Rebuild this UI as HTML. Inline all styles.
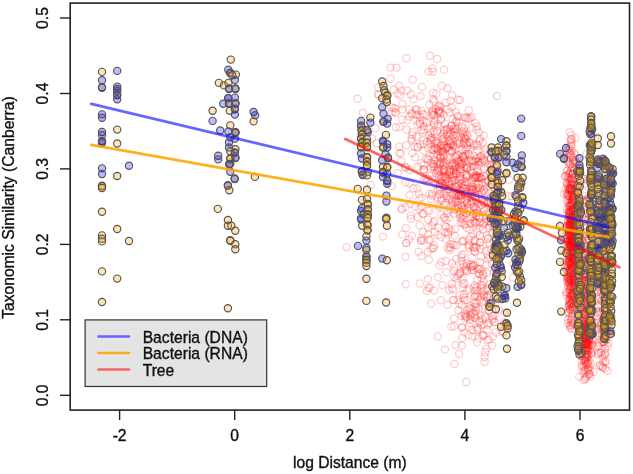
<!DOCTYPE html><html><head><meta charset="utf-8"><style>html,body{margin:0;padding:0;background:#fff;}svg{display:block;will-change:transform}</style></head><body><svg width="633" height="474" viewBox="0 0 633 474"><rect x="70.2" y="3.1" width="559.3" height="407" fill="none" stroke="#222" stroke-width="1.6"/><line x1="119.6" y1="410" x2="119.6" y2="420" stroke="#222" stroke-width="1.4"/><text x="119.6" y="441.4" text-anchor="middle" font-size="15.65" font-family="Liberation Sans, sans-serif" stroke="#111" stroke-width="0.35" fill="#111">-2</text><line x1="234.7" y1="410" x2="234.7" y2="420" stroke="#222" stroke-width="1.4"/><text x="234.7" y="441.4" text-anchor="middle" font-size="15.65" font-family="Liberation Sans, sans-serif" stroke="#111" stroke-width="0.35" fill="#111">0</text><line x1="349.8" y1="410" x2="349.8" y2="420" stroke="#222" stroke-width="1.4"/><text x="349.8" y="441.4" text-anchor="middle" font-size="15.65" font-family="Liberation Sans, sans-serif" stroke="#111" stroke-width="0.35" fill="#111">2</text><line x1="464.9" y1="410" x2="464.9" y2="420" stroke="#222" stroke-width="1.4"/><text x="464.9" y="441.4" text-anchor="middle" font-size="15.65" font-family="Liberation Sans, sans-serif" stroke="#111" stroke-width="0.35" fill="#111">4</text><line x1="580.0" y1="410" x2="580.0" y2="420" stroke="#222" stroke-width="1.4"/><text x="580.0" y="441.4" text-anchor="middle" font-size="15.65" font-family="Liberation Sans, sans-serif" stroke="#111" stroke-width="0.35" fill="#111">6</text><line x1="60" y1="395.3" x2="70.2" y2="395.3" stroke="#222" stroke-width="1.4"/><text transform="translate(48.3,395.3) rotate(-90)" text-anchor="middle" font-size="15.65" font-family="Liberation Sans, sans-serif" stroke="#111" stroke-width="0.35" fill="#111">0.0</text><line x1="60" y1="319.8" x2="70.2" y2="319.8" stroke="#222" stroke-width="1.4"/><text transform="translate(48.3,319.8) rotate(-90)" text-anchor="middle" font-size="15.65" font-family="Liberation Sans, sans-serif" stroke="#111" stroke-width="0.35" fill="#111">0.1</text><line x1="60" y1="244.4" x2="70.2" y2="244.4" stroke="#222" stroke-width="1.4"/><text transform="translate(48.3,244.4) rotate(-90)" text-anchor="middle" font-size="15.65" font-family="Liberation Sans, sans-serif" stroke="#111" stroke-width="0.35" fill="#111">0.2</text><line x1="60" y1="168.9" x2="70.2" y2="168.9" stroke="#222" stroke-width="1.4"/><text transform="translate(48.3,168.9) rotate(-90)" text-anchor="middle" font-size="15.65" font-family="Liberation Sans, sans-serif" stroke="#111" stroke-width="0.35" fill="#111">0.3</text><line x1="60" y1="93.5" x2="70.2" y2="93.5" stroke="#222" stroke-width="1.4"/><text transform="translate(48.3,93.5) rotate(-90)" text-anchor="middle" font-size="15.65" font-family="Liberation Sans, sans-serif" stroke="#111" stroke-width="0.35" fill="#111">0.4</text><line x1="60" y1="18.0" x2="70.2" y2="18.0" stroke="#222" stroke-width="1.4"/><text transform="translate(48.3,18.0) rotate(-90)" text-anchor="middle" font-size="15.65" font-family="Liberation Sans, sans-serif" stroke="#111" stroke-width="0.35" fill="#111">0.5</text><text x="349.9" y="467.8" text-anchor="middle" font-size="15.65" font-family="Liberation Sans, sans-serif" stroke="#111" stroke-width="0.35" fill="#111">log Distance (m)</text><text transform="translate(13.8,207.6) rotate(-90)" text-anchor="middle" font-size="15.65" font-family="Liberation Sans, sans-serif" stroke="#111" stroke-width="0.35" fill="#111">Taxonomic Similarity (Canberra)</text><g fill="none" stroke="rgba(255,0,0,0.2)" stroke-width="1.25"><circle cx="446.4" cy="163.8" r="3.6"/><circle cx="463.7" cy="158.2" r="3.6"/><circle cx="450.0" cy="130.3" r="3.6"/><circle cx="470.7" cy="218.9" r="3.6"/><circle cx="473.0" cy="214.4" r="3.6"/><circle cx="463.7" cy="187.6" r="3.6"/><circle cx="416.1" cy="109.1" r="3.6"/><circle cx="459.2" cy="194.8" r="3.6"/><circle cx="455.9" cy="129.8" r="3.6"/><circle cx="467.0" cy="182.1" r="3.6"/><circle cx="482.7" cy="186.0" r="3.6"/><circle cx="458.0" cy="185.8" r="3.6"/><circle cx="415.1" cy="157.2" r="3.6"/><circle cx="445.8" cy="202.6" r="3.6"/><circle cx="465.9" cy="138.6" r="3.6"/><circle cx="457.5" cy="155.1" r="3.6"/><circle cx="466.4" cy="197.8" r="3.6"/><circle cx="473.1" cy="143.9" r="3.6"/><circle cx="427.5" cy="158.8" r="3.6"/><circle cx="442.7" cy="139.1" r="3.6"/><circle cx="498.4" cy="175.1" r="3.6"/><circle cx="435.2" cy="182.7" r="3.6"/><circle cx="475.9" cy="158.9" r="3.6"/><circle cx="470.5" cy="189.8" r="3.6"/><circle cx="420.0" cy="117.1" r="3.6"/><circle cx="452.7" cy="205.1" r="3.6"/><circle cx="477.4" cy="231.8" r="3.6"/><circle cx="489.5" cy="164.2" r="3.6"/><circle cx="483.6" cy="190.1" r="3.6"/><circle cx="479.3" cy="141.1" r="3.6"/><circle cx="455.9" cy="126.1" r="3.6"/><circle cx="432.1" cy="112.5" r="3.6"/><circle cx="473.0" cy="233.7" r="3.6"/><circle cx="481.9" cy="178.5" r="3.6"/><circle cx="422.6" cy="132.4" r="3.6"/><circle cx="476.0" cy="216.2" r="3.6"/><circle cx="456.2" cy="183.6" r="3.6"/><circle cx="474.6" cy="240.1" r="3.6"/><circle cx="458.4" cy="195.7" r="3.6"/><circle cx="409.0" cy="116.6" r="3.6"/><circle cx="465.9" cy="213.3" r="3.6"/><circle cx="437.2" cy="170.9" r="3.6"/><circle cx="406.5" cy="129.8" r="3.6"/><circle cx="473.2" cy="191.3" r="3.6"/><circle cx="453.1" cy="188.6" r="3.6"/><circle cx="439.6" cy="184.4" r="3.6"/><circle cx="458.6" cy="139.6" r="3.6"/><circle cx="477.6" cy="212.7" r="3.6"/><circle cx="427.2" cy="141.9" r="3.6"/><circle cx="494.2" cy="226.1" r="3.6"/><circle cx="441.0" cy="112.6" r="3.6"/><circle cx="464.6" cy="161.5" r="3.6"/><circle cx="435.1" cy="143.1" r="3.6"/><circle cx="462.1" cy="223.1" r="3.6"/><circle cx="463.8" cy="185.3" r="3.6"/><circle cx="451.8" cy="181.0" r="3.6"/><circle cx="452.4" cy="165.1" r="3.6"/><circle cx="470.4" cy="193.4" r="3.6"/><circle cx="462.0" cy="205.8" r="3.6"/><circle cx="487.5" cy="254.7" r="3.6"/><circle cx="461.6" cy="149.5" r="3.6"/><circle cx="441.9" cy="177.1" r="3.6"/><circle cx="447.6" cy="159.4" r="3.6"/><circle cx="437.5" cy="126.2" r="3.6"/><circle cx="462.7" cy="188.2" r="3.6"/><circle cx="440.5" cy="157.8" r="3.6"/><circle cx="476.3" cy="177.2" r="3.6"/><circle cx="493.8" cy="272.1" r="3.6"/><circle cx="453.9" cy="146.6" r="3.6"/><circle cx="458.6" cy="160.3" r="3.6"/><circle cx="440.5" cy="175.1" r="3.6"/><circle cx="444.7" cy="217.2" r="3.6"/><circle cx="442.7" cy="161.2" r="3.6"/><circle cx="439.5" cy="187.0" r="3.6"/><circle cx="454.6" cy="165.5" r="3.6"/><circle cx="471.3" cy="203.7" r="3.6"/><circle cx="428.3" cy="179.0" r="3.6"/><circle cx="484.3" cy="210.4" r="3.6"/><circle cx="481.5" cy="205.1" r="3.6"/><circle cx="448.8" cy="181.2" r="3.6"/><circle cx="451.6" cy="184.3" r="3.6"/><circle cx="490.8" cy="187.1" r="3.6"/><circle cx="466.6" cy="227.8" r="3.6"/><circle cx="484.3" cy="160.6" r="3.6"/><circle cx="441.2" cy="214.4" r="3.6"/><circle cx="414.5" cy="146.5" r="3.6"/><circle cx="480.9" cy="208.8" r="3.6"/><circle cx="471.7" cy="161.1" r="3.6"/><circle cx="459.2" cy="189.7" r="3.6"/><circle cx="449.4" cy="228.6" r="3.6"/><circle cx="488.6" cy="227.8" r="3.6"/><circle cx="428.0" cy="148.0" r="3.6"/><circle cx="460.4" cy="175.7" r="3.6"/><circle cx="489.8" cy="225.9" r="3.6"/><circle cx="478.7" cy="177.9" r="3.6"/><circle cx="443.9" cy="176.5" r="3.6"/><circle cx="435.2" cy="184.2" r="3.6"/><circle cx="438.8" cy="176.1" r="3.6"/><circle cx="452.7" cy="244.1" r="3.6"/><circle cx="432.0" cy="149.8" r="3.6"/><circle cx="441.0" cy="119.6" r="3.6"/><circle cx="458.4" cy="161.9" r="3.6"/><circle cx="446.5" cy="147.8" r="3.6"/><circle cx="489.6" cy="243.4" r="3.6"/><circle cx="449.3" cy="199.9" r="3.6"/><circle cx="483.4" cy="151.5" r="3.6"/><circle cx="429.9" cy="156.2" r="3.6"/><circle cx="461.4" cy="217.6" r="3.6"/><circle cx="444.7" cy="176.9" r="3.6"/><circle cx="487.8" cy="167.1" r="3.6"/><circle cx="487.7" cy="203.0" r="3.6"/><circle cx="461.9" cy="126.8" r="3.6"/><circle cx="438.1" cy="106.5" r="3.6"/><circle cx="434.1" cy="124.9" r="3.6"/><circle cx="478.6" cy="197.3" r="3.6"/><circle cx="475.2" cy="178.1" r="3.6"/><circle cx="458.6" cy="208.0" r="3.6"/><circle cx="465.3" cy="199.9" r="3.6"/><circle cx="469.5" cy="229.8" r="3.6"/><circle cx="449.1" cy="217.4" r="3.6"/><circle cx="465.7" cy="154.0" r="3.6"/><circle cx="419.3" cy="209.1" r="3.6"/><circle cx="431.6" cy="137.8" r="3.6"/><circle cx="494.5" cy="246.0" r="3.6"/><circle cx="451.8" cy="200.3" r="3.6"/><circle cx="447.9" cy="132.3" r="3.6"/><circle cx="449.0" cy="188.7" r="3.6"/><circle cx="464.4" cy="167.0" r="3.6"/><circle cx="451.6" cy="125.6" r="3.6"/><circle cx="473.6" cy="207.2" r="3.6"/><circle cx="464.1" cy="128.3" r="3.6"/><circle cx="481.7" cy="288.2" r="3.6"/><circle cx="461.4" cy="199.3" r="3.6"/><circle cx="480.0" cy="242.2" r="3.6"/><circle cx="449.2" cy="171.6" r="3.6"/><circle cx="480.7" cy="177.5" r="3.6"/><circle cx="445.9" cy="239.0" r="3.6"/><circle cx="451.5" cy="107.3" r="3.6"/><circle cx="462.1" cy="183.4" r="3.6"/><circle cx="474.3" cy="145.7" r="3.6"/><circle cx="474.8" cy="265.1" r="3.6"/><circle cx="468.8" cy="110.2" r="3.6"/><circle cx="468.9" cy="247.6" r="3.6"/><circle cx="474.5" cy="251.0" r="3.6"/><circle cx="441.3" cy="136.6" r="3.6"/><circle cx="449.4" cy="171.9" r="3.6"/><circle cx="451.5" cy="139.3" r="3.6"/><circle cx="460.9" cy="191.8" r="3.6"/><circle cx="467.3" cy="197.8" r="3.6"/><circle cx="439.6" cy="163.3" r="3.6"/><circle cx="478.7" cy="165.2" r="3.6"/><circle cx="450.7" cy="144.5" r="3.6"/><circle cx="456.0" cy="166.8" r="3.6"/><circle cx="457.4" cy="171.4" r="3.6"/><circle cx="484.5" cy="154.2" r="3.6"/><circle cx="446.5" cy="195.9" r="3.6"/><circle cx="472.0" cy="186.2" r="3.6"/><circle cx="488.1" cy="180.3" r="3.6"/><circle cx="430.6" cy="138.1" r="3.6"/><circle cx="411.7" cy="140.6" r="3.6"/><circle cx="482.6" cy="143.1" r="3.6"/><circle cx="437.8" cy="143.2" r="3.6"/><circle cx="465.6" cy="191.7" r="3.6"/><circle cx="471.0" cy="236.4" r="3.6"/><circle cx="448.5" cy="174.1" r="3.6"/><circle cx="468.5" cy="245.5" r="3.6"/><circle cx="500.0" cy="202.8" r="3.6"/><circle cx="443.7" cy="170.0" r="3.6"/><circle cx="434.3" cy="166.7" r="3.6"/><circle cx="452.3" cy="201.8" r="3.6"/><circle cx="405.6" cy="182.3" r="3.6"/><circle cx="485.8" cy="218.8" r="3.6"/><circle cx="409.6" cy="195.1" r="3.6"/><circle cx="437.5" cy="163.2" r="3.6"/><circle cx="477.0" cy="210.1" r="3.6"/><circle cx="437.9" cy="123.9" r="3.6"/><circle cx="443.9" cy="194.0" r="3.6"/><circle cx="473.4" cy="202.1" r="3.6"/><circle cx="464.1" cy="209.3" r="3.6"/><circle cx="463.3" cy="178.9" r="3.6"/><circle cx="443.0" cy="165.7" r="3.6"/><circle cx="456.4" cy="121.8" r="3.6"/><circle cx="490.9" cy="158.1" r="3.6"/><circle cx="438.1" cy="146.8" r="3.6"/><circle cx="471.4" cy="192.7" r="3.6"/><circle cx="486.1" cy="148.9" r="3.6"/><circle cx="480.6" cy="248.8" r="3.6"/><circle cx="497.0" cy="207.3" r="3.6"/><circle cx="454.8" cy="209.5" r="3.6"/><circle cx="479.2" cy="132.8" r="3.6"/><circle cx="456.4" cy="173.3" r="3.6"/><circle cx="457.1" cy="201.7" r="3.6"/><circle cx="462.0" cy="240.9" r="3.6"/><circle cx="449.7" cy="112.3" r="3.6"/><circle cx="465.5" cy="117.9" r="3.6"/><circle cx="459.5" cy="166.7" r="3.6"/><circle cx="441.1" cy="119.3" r="3.6"/><circle cx="464.1" cy="159.3" r="3.6"/><circle cx="475.5" cy="161.2" r="3.6"/><circle cx="465.3" cy="201.5" r="3.6"/><circle cx="473.3" cy="160.9" r="3.6"/><circle cx="444.1" cy="130.3" r="3.6"/><circle cx="432.1" cy="110.3" r="3.6"/><circle cx="491.5" cy="164.7" r="3.6"/><circle cx="463.3" cy="157.2" r="3.6"/><circle cx="456.1" cy="193.8" r="3.6"/><circle cx="477.8" cy="161.5" r="3.6"/><circle cx="460.0" cy="163.6" r="3.6"/><circle cx="467.1" cy="202.4" r="3.6"/><circle cx="476.7" cy="129.4" r="3.6"/><circle cx="470.0" cy="148.7" r="3.6"/><circle cx="445.0" cy="123.7" r="3.6"/><circle cx="450.8" cy="150.8" r="3.6"/><circle cx="478.0" cy="187.9" r="3.6"/><circle cx="476.7" cy="215.9" r="3.6"/><circle cx="443.6" cy="141.4" r="3.6"/><circle cx="423.3" cy="213.8" r="3.6"/><circle cx="440.2" cy="193.7" r="3.6"/><circle cx="454.3" cy="209.1" r="3.6"/><circle cx="472.6" cy="189.5" r="3.6"/><circle cx="491.4" cy="181.9" r="3.6"/><circle cx="421.8" cy="197.6" r="3.6"/><circle cx="456.9" cy="161.0" r="3.6"/><circle cx="479.6" cy="217.7" r="3.6"/><circle cx="442.4" cy="139.2" r="3.6"/><circle cx="456.1" cy="199.6" r="3.6"/><circle cx="412.5" cy="152.9" r="3.6"/><circle cx="488.1" cy="238.1" r="3.6"/><circle cx="474.2" cy="177.4" r="3.6"/><circle cx="498.7" cy="221.9" r="3.6"/><circle cx="481.9" cy="193.5" r="3.6"/><circle cx="434.9" cy="147.6" r="3.6"/><circle cx="483.2" cy="224.3" r="3.6"/><circle cx="433.3" cy="149.1" r="3.6"/><circle cx="453.8" cy="170.5" r="3.6"/><circle cx="463.0" cy="241.5" r="3.6"/><circle cx="405.9" cy="167.6" r="3.6"/><circle cx="445.0" cy="176.6" r="3.6"/><circle cx="451.2" cy="143.2" r="3.6"/><circle cx="395.7" cy="113.3" r="3.6"/><circle cx="489.8" cy="214.2" r="3.6"/><circle cx="466.4" cy="165.0" r="3.6"/><circle cx="481.2" cy="156.1" r="3.6"/><circle cx="490.7" cy="159.1" r="3.6"/><circle cx="453.5" cy="169.6" r="3.6"/><circle cx="473.4" cy="187.2" r="3.6"/><circle cx="442.8" cy="134.4" r="3.6"/><circle cx="421.1" cy="163.1" r="3.6"/><circle cx="476.0" cy="200.4" r="3.6"/><circle cx="467.6" cy="145.0" r="3.6"/><circle cx="452.8" cy="128.9" r="3.6"/><circle cx="455.3" cy="186.3" r="3.6"/><circle cx="427.6" cy="210.5" r="3.6"/><circle cx="449.1" cy="141.4" r="3.6"/><circle cx="448.9" cy="150.1" r="3.6"/><circle cx="455.2" cy="179.7" r="3.6"/><circle cx="449.6" cy="163.3" r="3.6"/><circle cx="446.1" cy="178.5" r="3.6"/><circle cx="482.0" cy="161.4" r="3.6"/><circle cx="431.0" cy="132.6" r="3.6"/><circle cx="437.3" cy="148.7" r="3.6"/><circle cx="467.0" cy="203.0" r="3.6"/><circle cx="471.5" cy="189.9" r="3.6"/><circle cx="438.4" cy="112.3" r="3.6"/><circle cx="479.3" cy="184.2" r="3.6"/><circle cx="444.1" cy="172.1" r="3.6"/><circle cx="433.5" cy="139.5" r="3.6"/><circle cx="466.5" cy="174.7" r="3.6"/><circle cx="479.9" cy="235.4" r="3.6"/><circle cx="489.9" cy="200.9" r="3.6"/><circle cx="460.9" cy="169.3" r="3.6"/><circle cx="402.3" cy="109.4" r="3.6"/><circle cx="475.9" cy="199.3" r="3.6"/><circle cx="460.9" cy="191.3" r="3.6"/><circle cx="440.6" cy="107.1" r="3.6"/><circle cx="497.3" cy="226.2" r="3.6"/><circle cx="471.9" cy="117.1" r="3.6"/><circle cx="434.0" cy="122.9" r="3.6"/><circle cx="480.1" cy="242.6" r="3.6"/><circle cx="419.5" cy="198.4" r="3.6"/><circle cx="466.2" cy="143.3" r="3.6"/><circle cx="458.5" cy="196.1" r="3.6"/><circle cx="468.1" cy="119.0" r="3.6"/><circle cx="460.8" cy="183.9" r="3.6"/><circle cx="443.6" cy="115.0" r="3.6"/><circle cx="442.7" cy="151.7" r="3.6"/><circle cx="460.8" cy="164.5" r="3.6"/><circle cx="433.7" cy="164.3" r="3.6"/><circle cx="491.4" cy="223.7" r="3.6"/><circle cx="490.4" cy="198.3" r="3.6"/><circle cx="446.9" cy="179.1" r="3.6"/><circle cx="493.8" cy="228.6" r="3.6"/><circle cx="455.8" cy="168.6" r="3.6"/><circle cx="436.0" cy="109.0" r="3.6"/><circle cx="442.3" cy="145.5" r="3.6"/><circle cx="456.3" cy="173.7" r="3.6"/><circle cx="433.8" cy="154.9" r="3.6"/><circle cx="468.9" cy="153.9" r="3.6"/><circle cx="450.3" cy="142.2" r="3.6"/><circle cx="478.3" cy="203.3" r="3.6"/><circle cx="479.5" cy="177.2" r="3.6"/><circle cx="432.0" cy="196.0" r="3.6"/><circle cx="401.4" cy="161.5" r="3.6"/><circle cx="450.0" cy="143.9" r="3.6"/><circle cx="443.0" cy="185.5" r="3.6"/><circle cx="454.8" cy="201.3" r="3.6"/><circle cx="417.6" cy="217.1" r="3.6"/><circle cx="459.2" cy="180.5" r="3.6"/><circle cx="468.8" cy="210.9" r="3.6"/><circle cx="482.0" cy="200.1" r="3.6"/><circle cx="432.3" cy="225.4" r="3.6"/><circle cx="466.1" cy="167.7" r="3.6"/><circle cx="469.9" cy="142.7" r="3.6"/><circle cx="437.6" cy="149.6" r="3.6"/><circle cx="460.3" cy="172.0" r="3.6"/><circle cx="439.5" cy="170.5" r="3.6"/><circle cx="472.0" cy="189.0" r="3.6"/><circle cx="475.1" cy="195.9" r="3.6"/><circle cx="412.3" cy="135.0" r="3.6"/><circle cx="488.2" cy="181.1" r="3.6"/><circle cx="471.7" cy="216.9" r="3.6"/><circle cx="402.4" cy="119.4" r="3.6"/><circle cx="448.3" cy="191.0" r="3.6"/><circle cx="467.3" cy="176.8" r="3.6"/><circle cx="415.7" cy="114.8" r="3.6"/><circle cx="467.3" cy="168.9" r="3.6"/><circle cx="465.2" cy="185.0" r="3.6"/><circle cx="479.7" cy="194.5" r="3.6"/><circle cx="440.2" cy="158.3" r="3.6"/><circle cx="490.5" cy="221.5" r="3.6"/><circle cx="426.7" cy="178.1" r="3.6"/><circle cx="440.7" cy="162.8" r="3.6"/><circle cx="487.9" cy="238.8" r="3.6"/><circle cx="495.7" cy="214.2" r="3.6"/><circle cx="466.0" cy="177.8" r="3.6"/><circle cx="439.9" cy="184.0" r="3.6"/><circle cx="441.4" cy="150.6" r="3.6"/><circle cx="433.5" cy="131.1" r="3.6"/><circle cx="476.1" cy="191.0" r="3.6"/><circle cx="460.9" cy="137.0" r="3.6"/><circle cx="436.9" cy="160.7" r="3.6"/><circle cx="470.5" cy="170.1" r="3.6"/><circle cx="437.7" cy="205.2" r="3.6"/><circle cx="453.6" cy="173.3" r="3.6"/><circle cx="476.0" cy="222.8" r="3.6"/><circle cx="451.8" cy="171.8" r="3.6"/><circle cx="463.3" cy="214.9" r="3.6"/><circle cx="478.0" cy="150.2" r="3.6"/><circle cx="441.6" cy="182.7" r="3.6"/><circle cx="464.0" cy="117.1" r="3.6"/><circle cx="465.6" cy="155.8" r="3.6"/><circle cx="482.7" cy="182.6" r="3.6"/><circle cx="454.5" cy="130.8" r="3.6"/><circle cx="473.7" cy="162.5" r="3.6"/><circle cx="445.9" cy="176.7" r="3.6"/><circle cx="445.8" cy="232.4" r="3.6"/><circle cx="456.6" cy="134.6" r="3.6"/><circle cx="449.7" cy="140.2" r="3.6"/><circle cx="497.3" cy="180.1" r="3.6"/><circle cx="469.2" cy="188.7" r="3.6"/><circle cx="470.0" cy="204.7" r="3.6"/><circle cx="459.8" cy="193.0" r="3.6"/><circle cx="487.1" cy="221.4" r="3.6"/><circle cx="483.8" cy="202.3" r="3.6"/><circle cx="489.6" cy="193.0" r="3.6"/><circle cx="423.9" cy="179.8" r="3.6"/><circle cx="471.6" cy="186.9" r="3.6"/><circle cx="458.2" cy="116.8" r="3.6"/><circle cx="445.0" cy="185.6" r="3.6"/><circle cx="457.3" cy="191.7" r="3.6"/><circle cx="432.7" cy="179.4" r="3.6"/><circle cx="465.8" cy="149.5" r="3.6"/><circle cx="474.3" cy="206.8" r="3.6"/><circle cx="468.2" cy="153.9" r="3.6"/><circle cx="444.0" cy="164.7" r="3.6"/><circle cx="491.5" cy="174.5" r="3.6"/><circle cx="464.4" cy="188.9" r="3.6"/><circle cx="428.8" cy="135.6" r="3.6"/><circle cx="463.2" cy="155.8" r="3.6"/><circle cx="447.2" cy="213.4" r="3.6"/><circle cx="440.7" cy="145.5" r="3.6"/><circle cx="399.4" cy="153.3" r="3.6"/><circle cx="428.5" cy="159.7" r="3.6"/><circle cx="433.8" cy="150.3" r="3.6"/><circle cx="443.6" cy="156.4" r="3.6"/><circle cx="473.1" cy="160.7" r="3.6"/><circle cx="494.9" cy="258.5" r="3.6"/><circle cx="416.5" cy="110.0" r="3.6"/><circle cx="409.1" cy="109.2" r="3.6"/><circle cx="448.5" cy="147.6" r="3.6"/><circle cx="479.4" cy="222.4" r="3.6"/><circle cx="465.4" cy="224.3" r="3.6"/><circle cx="430.0" cy="143.8" r="3.6"/><circle cx="456.0" cy="195.6" r="3.6"/><circle cx="460.9" cy="212.8" r="3.6"/><circle cx="453.7" cy="181.0" r="3.6"/><circle cx="454.8" cy="156.9" r="3.6"/><circle cx="484.6" cy="202.5" r="3.6"/><circle cx="496.0" cy="210.3" r="3.6"/><circle cx="476.2" cy="176.5" r="3.6"/><circle cx="477.7" cy="170.8" r="3.6"/><circle cx="412.4" cy="113.8" r="3.6"/><circle cx="477.4" cy="177.8" r="3.6"/><circle cx="444.1" cy="186.4" r="3.6"/><circle cx="447.1" cy="129.2" r="3.6"/><circle cx="459.2" cy="196.3" r="3.6"/><circle cx="474.8" cy="223.4" r="3.6"/><circle cx="466.9" cy="168.2" r="3.6"/><circle cx="474.0" cy="177.2" r="3.6"/><circle cx="459.2" cy="122.1" r="3.6"/><circle cx="463.7" cy="140.6" r="3.6"/><circle cx="428.9" cy="128.0" r="3.6"/><circle cx="426.0" cy="122.0" r="3.6"/><circle cx="437.1" cy="131.5" r="3.6"/><circle cx="479.5" cy="227.7" r="3.6"/><circle cx="448.0" cy="140.6" r="3.6"/><circle cx="498.8" cy="161.8" r="3.6"/><circle cx="447.7" cy="146.6" r="3.6"/><circle cx="451.6" cy="151.5" r="3.6"/><circle cx="457.5" cy="206.3" r="3.6"/><circle cx="463.9" cy="211.8" r="3.6"/><circle cx="456.6" cy="158.1" r="3.6"/><circle cx="462.9" cy="156.4" r="3.6"/><circle cx="456.0" cy="156.2" r="3.6"/><circle cx="445.4" cy="130.1" r="3.6"/><circle cx="472.9" cy="189.7" r="3.6"/><circle cx="423.0" cy="231.9" r="3.6"/><circle cx="475.7" cy="188.7" r="3.6"/><circle cx="467.5" cy="207.8" r="3.6"/><circle cx="473.4" cy="166.1" r="3.6"/><circle cx="481.4" cy="192.0" r="3.6"/><circle cx="475.1" cy="174.9" r="3.6"/><circle cx="448.9" cy="184.5" r="3.6"/><circle cx="447.2" cy="134.0" r="3.6"/><circle cx="468.2" cy="196.4" r="3.6"/><circle cx="440.9" cy="237.1" r="3.6"/><circle cx="443.9" cy="217.6" r="3.6"/><circle cx="459.6" cy="214.3" r="3.6"/><circle cx="465.4" cy="138.9" r="3.6"/><circle cx="494.2" cy="198.7" r="3.6"/><circle cx="462.8" cy="287.5" r="3.6"/><circle cx="464.6" cy="136.0" r="3.6"/><circle cx="480.1" cy="173.3" r="3.6"/><circle cx="484.2" cy="222.8" r="3.6"/><circle cx="416.4" cy="136.5" r="3.6"/><circle cx="446.9" cy="148.0" r="3.6"/><circle cx="467.2" cy="166.9" r="3.6"/><circle cx="480.5" cy="177.5" r="3.6"/><circle cx="455.6" cy="112.1" r="3.6"/><circle cx="459.5" cy="169.5" r="3.6"/><circle cx="467.7" cy="193.7" r="3.6"/><circle cx="462.4" cy="131.8" r="3.6"/><circle cx="458.2" cy="194.1" r="3.6"/><circle cx="462.6" cy="163.6" r="3.6"/><circle cx="476.1" cy="208.3" r="3.6"/><circle cx="461.3" cy="204.9" r="3.6"/><circle cx="437.9" cy="189.5" r="3.6"/><circle cx="458.9" cy="143.7" r="3.6"/><circle cx="463.9" cy="130.5" r="3.6"/><circle cx="450.8" cy="248.0" r="3.6"/><circle cx="449.8" cy="175.6" r="3.6"/><circle cx="463.9" cy="224.6" r="3.6"/><circle cx="441.2" cy="147.6" r="3.6"/><circle cx="482.5" cy="229.4" r="3.6"/><circle cx="454.1" cy="132.1" r="3.6"/><circle cx="467.6" cy="136.0" r="3.6"/><circle cx="498.5" cy="226.1" r="3.6"/><circle cx="417.2" cy="188.7" r="3.6"/><circle cx="473.7" cy="221.1" r="3.6"/><circle cx="442.5" cy="148.4" r="3.6"/><circle cx="475.0" cy="241.3" r="3.6"/><circle cx="479.8" cy="222.3" r="3.6"/><circle cx="473.6" cy="189.4" r="3.6"/><circle cx="441.5" cy="198.1" r="3.6"/><circle cx="438.7" cy="111.1" r="3.6"/><circle cx="476.6" cy="175.1" r="3.6"/><circle cx="439.9" cy="163.9" r="3.6"/><circle cx="481.2" cy="256.8" r="3.6"/><circle cx="498.0" cy="170.5" r="3.6"/><circle cx="491.2" cy="249.3" r="3.6"/><circle cx="483.3" cy="159.4" r="3.6"/><circle cx="482.4" cy="158.6" r="3.6"/><circle cx="452.7" cy="176.7" r="3.6"/><circle cx="455.8" cy="173.6" r="3.6"/><circle cx="417.8" cy="147.0" r="3.6"/><circle cx="473.5" cy="156.1" r="3.6"/><circle cx="451.6" cy="125.9" r="3.6"/><circle cx="489.9" cy="172.1" r="3.6"/><circle cx="429.6" cy="176.1" r="3.6"/><circle cx="475.4" cy="196.6" r="3.6"/><circle cx="465.6" cy="174.2" r="3.6"/><circle cx="445.3" cy="174.1" r="3.6"/><circle cx="478.8" cy="161.8" r="3.6"/><circle cx="484.2" cy="191.5" r="3.6"/><circle cx="419.0" cy="194.0" r="3.6"/><circle cx="466.7" cy="118.0" r="3.6"/><circle cx="424.0" cy="114.6" r="3.6"/><circle cx="455.7" cy="135.3" r="3.6"/><circle cx="438.8" cy="194.7" r="3.6"/><circle cx="471.9" cy="257.7" r="3.6"/><circle cx="459.6" cy="177.4" r="3.6"/><circle cx="461.6" cy="255.3" r="3.6"/><circle cx="446.5" cy="161.1" r="3.6"/><circle cx="464.7" cy="182.1" r="3.6"/><circle cx="479.8" cy="138.7" r="3.6"/><circle cx="483.7" cy="135.5" r="3.6"/><circle cx="470.2" cy="224.3" r="3.6"/><circle cx="412.7" cy="132.3" r="3.6"/><circle cx="474.8" cy="251.8" r="3.6"/><circle cx="461.1" cy="195.1" r="3.6"/><circle cx="460.8" cy="179.6" r="3.6"/><circle cx="464.2" cy="142.3" r="3.6"/><circle cx="461.6" cy="187.2" r="3.6"/><circle cx="475.3" cy="165.7" r="3.6"/><circle cx="434.3" cy="159.8" r="3.6"/><circle cx="471.5" cy="202.0" r="3.6"/><circle cx="424.0" cy="169.6" r="3.6"/><circle cx="438.0" cy="151.1" r="3.6"/><circle cx="485.4" cy="214.9" r="3.6"/><circle cx="497.4" cy="194.5" r="3.6"/><circle cx="473.6" cy="213.0" r="3.6"/><circle cx="421.2" cy="110.8" r="3.6"/><circle cx="420.1" cy="144.2" r="3.6"/><circle cx="453.2" cy="140.9" r="3.6"/><circle cx="472.4" cy="178.8" r="3.6"/><circle cx="476.6" cy="176.0" r="3.6"/><circle cx="472.0" cy="197.5" r="3.6"/><circle cx="479.5" cy="217.6" r="3.6"/><circle cx="446.9" cy="197.9" r="3.6"/><circle cx="411.6" cy="138.6" r="3.6"/><circle cx="409.5" cy="183.2" r="3.6"/><circle cx="444.7" cy="169.6" r="3.6"/><circle cx="477.7" cy="145.8" r="3.6"/><circle cx="460.6" cy="222.2" r="3.6"/><circle cx="468.9" cy="239.8" r="3.6"/><circle cx="464.0" cy="137.9" r="3.6"/><circle cx="435.7" cy="141.5" r="3.6"/><circle cx="471.9" cy="181.1" r="3.6"/><circle cx="466.8" cy="175.8" r="3.6"/><circle cx="449.2" cy="184.9" r="3.6"/><circle cx="490.8" cy="203.5" r="3.6"/><circle cx="407.0" cy="120.3" r="3.6"/><circle cx="440.3" cy="183.8" r="3.6"/><circle cx="490.8" cy="159.2" r="3.6"/><circle cx="437.7" cy="154.9" r="3.6"/><circle cx="446.3" cy="227.1" r="3.6"/><circle cx="475.4" cy="123.2" r="3.6"/><circle cx="450.4" cy="199.0" r="3.6"/><circle cx="490.7" cy="167.1" r="3.6"/><circle cx="457.7" cy="208.4" r="3.6"/><circle cx="480.1" cy="188.6" r="3.6"/><circle cx="449.9" cy="188.9" r="3.6"/><circle cx="456.6" cy="187.4" r="3.6"/><circle cx="443.1" cy="177.9" r="3.6"/><circle cx="453.0" cy="145.4" r="3.6"/><circle cx="444.3" cy="162.3" r="3.6"/><circle cx="492.4" cy="233.0" r="3.6"/><circle cx="463.7" cy="266.4" r="3.6"/><circle cx="462.1" cy="207.1" r="3.6"/><circle cx="493.9" cy="240.8" r="3.6"/><circle cx="480.8" cy="156.7" r="3.6"/><circle cx="441.4" cy="200.4" r="3.6"/><circle cx="461.1" cy="195.2" r="3.6"/><circle cx="454.2" cy="163.2" r="3.6"/><circle cx="416.1" cy="120.5" r="3.6"/><circle cx="476.8" cy="144.2" r="3.6"/><circle cx="465.4" cy="132.5" r="3.6"/><circle cx="453.5" cy="213.6" r="3.6"/><circle cx="419.7" cy="122.2" r="3.6"/><circle cx="487.5" cy="201.5" r="3.6"/><circle cx="443.6" cy="147.0" r="3.6"/><circle cx="496.1" cy="166.9" r="3.6"/><circle cx="467.0" cy="134.7" r="3.6"/><circle cx="425.6" cy="158.6" r="3.6"/><circle cx="462.8" cy="209.7" r="3.6"/><circle cx="497.8" cy="170.3" r="3.6"/><circle cx="463.7" cy="144.2" r="3.6"/><circle cx="434.5" cy="134.3" r="3.6"/><circle cx="463.3" cy="133.9" r="3.6"/><circle cx="443.7" cy="205.3" r="3.6"/><circle cx="483.8" cy="169.1" r="3.6"/><circle cx="475.0" cy="222.1" r="3.6"/><circle cx="446.1" cy="220.0" r="3.6"/><circle cx="488.6" cy="212.3" r="3.6"/><circle cx="462.5" cy="219.3" r="3.6"/><circle cx="439.8" cy="111.0" r="3.6"/><circle cx="492.3" cy="184.8" r="3.6"/><circle cx="437.2" cy="197.5" r="3.6"/><circle cx="417.5" cy="124.7" r="3.6"/><circle cx="454.2" cy="271.1" r="3.6"/><circle cx="452.0" cy="163.6" r="3.6"/><circle cx="438.1" cy="171.9" r="3.6"/><circle cx="476.3" cy="213.1" r="3.6"/><circle cx="423.5" cy="120.7" r="3.6"/><circle cx="440.4" cy="156.0" r="3.6"/><circle cx="432.2" cy="194.1" r="3.6"/><circle cx="489.0" cy="212.7" r="3.6"/><circle cx="430.8" cy="198.8" r="3.6"/><circle cx="443.3" cy="151.7" r="3.6"/><circle cx="455.0" cy="228.9" r="3.6"/><circle cx="496.5" cy="180.3" r="3.6"/><circle cx="435.2" cy="120.6" r="3.6"/><circle cx="415.4" cy="206.8" r="3.6"/><circle cx="423.6" cy="144.2" r="3.6"/><circle cx="444.1" cy="138.0" r="3.6"/><circle cx="456.0" cy="148.6" r="3.6"/><circle cx="485.3" cy="182.5" r="3.6"/><circle cx="481.7" cy="183.8" r="3.6"/><circle cx="441.1" cy="152.2" r="3.6"/><circle cx="445.7" cy="149.0" r="3.6"/><circle cx="486.8" cy="235.5" r="3.6"/><circle cx="443.6" cy="170.1" r="3.6"/><circle cx="432.9" cy="164.0" r="3.6"/><circle cx="427.2" cy="122.8" r="3.6"/><circle cx="468.9" cy="142.5" r="3.6"/><circle cx="476.5" cy="247.1" r="3.6"/><circle cx="451.0" cy="230.9" r="3.6"/><circle cx="461.7" cy="164.2" r="3.6"/><circle cx="497.9" cy="271.7" r="3.6"/><circle cx="466.9" cy="147.6" r="3.6"/><circle cx="439.9" cy="189.8" r="3.6"/><circle cx="417.5" cy="147.2" r="3.6"/><circle cx="406.4" cy="243.0" r="3.6"/><circle cx="405.8" cy="207.2" r="3.6"/><circle cx="431.3" cy="114.2" r="3.6"/><circle cx="424.1" cy="170.1" r="3.6"/><circle cx="431.5" cy="140.3" r="3.6"/><circle cx="423.7" cy="130.0" r="3.6"/><circle cx="482.0" cy="271.1" r="3.6"/><circle cx="399.7" cy="127.0" r="3.6"/><circle cx="452.0" cy="180.8" r="3.6"/><circle cx="463.6" cy="240.7" r="3.6"/><circle cx="449.8" cy="170.1" r="3.6"/><circle cx="476.8" cy="126.5" r="3.6"/><circle cx="395.8" cy="127.3" r="3.6"/><circle cx="413.4" cy="188.2" r="3.6"/><circle cx="472.2" cy="172.8" r="3.6"/><circle cx="479.4" cy="176.0" r="3.6"/><circle cx="422.1" cy="114.0" r="3.6"/><circle cx="406.1" cy="145.3" r="3.6"/><circle cx="463.5" cy="254.2" r="3.6"/><circle cx="488.0" cy="203.8" r="3.6"/><circle cx="450.5" cy="209.5" r="3.6"/><circle cx="454.3" cy="197.6" r="3.6"/><circle cx="488.5" cy="221.1" r="3.6"/><circle cx="490.2" cy="217.3" r="3.6"/><circle cx="469.7" cy="118.2" r="3.6"/><circle cx="453.0" cy="135.3" r="3.6"/><circle cx="457.4" cy="116.1" r="3.6"/><circle cx="455.4" cy="156.2" r="3.6"/><circle cx="434.8" cy="169.8" r="3.6"/><circle cx="452.6" cy="119.1" r="3.6"/><circle cx="432.7" cy="115.2" r="3.6"/><circle cx="400.9" cy="153.3" r="3.6"/><circle cx="399.3" cy="146.8" r="3.6"/><circle cx="454.6" cy="235.6" r="3.6"/><circle cx="447.4" cy="189.6" r="3.6"/><circle cx="489.6" cy="172.4" r="3.6"/><circle cx="478.8" cy="207.7" r="3.6"/><circle cx="460.1" cy="217.8" r="3.6"/><circle cx="470.5" cy="223.1" r="3.6"/><circle cx="423.2" cy="140.4" r="3.6"/><circle cx="447.3" cy="128.6" r="3.6"/><circle cx="437.8" cy="167.7" r="3.6"/><circle cx="473.8" cy="247.8" r="3.6"/><circle cx="426.8" cy="291.0" r="3.6"/><circle cx="446.4" cy="272.2" r="3.6"/><circle cx="438.7" cy="169.3" r="3.6"/><circle cx="459.7" cy="142.5" r="3.6"/><circle cx="458.7" cy="148.0" r="3.6"/><circle cx="461.2" cy="261.1" r="3.6"/><circle cx="451.9" cy="151.6" r="3.6"/><circle cx="444.0" cy="156.3" r="3.6"/><circle cx="469.3" cy="244.7" r="3.6"/><circle cx="455.6" cy="164.9" r="3.6"/><circle cx="409.1" cy="239.4" r="3.6"/><circle cx="430.9" cy="140.3" r="3.6"/><circle cx="421.0" cy="241.0" r="3.6"/><circle cx="447.3" cy="109.3" r="3.6"/><circle cx="497.0" cy="247.2" r="3.6"/><circle cx="433.0" cy="112.0" r="3.6"/><circle cx="466.6" cy="316.9" r="3.6"/><circle cx="491.8" cy="264.0" r="3.6"/><circle cx="440.0" cy="113.8" r="3.6"/><circle cx="470.8" cy="166.9" r="3.6"/><circle cx="457.9" cy="205.0" r="3.6"/><circle cx="466.7" cy="271.3" r="3.6"/><circle cx="434.3" cy="114.2" r="3.6"/><circle cx="423.5" cy="150.5" r="3.6"/><circle cx="401.9" cy="209.5" r="3.6"/><circle cx="465.0" cy="194.3" r="3.6"/><circle cx="419.9" cy="123.7" r="3.6"/><circle cx="480.5" cy="162.9" r="3.6"/><circle cx="445.9" cy="260.9" r="3.6"/><circle cx="465.1" cy="156.6" r="3.6"/><circle cx="486.5" cy="202.2" r="3.6"/><circle cx="426.5" cy="181.7" r="3.6"/><circle cx="410.8" cy="215.6" r="3.6"/><circle cx="395.2" cy="112.1" r="3.6"/><circle cx="436.5" cy="173.4" r="3.6"/><circle cx="463.0" cy="215.4" r="3.6"/><circle cx="438.2" cy="235.1" r="3.6"/><circle cx="461.0" cy="160.6" r="3.6"/><circle cx="439.1" cy="110.0" r="3.6"/><circle cx="436.1" cy="148.1" r="3.6"/><circle cx="489.1" cy="339.5" r="3.6"/><circle cx="485.0" cy="193.3" r="3.6"/><circle cx="433.6" cy="115.1" r="3.6"/><circle cx="477.1" cy="157.9" r="3.6"/><circle cx="495.2" cy="245.5" r="3.6"/><circle cx="431.1" cy="163.1" r="3.6"/><circle cx="425.5" cy="178.7" r="3.6"/><circle cx="441.4" cy="178.2" r="3.6"/><circle cx="453.3" cy="175.2" r="3.6"/><circle cx="439.3" cy="105.4" r="3.6"/><circle cx="428.3" cy="288.1" r="3.6"/><circle cx="398.0" cy="173.1" r="3.6"/><circle cx="456.4" cy="121.1" r="3.6"/><circle cx="421.1" cy="130.3" r="3.6"/><circle cx="432.4" cy="166.4" r="3.6"/><circle cx="409.9" cy="169.9" r="3.6"/><circle cx="452.1" cy="165.9" r="3.6"/><circle cx="496.6" cy="161.0" r="3.6"/><circle cx="446.1" cy="192.6" r="3.6"/><circle cx="455.1" cy="128.9" r="3.6"/><circle cx="439.1" cy="207.0" r="3.6"/><circle cx="423.3" cy="165.2" r="3.6"/><circle cx="423.7" cy="126.2" r="3.6"/><circle cx="423.5" cy="169.4" r="3.6"/><circle cx="442.9" cy="154.2" r="3.6"/><circle cx="457.2" cy="144.0" r="3.6"/><circle cx="475.7" cy="294.9" r="3.6"/><circle cx="429.7" cy="210.6" r="3.6"/><circle cx="442.3" cy="285.1" r="3.6"/><circle cx="495.0" cy="189.3" r="3.6"/><circle cx="411.3" cy="113.4" r="3.6"/><circle cx="483.9" cy="176.0" r="3.6"/><circle cx="443.7" cy="132.8" r="3.6"/><circle cx="430.8" cy="167.8" r="3.6"/><circle cx="472.3" cy="127.8" r="3.6"/><circle cx="418.5" cy="251.8" r="3.6"/><circle cx="405.2" cy="167.0" r="3.6"/><circle cx="429.5" cy="193.9" r="3.6"/><circle cx="475.2" cy="178.0" r="3.6"/><circle cx="421.5" cy="205.9" r="3.6"/><circle cx="431.1" cy="303.4" r="3.6"/><circle cx="462.8" cy="283.8" r="3.6"/><circle cx="451.1" cy="132.9" r="3.6"/><circle cx="417.5" cy="114.7" r="3.6"/><circle cx="418.1" cy="166.6" r="3.6"/><circle cx="434.2" cy="245.4" r="3.6"/><circle cx="470.0" cy="322.9" r="3.6"/><circle cx="479.0" cy="309.8" r="3.6"/><circle cx="486.9" cy="297.0" r="3.6"/><circle cx="475.9" cy="307.3" r="3.6"/><circle cx="488.8" cy="310.2" r="3.6"/><circle cx="474.4" cy="303.3" r="3.6"/><circle cx="492.8" cy="318.4" r="3.6"/><circle cx="461.6" cy="316.1" r="3.6"/><circle cx="482.4" cy="319.2" r="3.6"/><circle cx="477.0" cy="287.0" r="3.6"/><circle cx="454.1" cy="326.2" r="3.6"/><circle cx="484.1" cy="296.3" r="3.6"/><circle cx="473.1" cy="313.5" r="3.6"/><circle cx="483.2" cy="273.8" r="3.6"/><circle cx="464.7" cy="300.0" r="3.6"/><circle cx="486.4" cy="264.8" r="3.6"/><circle cx="494.8" cy="315.0" r="3.6"/><circle cx="470.1" cy="305.8" r="3.6"/><circle cx="489.8" cy="297.1" r="3.6"/><circle cx="479.8" cy="299.7" r="3.6"/><circle cx="488.6" cy="310.7" r="3.6"/><circle cx="503.4" cy="331.9" r="3.6"/><circle cx="474.3" cy="296.8" r="3.6"/><circle cx="487.1" cy="329.7" r="3.6"/><circle cx="485.2" cy="317.4" r="3.6"/><circle cx="451.4" cy="326.7" r="3.6"/><circle cx="467.1" cy="290.7" r="3.6"/><circle cx="457.6" cy="275.9" r="3.6"/><circle cx="478.3" cy="338.2" r="3.6"/><circle cx="465.4" cy="268.8" r="3.6"/><circle cx="462.3" cy="338.0" r="3.6"/><circle cx="504.9" cy="323.4" r="3.6"/><circle cx="451.7" cy="283.9" r="3.6"/><circle cx="454.3" cy="267.2" r="3.6"/><circle cx="483.5" cy="334.9" r="3.6"/><circle cx="472.7" cy="265.3" r="3.6"/><circle cx="475.1" cy="296.0" r="3.6"/><circle cx="479.3" cy="322.6" r="3.6"/><circle cx="469.3" cy="308.4" r="3.6"/><circle cx="447.5" cy="304.7" r="3.6"/><circle cx="475.1" cy="315.3" r="3.6"/><circle cx="483.7" cy="294.8" r="3.6"/><circle cx="477.0" cy="342.3" r="3.6"/><circle cx="480.0" cy="268.9" r="3.6"/><circle cx="481.2" cy="297.2" r="3.6"/><circle cx="495.7" cy="332.5" r="3.6"/><circle cx="474.4" cy="316.9" r="3.6"/><circle cx="470.6" cy="266.9" r="3.6"/><circle cx="467.2" cy="300.0" r="3.6"/><circle cx="469.1" cy="289.0" r="3.6"/><circle cx="485.9" cy="250.6" r="3.6"/><circle cx="461.9" cy="327.1" r="3.6"/><circle cx="483.9" cy="300.7" r="3.6"/><circle cx="462.5" cy="279.2" r="3.6"/><circle cx="492.4" cy="319.9" r="3.6"/><circle cx="447.4" cy="248.0" r="3.6"/><circle cx="488.8" cy="305.2" r="3.6"/><circle cx="461.7" cy="305.0" r="3.6"/><circle cx="504.0" cy="322.2" r="3.6"/><circle cx="472.6" cy="336.6" r="3.6"/><circle cx="459.4" cy="303.8" r="3.6"/><circle cx="483.5" cy="281.8" r="3.6"/><circle cx="474.9" cy="290.8" r="3.6"/><circle cx="464.4" cy="270.5" r="3.6"/><circle cx="475.6" cy="318.3" r="3.6"/><circle cx="485.2" cy="352.2" r="3.6"/><circle cx="487.3" cy="340.1" r="3.6"/><circle cx="478.2" cy="307.6" r="3.6"/><circle cx="482.6" cy="286.3" r="3.6"/><circle cx="484.6" cy="290.5" r="3.6"/><circle cx="481.1" cy="284.8" r="3.6"/><circle cx="473.7" cy="270.2" r="3.6"/><circle cx="481.2" cy="325.0" r="3.6"/><circle cx="453.2" cy="289.4" r="3.6"/><circle cx="464.3" cy="332.6" r="3.6"/><circle cx="483.5" cy="336.0" r="3.6"/><circle cx="458.0" cy="299.9" r="3.6"/><circle cx="475.0" cy="285.3" r="3.6"/><circle cx="470.6" cy="313.9" r="3.6"/><circle cx="459.5" cy="295.3" r="3.6"/><circle cx="463.6" cy="297.8" r="3.6"/><circle cx="468.5" cy="335.0" r="3.6"/><circle cx="494.6" cy="322.1" r="3.6"/><circle cx="480.1" cy="261.9" r="3.6"/><circle cx="454.1" cy="318.5" r="3.6"/><circle cx="466.6" cy="266.0" r="3.6"/><circle cx="483.2" cy="275.4" r="3.6"/><circle cx="463.8" cy="294.8" r="3.6"/><circle cx="458.1" cy="310.2" r="3.6"/><circle cx="458.6" cy="274.0" r="3.6"/><circle cx="476.9" cy="329.9" r="3.6"/><circle cx="484.9" cy="315.4" r="3.6"/><circle cx="477.6" cy="268.8" r="3.6"/><circle cx="429.9" cy="287.4" r="3.6"/><circle cx="448.9" cy="290.1" r="3.6"/><circle cx="471.0" cy="308.5" r="3.6"/><circle cx="489.0" cy="323.0" r="3.6"/><circle cx="472.3" cy="329.9" r="3.6"/><circle cx="461.3" cy="257.7" r="3.6"/><circle cx="470.0" cy="319.2" r="3.6"/><circle cx="486.2" cy="348.6" r="3.6"/><circle cx="465.4" cy="318.4" r="3.6"/><circle cx="454.3" cy="277.0" r="3.6"/><circle cx="489.8" cy="256.7" r="3.6"/><circle cx="492.9" cy="315.9" r="3.6"/><circle cx="499.2" cy="296.0" r="3.6"/><circle cx="492.1" cy="302.3" r="3.6"/><circle cx="498.9" cy="309.8" r="3.6"/><circle cx="480.4" cy="315.0" r="3.6"/><circle cx="476.2" cy="303.8" r="3.6"/><circle cx="495.1" cy="303.8" r="3.6"/><circle cx="478.8" cy="273.4" r="3.6"/><circle cx="481.7" cy="278.3" r="3.6"/><circle cx="466.8" cy="271.0" r="3.6"/><circle cx="486.8" cy="296.5" r="3.6"/><circle cx="459.9" cy="273.9" r="3.6"/><circle cx="464.2" cy="283.2" r="3.6"/><circle cx="504.7" cy="312.4" r="3.6"/><circle cx="471.6" cy="269.7" r="3.6"/><circle cx="464.4" cy="313.4" r="3.6"/><circle cx="462.1" cy="327.6" r="3.6"/><circle cx="477.0" cy="290.5" r="3.6"/><circle cx="483.8" cy="324.5" r="3.6"/><circle cx="502.0" cy="331.0" r="3.6"/><circle cx="479.6" cy="321.2" r="3.6"/><circle cx="454.2" cy="244.9" r="3.6"/><circle cx="475.7" cy="311.3" r="3.6"/><circle cx="478.6" cy="269.1" r="3.6"/><circle cx="492.1" cy="345.8" r="3.6"/><circle cx="473.2" cy="266.0" r="3.6"/><circle cx="487.4" cy="288.8" r="3.6"/><circle cx="456.7" cy="278.5" r="3.6"/><circle cx="441.3" cy="262.0" r="3.6"/><circle cx="489.6" cy="284.1" r="3.6"/><circle cx="469.1" cy="326.4" r="3.6"/><circle cx="460.6" cy="272.1" r="3.6"/><circle cx="483.0" cy="245.7" r="3.6"/><circle cx="482.3" cy="335.2" r="3.6"/><circle cx="463.2" cy="264.0" r="3.6"/><circle cx="478.2" cy="329.3" r="3.6"/><circle cx="474.5" cy="247.6" r="3.6"/><circle cx="464.8" cy="315.7" r="3.6"/><circle cx="484.6" cy="356.9" r="3.6"/><circle cx="474.1" cy="287.5" r="3.6"/><circle cx="492.8" cy="336.5" r="3.6"/><circle cx="487.6" cy="324.7" r="3.6"/><circle cx="466.2" cy="316.8" r="3.6"/><circle cx="472.6" cy="266.6" r="3.6"/><circle cx="467.0" cy="310.1" r="3.6"/><circle cx="486.9" cy="272.7" r="3.6"/><circle cx="431.1" cy="248.6" r="3.6"/><circle cx="477.7" cy="295.9" r="3.6"/><circle cx="456.4" cy="258.9" r="3.6"/><circle cx="451.9" cy="288.3" r="3.6"/><circle cx="477.4" cy="327.4" r="3.6"/><circle cx="493.9" cy="321.9" r="3.6"/><circle cx="482.6" cy="291.4" r="3.6"/><circle cx="470.8" cy="264.2" r="3.6"/><circle cx="453.1" cy="299.9" r="3.6"/><circle cx="479.0" cy="273.9" r="3.6"/><circle cx="470.3" cy="315.2" r="3.6"/><circle cx="482.2" cy="302.1" r="3.6"/><circle cx="471.2" cy="317.3" r="3.6"/><circle cx="473.1" cy="246.6" r="3.6"/><circle cx="488.3" cy="259.1" r="3.6"/><circle cx="474.6" cy="306.5" r="3.6"/><circle cx="488.4" cy="304.0" r="3.6"/><circle cx="488.0" cy="294.6" r="3.6"/><circle cx="465.9" cy="314.5" r="3.6"/><circle cx="440.6" cy="300.2" r="3.6"/><circle cx="434.7" cy="220.9" r="3.6"/><circle cx="419.6" cy="225.3" r="3.6"/><circle cx="453.5" cy="300.1" r="3.6"/><circle cx="411.0" cy="218.8" r="3.6"/><circle cx="432.8" cy="248.0" r="3.6"/><circle cx="477.3" cy="279.9" r="3.6"/><circle cx="456.3" cy="245.5" r="3.6"/><circle cx="421.4" cy="256.0" r="3.6"/><circle cx="448.1" cy="234.7" r="3.6"/><circle cx="410.3" cy="203.9" r="3.6"/><circle cx="427.7" cy="251.8" r="3.6"/><circle cx="423.7" cy="240.2" r="3.6"/><circle cx="452.0" cy="263.3" r="3.6"/><circle cx="434.8" cy="232.0" r="3.6"/><circle cx="428.1" cy="219.5" r="3.6"/><circle cx="430.1" cy="239.8" r="3.6"/><circle cx="434.1" cy="290.5" r="3.6"/><circle cx="421.3" cy="240.2" r="3.6"/><circle cx="428.9" cy="259.8" r="3.6"/><circle cx="433.7" cy="248.2" r="3.6"/><circle cx="445.0" cy="225.8" r="3.6"/><circle cx="427.7" cy="279.1" r="3.6"/><circle cx="439.7" cy="265.4" r="3.6"/><circle cx="449.5" cy="247.0" r="3.6"/><circle cx="401.5" cy="208.4" r="3.6"/><circle cx="450.4" cy="244.3" r="3.6"/><circle cx="402.4" cy="234.4" r="3.6"/><circle cx="405.9" cy="284.2" r="3.6"/><circle cx="428.3" cy="227.4" r="3.6"/><circle cx="428.2" cy="234.3" r="3.6"/><circle cx="448.0" cy="232.4" r="3.6"/><circle cx="466.6" cy="263.2" r="3.6"/><circle cx="421.3" cy="238.2" r="3.6"/><circle cx="438.0" cy="227.6" r="3.6"/><circle cx="449.4" cy="250.0" r="3.6"/><circle cx="422.3" cy="213.7" r="3.6"/><circle cx="405.4" cy="256.7" r="3.6"/><circle cx="405.9" cy="228.1" r="3.6"/><circle cx="433.2" cy="222.4" r="3.6"/><circle cx="428.7" cy="239.8" r="3.6"/><circle cx="419.8" cy="283.4" r="3.6"/><circle cx="406.1" cy="242.9" r="3.6"/><circle cx="437.9" cy="277.3" r="3.6"/><circle cx="411.8" cy="235.6" r="3.6"/><circle cx="406.3" cy="58.2" r="3.6"/><circle cx="430.0" cy="55.8" r="3.6"/><circle cx="437.1" cy="59.0" r="3.6"/><circle cx="390.5" cy="67.6" r="3.6"/><circle cx="396.5" cy="67.6" r="3.6"/><circle cx="428.5" cy="71.6" r="3.6"/><circle cx="432.4" cy="68.4" r="3.6"/><circle cx="432.9" cy="71.6" r="3.6"/><circle cx="444.2" cy="69.7" r="3.6"/><circle cx="390.5" cy="78.7" r="3.6"/><circle cx="412.7" cy="79.8" r="3.6"/><circle cx="422.1" cy="86.9" r="3.6"/><circle cx="441.9" cy="85.8" r="3.6"/><circle cx="447.4" cy="88.2" r="3.6"/><circle cx="377.9" cy="87.4" r="3.6"/><circle cx="378.7" cy="95.3" r="3.6"/><circle cx="393.7" cy="89.8" r="3.6"/><circle cx="399.2" cy="85.8" r="3.6"/><circle cx="401.6" cy="90.6" r="3.6"/><circle cx="407.1" cy="90.6" r="3.6"/><circle cx="397.6" cy="93.7" r="3.6"/><circle cx="400.0" cy="95.3" r="3.6"/><circle cx="411.1" cy="94.5" r="3.6"/><circle cx="413.4" cy="99.2" r="3.6"/><circle cx="420.6" cy="96.1" r="3.6"/><circle cx="433.2" cy="92.9" r="3.6"/><circle cx="436.4" cy="93.7" r="3.6"/><circle cx="433.2" cy="99.2" r="3.6"/><circle cx="434.0" cy="101.6" r="3.6"/><circle cx="452.1" cy="95.3" r="3.6"/><circle cx="450.6" cy="100.8" r="3.6"/><circle cx="460.0" cy="100.0" r="3.6"/><circle cx="445.8" cy="102.4" r="3.6"/><circle cx="429.2" cy="104.8" r="3.6"/><circle cx="402.4" cy="104.0" r="3.6"/><circle cx="393.7" cy="108.0" r="3.6"/><circle cx="497.0" cy="96.0" r="3.6"/><circle cx="458.3" cy="99.7" r="3.6"/><circle cx="357.5" cy="98.8" r="3.6"/><circle cx="362.8" cy="112.7" r="3.6"/><circle cx="372.1" cy="138.7" r="3.6"/><circle cx="375.6" cy="128.2" r="3.6"/><circle cx="370.9" cy="185.0" r="3.6"/><circle cx="376.7" cy="143.3" r="3.6"/><circle cx="391.8" cy="186.2" r="3.6"/><circle cx="346.5" cy="247.1" r="3.6"/><circle cx="383.0" cy="236.6" r="3.6"/><circle cx="378.1" cy="94.3" r="3.6"/><circle cx="391.4" cy="107.1" r="3.6"/><circle cx="395.4" cy="108.6" r="3.6"/><circle cx="392.2" cy="111.8" r="3.6"/><circle cx="437.8" cy="336.4" r="3.6"/><circle cx="444.9" cy="349.6" r="3.6"/><circle cx="455.6" cy="344.9" r="3.6"/><circle cx="462.0" cy="345.6" r="3.6"/><circle cx="459.1" cy="353.9" r="3.6"/><circle cx="454.4" cy="364.1" r="3.6"/><circle cx="484.7" cy="362.0" r="3.6"/><circle cx="466.2" cy="381.9" r="3.6"/><circle cx="500.9" cy="150.5" r="3.6"/><circle cx="501.2" cy="176.2" r="3.6"/><circle cx="497.5" cy="254.7" r="3.6"/><circle cx="500.6" cy="204.5" r="3.6"/><circle cx="513.2" cy="264.0" r="3.6"/><circle cx="512.7" cy="277.8" r="3.6"/><circle cx="497.6" cy="184.2" r="3.6"/><circle cx="495.6" cy="248.7" r="3.6"/><circle cx="508.3" cy="196.2" r="3.6"/><circle cx="503.3" cy="245.5" r="3.6"/><circle cx="509.0" cy="179.7" r="3.6"/><circle cx="511.9" cy="196.3" r="3.6"/><circle cx="572.6" cy="219.0" r="3.6"/><circle cx="567.8" cy="319.4" r="3.6"/><circle cx="575.4" cy="232.4" r="3.6"/><circle cx="571.3" cy="253.3" r="3.6"/><circle cx="570.1" cy="256.7" r="3.6"/><circle cx="569.2" cy="224.6" r="3.6"/><circle cx="571.0" cy="280.2" r="3.6"/><circle cx="572.7" cy="220.5" r="3.6"/><circle cx="574.2" cy="273.2" r="3.6"/><circle cx="573.4" cy="232.3" r="3.6"/><circle cx="570.0" cy="173.1" r="3.6"/><circle cx="571.4" cy="238.8" r="3.6"/><circle cx="575.2" cy="282.0" r="3.6"/><circle cx="570.8" cy="236.8" r="3.6"/><circle cx="574.2" cy="280.0" r="3.6"/><circle cx="571.0" cy="274.4" r="3.6"/><circle cx="568.7" cy="305.1" r="3.6"/><circle cx="566.1" cy="266.4" r="3.6"/><circle cx="572.6" cy="239.9" r="3.6"/><circle cx="573.9" cy="223.6" r="3.6"/><circle cx="576.2" cy="238.6" r="3.6"/><circle cx="570.4" cy="235.9" r="3.6"/><circle cx="572.4" cy="287.6" r="3.6"/><circle cx="573.1" cy="306.7" r="3.6"/><circle cx="576.2" cy="233.5" r="3.6"/><circle cx="573.5" cy="203.5" r="3.6"/><circle cx="570.2" cy="310.0" r="3.6"/><circle cx="570.2" cy="188.2" r="3.6"/><circle cx="572.1" cy="262.6" r="3.6"/><circle cx="572.2" cy="241.1" r="3.6"/><circle cx="575.8" cy="214.6" r="3.6"/><circle cx="568.4" cy="235.8" r="3.6"/><circle cx="572.2" cy="307.1" r="3.6"/><circle cx="572.0" cy="205.0" r="3.6"/><circle cx="570.6" cy="282.1" r="3.6"/><circle cx="570.6" cy="212.6" r="3.6"/><circle cx="570.2" cy="230.3" r="3.6"/><circle cx="575.1" cy="220.9" r="3.6"/><circle cx="569.6" cy="242.7" r="3.6"/><circle cx="571.8" cy="188.2" r="3.6"/><circle cx="572.4" cy="281.1" r="3.6"/><circle cx="566.6" cy="209.5" r="3.6"/><circle cx="569.0" cy="278.8" r="3.6"/><circle cx="567.5" cy="195.8" r="3.6"/><circle cx="572.8" cy="162.5" r="3.6"/><circle cx="568.3" cy="274.6" r="3.6"/><circle cx="573.1" cy="196.6" r="3.6"/><circle cx="576.2" cy="249.2" r="3.6"/><circle cx="570.1" cy="269.8" r="3.6"/><circle cx="570.2" cy="219.1" r="3.6"/><circle cx="570.7" cy="276.2" r="3.6"/><circle cx="567.8" cy="264.4" r="3.6"/><circle cx="571.1" cy="217.7" r="3.6"/><circle cx="569.0" cy="215.7" r="3.6"/><circle cx="570.3" cy="221.0" r="3.6"/><circle cx="571.3" cy="246.4" r="3.6"/><circle cx="571.7" cy="319.9" r="3.6"/><circle cx="569.5" cy="305.9" r="3.6"/><circle cx="571.9" cy="301.3" r="3.6"/><circle cx="569.7" cy="283.1" r="3.6"/><circle cx="570.8" cy="211.5" r="3.6"/><circle cx="571.6" cy="234.0" r="3.6"/><circle cx="573.2" cy="300.4" r="3.6"/><circle cx="575.7" cy="162.0" r="3.6"/><circle cx="573.1" cy="219.0" r="3.6"/><circle cx="570.1" cy="240.7" r="3.6"/><circle cx="570.8" cy="321.6" r="3.6"/><circle cx="573.3" cy="261.5" r="3.6"/><circle cx="568.2" cy="266.9" r="3.6"/><circle cx="576.2" cy="302.1" r="3.6"/><circle cx="567.7" cy="281.2" r="3.6"/><circle cx="575.1" cy="278.3" r="3.6"/><circle cx="570.1" cy="225.8" r="3.6"/><circle cx="573.5" cy="259.2" r="3.6"/><circle cx="569.2" cy="198.8" r="3.6"/><circle cx="568.0" cy="178.3" r="3.6"/><circle cx="570.8" cy="240.9" r="3.6"/><circle cx="572.9" cy="178.4" r="3.6"/><circle cx="575.0" cy="271.8" r="3.6"/><circle cx="571.4" cy="183.6" r="3.6"/><circle cx="569.7" cy="262.2" r="3.6"/><circle cx="572.0" cy="222.9" r="3.6"/><circle cx="572.9" cy="229.1" r="3.6"/><circle cx="571.1" cy="251.6" r="3.6"/><circle cx="570.9" cy="211.0" r="3.6"/><circle cx="571.7" cy="239.4" r="3.6"/><circle cx="575.6" cy="291.0" r="3.6"/><circle cx="574.1" cy="251.6" r="3.6"/><circle cx="567.9" cy="225.3" r="3.6"/><circle cx="571.7" cy="190.0" r="3.6"/><circle cx="569.2" cy="212.7" r="3.6"/><circle cx="575.5" cy="194.8" r="3.6"/><circle cx="572.4" cy="263.7" r="3.6"/><circle cx="568.9" cy="225.3" r="3.6"/><circle cx="572.4" cy="199.1" r="3.6"/><circle cx="570.5" cy="246.8" r="3.6"/><circle cx="569.0" cy="216.2" r="3.6"/><circle cx="576.6" cy="326.2" r="3.6"/><circle cx="572.3" cy="304.8" r="3.6"/><circle cx="572.3" cy="246.3" r="3.6"/><circle cx="574.6" cy="210.7" r="3.6"/><circle cx="568.4" cy="221.8" r="3.6"/><circle cx="572.3" cy="292.6" r="3.6"/><circle cx="573.2" cy="215.7" r="3.6"/><circle cx="567.2" cy="184.7" r="3.6"/><circle cx="571.2" cy="270.6" r="3.6"/><circle cx="574.0" cy="217.4" r="3.6"/><circle cx="569.6" cy="300.7" r="3.6"/><circle cx="569.1" cy="196.1" r="3.6"/><circle cx="570.0" cy="189.0" r="3.6"/><circle cx="572.5" cy="195.7" r="3.6"/><circle cx="570.5" cy="262.8" r="3.6"/><circle cx="573.5" cy="286.6" r="3.6"/><circle cx="568.3" cy="312.8" r="3.6"/><circle cx="570.4" cy="239.5" r="3.6"/><circle cx="571.9" cy="204.1" r="3.6"/><circle cx="571.3" cy="179.1" r="3.6"/><circle cx="568.3" cy="249.2" r="3.6"/><circle cx="569.5" cy="283.7" r="3.6"/><circle cx="572.0" cy="223.3" r="3.6"/><circle cx="571.0" cy="224.3" r="3.6"/><circle cx="569.6" cy="151.0" r="3.6"/><circle cx="572.7" cy="167.8" r="3.6"/><circle cx="572.7" cy="241.0" r="3.6"/><circle cx="571.7" cy="316.6" r="3.6"/><circle cx="568.7" cy="312.4" r="3.6"/><circle cx="570.5" cy="217.1" r="3.6"/><circle cx="572.3" cy="299.8" r="3.6"/><circle cx="572.8" cy="244.1" r="3.6"/><circle cx="572.3" cy="242.7" r="3.6"/><circle cx="569.1" cy="243.8" r="3.6"/><circle cx="571.2" cy="304.2" r="3.6"/><circle cx="569.4" cy="249.3" r="3.6"/><circle cx="574.0" cy="226.6" r="3.6"/><circle cx="573.7" cy="291.2" r="3.6"/><circle cx="573.8" cy="282.9" r="3.6"/><circle cx="574.0" cy="324.3" r="3.6"/><circle cx="567.9" cy="279.1" r="3.6"/><circle cx="567.9" cy="195.7" r="3.6"/><circle cx="575.7" cy="202.1" r="3.6"/><circle cx="569.8" cy="273.3" r="3.6"/><circle cx="577.6" cy="230.7" r="3.6"/><circle cx="572.2" cy="237.5" r="3.6"/><circle cx="572.2" cy="222.5" r="3.6"/><circle cx="572.9" cy="157.5" r="3.6"/><circle cx="567.8" cy="322.9" r="3.6"/><circle cx="573.2" cy="223.3" r="3.6"/><circle cx="569.0" cy="258.3" r="3.6"/><circle cx="574.3" cy="273.3" r="3.6"/><circle cx="571.2" cy="247.5" r="3.6"/><circle cx="568.6" cy="306.3" r="3.6"/><circle cx="568.6" cy="264.1" r="3.6"/><circle cx="567.8" cy="221.8" r="3.6"/><circle cx="570.6" cy="220.4" r="3.6"/><circle cx="573.7" cy="282.3" r="3.6"/><circle cx="575.7" cy="207.6" r="3.6"/><circle cx="571.6" cy="247.6" r="3.6"/><circle cx="570.3" cy="224.9" r="3.6"/><circle cx="571.6" cy="142.5" r="3.6"/><circle cx="572.1" cy="244.0" r="3.6"/><circle cx="567.3" cy="276.6" r="3.6"/><circle cx="573.8" cy="219.5" r="3.6"/><circle cx="571.3" cy="212.1" r="3.6"/><circle cx="573.6" cy="267.0" r="3.6"/><circle cx="574.0" cy="286.0" r="3.6"/><circle cx="570.5" cy="278.1" r="3.6"/><circle cx="566.3" cy="261.4" r="3.6"/><circle cx="571.9" cy="227.9" r="3.6"/><circle cx="569.4" cy="262.0" r="3.6"/><circle cx="570.8" cy="178.3" r="3.6"/><circle cx="570.0" cy="205.8" r="3.6"/><circle cx="571.4" cy="303.1" r="3.6"/><circle cx="571.1" cy="235.1" r="3.6"/><circle cx="571.1" cy="265.9" r="3.6"/><circle cx="573.3" cy="221.8" r="3.6"/><circle cx="568.6" cy="231.7" r="3.6"/><circle cx="568.3" cy="235.3" r="3.6"/><circle cx="571.5" cy="252.6" r="3.6"/><circle cx="573.1" cy="163.5" r="3.6"/><circle cx="574.6" cy="297.6" r="3.6"/><circle cx="574.1" cy="194.3" r="3.6"/><circle cx="570.0" cy="214.6" r="3.6"/><circle cx="576.4" cy="267.4" r="3.6"/><circle cx="572.9" cy="307.3" r="3.6"/><circle cx="567.5" cy="212.9" r="3.6"/><circle cx="574.5" cy="236.2" r="3.6"/><circle cx="573.2" cy="210.6" r="3.6"/><circle cx="572.3" cy="193.5" r="3.6"/><circle cx="570.7" cy="280.4" r="3.6"/><circle cx="564.8" cy="176.4" r="3.6"/><circle cx="571.2" cy="194.4" r="3.6"/><circle cx="569.7" cy="241.5" r="3.6"/><circle cx="570.4" cy="224.9" r="3.6"/><circle cx="570.7" cy="190.1" r="3.6"/><circle cx="572.4" cy="203.0" r="3.6"/><circle cx="570.7" cy="248.7" r="3.6"/><circle cx="569.5" cy="226.9" r="3.6"/><circle cx="574.6" cy="231.1" r="3.6"/><circle cx="572.4" cy="280.5" r="3.6"/><circle cx="573.1" cy="295.9" r="3.6"/><circle cx="570.7" cy="266.4" r="3.6"/><circle cx="568.1" cy="188.4" r="3.6"/><circle cx="569.3" cy="153.0" r="3.6"/><circle cx="570.3" cy="290.3" r="3.6"/><circle cx="572.7" cy="271.1" r="3.6"/><circle cx="571.0" cy="239.5" r="3.6"/><circle cx="569.8" cy="259.4" r="3.6"/><circle cx="573.2" cy="230.5" r="3.6"/><circle cx="570.5" cy="214.1" r="3.6"/><circle cx="574.5" cy="163.5" r="3.6"/><circle cx="572.8" cy="221.0" r="3.6"/><circle cx="577.9" cy="227.5" r="3.6"/><circle cx="572.1" cy="224.3" r="3.6"/><circle cx="576.3" cy="275.8" r="3.6"/><circle cx="570.4" cy="225.9" r="3.6"/><circle cx="568.6" cy="262.6" r="3.6"/><circle cx="574.0" cy="288.6" r="3.6"/><circle cx="572.3" cy="269.3" r="3.6"/><circle cx="567.8" cy="203.0" r="3.6"/><circle cx="573.6" cy="211.0" r="3.6"/><circle cx="573.5" cy="221.2" r="3.6"/><circle cx="570.6" cy="286.4" r="3.6"/><circle cx="570.5" cy="304.6" r="3.6"/><circle cx="569.0" cy="211.6" r="3.6"/><circle cx="572.6" cy="209.8" r="3.6"/><circle cx="571.4" cy="232.3" r="3.6"/><circle cx="573.0" cy="295.2" r="3.6"/><circle cx="571.6" cy="256.2" r="3.6"/><circle cx="574.1" cy="181.9" r="3.6"/><circle cx="570.5" cy="229.9" r="3.6"/><circle cx="570.3" cy="254.8" r="3.6"/><circle cx="572.6" cy="242.2" r="3.6"/><circle cx="573.9" cy="259.7" r="3.6"/><circle cx="572.3" cy="177.9" r="3.6"/><circle cx="572.7" cy="173.9" r="3.6"/><circle cx="572.8" cy="205.4" r="3.6"/><circle cx="573.4" cy="237.9" r="3.6"/><circle cx="575.6" cy="220.4" r="3.6"/><circle cx="573.6" cy="246.7" r="3.6"/><circle cx="578.3" cy="258.7" r="3.6"/><circle cx="570.9" cy="202.9" r="3.6"/><circle cx="571.3" cy="244.4" r="3.6"/><circle cx="570.9" cy="170.7" r="3.6"/><circle cx="573.8" cy="246.9" r="3.6"/><circle cx="571.6" cy="274.5" r="3.6"/><circle cx="572.6" cy="240.9" r="3.6"/><circle cx="571.3" cy="265.4" r="3.6"/><circle cx="570.4" cy="292.7" r="3.6"/><circle cx="572.0" cy="211.4" r="3.6"/><circle cx="572.4" cy="282.6" r="3.6"/><circle cx="570.2" cy="257.7" r="3.6"/><circle cx="577.1" cy="231.7" r="3.6"/><circle cx="571.0" cy="246.1" r="3.6"/><circle cx="573.3" cy="246.3" r="3.6"/><circle cx="571.8" cy="296.1" r="3.6"/><circle cx="573.2" cy="211.1" r="3.6"/><circle cx="574.1" cy="256.6" r="3.6"/><circle cx="566.7" cy="193.6" r="3.6"/><circle cx="569.0" cy="300.8" r="3.6"/><circle cx="570.1" cy="303.4" r="3.6"/><circle cx="568.6" cy="161.8" r="3.6"/><circle cx="570.3" cy="297.5" r="3.6"/><circle cx="568.5" cy="149.1" r="3.6"/><circle cx="572.7" cy="303.4" r="3.6"/><circle cx="569.6" cy="245.9" r="3.6"/><circle cx="568.8" cy="236.0" r="3.6"/><circle cx="569.8" cy="243.8" r="3.6"/><circle cx="575.1" cy="244.0" r="3.6"/><circle cx="563.8" cy="193.7" r="3.6"/><circle cx="568.3" cy="253.0" r="3.6"/><circle cx="567.3" cy="292.9" r="3.6"/><circle cx="572.9" cy="265.8" r="3.6"/><circle cx="576.2" cy="240.9" r="3.6"/><circle cx="569.3" cy="231.2" r="3.6"/><circle cx="571.0" cy="139.4" r="3.6"/><circle cx="568.3" cy="278.4" r="3.6"/><circle cx="573.1" cy="196.9" r="3.6"/><circle cx="574.0" cy="152.7" r="3.6"/><circle cx="566.5" cy="264.9" r="3.6"/><circle cx="568.2" cy="186.6" r="3.6"/><circle cx="572.7" cy="259.9" r="3.6"/><circle cx="571.0" cy="236.9" r="3.6"/><circle cx="568.2" cy="285.7" r="3.6"/><circle cx="570.6" cy="263.9" r="3.6"/><circle cx="572.5" cy="231.4" r="3.6"/><circle cx="566.8" cy="182.7" r="3.6"/><circle cx="576.6" cy="219.2" r="3.6"/><circle cx="571.6" cy="252.3" r="3.6"/><circle cx="567.1" cy="248.2" r="3.6"/><circle cx="572.1" cy="235.0" r="3.6"/><circle cx="571.6" cy="205.2" r="3.6"/><circle cx="571.0" cy="219.5" r="3.6"/><circle cx="566.8" cy="200.0" r="3.6"/><circle cx="569.5" cy="280.3" r="3.6"/><circle cx="569.5" cy="273.4" r="3.6"/><circle cx="568.1" cy="271.5" r="3.6"/><circle cx="568.2" cy="287.0" r="3.6"/><circle cx="571.5" cy="216.6" r="3.6"/><circle cx="569.2" cy="205.9" r="3.6"/><circle cx="572.6" cy="278.8" r="3.6"/><circle cx="565.1" cy="267.3" r="3.6"/><circle cx="574.2" cy="297.8" r="3.6"/><circle cx="570.0" cy="235.7" r="3.6"/><circle cx="570.6" cy="238.3" r="3.6"/><circle cx="570.7" cy="295.1" r="3.6"/><circle cx="569.8" cy="188.7" r="3.6"/><circle cx="571.2" cy="235.4" r="3.6"/><circle cx="574.9" cy="213.5" r="3.6"/><circle cx="572.4" cy="181.7" r="3.6"/><circle cx="578.1" cy="190.0" r="3.6"/><circle cx="574.3" cy="293.7" r="3.6"/><circle cx="570.2" cy="206.1" r="3.6"/><circle cx="569.9" cy="204.1" r="3.6"/><circle cx="570.8" cy="217.5" r="3.6"/><circle cx="571.5" cy="244.9" r="3.6"/><circle cx="575.1" cy="154.6" r="3.6"/><circle cx="568.1" cy="238.1" r="3.6"/><circle cx="570.2" cy="214.5" r="3.6"/><circle cx="570.3" cy="247.6" r="3.6"/><circle cx="575.1" cy="286.4" r="3.6"/><circle cx="571.9" cy="252.8" r="3.6"/><circle cx="573.6" cy="225.4" r="3.6"/><circle cx="574.0" cy="203.2" r="3.6"/><circle cx="565.4" cy="188.7" r="3.6"/><circle cx="571.5" cy="319.5" r="3.6"/><circle cx="573.9" cy="274.7" r="3.6"/><circle cx="568.0" cy="246.6" r="3.6"/><circle cx="573.9" cy="238.0" r="3.6"/><circle cx="573.9" cy="228.7" r="3.6"/><circle cx="572.1" cy="174.8" r="3.6"/><circle cx="573.5" cy="221.3" r="3.6"/><circle cx="573.8" cy="198.6" r="3.6"/><circle cx="568.1" cy="251.1" r="3.6"/><circle cx="566.1" cy="230.2" r="3.6"/><circle cx="570.8" cy="164.3" r="3.6"/><circle cx="571.9" cy="185.9" r="3.6"/><circle cx="570.1" cy="244.8" r="3.6"/><circle cx="572.9" cy="292.8" r="3.6"/><circle cx="572.0" cy="181.9" r="3.6"/><circle cx="573.2" cy="253.7" r="3.6"/><circle cx="567.4" cy="281.8" r="3.6"/><circle cx="570.6" cy="173.5" r="3.6"/><circle cx="576.2" cy="287.6" r="3.6"/><circle cx="572.0" cy="249.6" r="3.6"/><circle cx="568.3" cy="173.4" r="3.6"/><circle cx="572.7" cy="250.2" r="3.6"/><circle cx="569.9" cy="260.8" r="3.6"/><circle cx="570.1" cy="276.0" r="3.6"/><circle cx="574.4" cy="259.1" r="3.6"/><circle cx="571.2" cy="220.3" r="3.6"/><circle cx="574.1" cy="222.2" r="3.6"/><circle cx="570.9" cy="154.9" r="3.6"/><circle cx="572.9" cy="241.5" r="3.6"/><circle cx="573.7" cy="220.5" r="3.6"/><circle cx="571.7" cy="204.9" r="3.6"/><circle cx="569.8" cy="209.9" r="3.6"/><circle cx="571.2" cy="233.3" r="3.6"/><circle cx="568.4" cy="259.0" r="3.6"/><circle cx="570.9" cy="268.1" r="3.6"/><circle cx="573.5" cy="232.4" r="3.6"/><circle cx="569.8" cy="224.0" r="3.6"/><circle cx="572.4" cy="250.6" r="3.6"/><circle cx="575.2" cy="177.7" r="3.6"/><circle cx="569.0" cy="255.1" r="3.6"/><circle cx="574.8" cy="257.5" r="3.6"/><circle cx="571.0" cy="230.0" r="3.6"/><circle cx="570.7" cy="197.0" r="3.6"/><circle cx="573.5" cy="230.6" r="3.6"/><circle cx="569.5" cy="181.9" r="3.6"/><circle cx="573.7" cy="256.7" r="3.6"/><circle cx="569.3" cy="192.6" r="3.6"/><circle cx="572.2" cy="267.9" r="3.6"/><circle cx="572.2" cy="314.5" r="3.6"/><circle cx="568.8" cy="190.6" r="3.6"/><circle cx="570.7" cy="231.2" r="3.6"/><circle cx="573.9" cy="241.8" r="3.6"/><circle cx="572.0" cy="184.5" r="3.6"/><circle cx="573.9" cy="305.7" r="3.6"/><circle cx="571.0" cy="303.5" r="3.6"/><circle cx="570.9" cy="188.0" r="3.6"/><circle cx="573.7" cy="266.5" r="3.6"/><circle cx="570.6" cy="140.5" r="3.6"/><circle cx="570.4" cy="188.1" r="3.6"/><circle cx="571.8" cy="150.7" r="3.6"/><circle cx="575.1" cy="202.2" r="3.6"/><circle cx="571.1" cy="228.7" r="3.6"/><circle cx="574.4" cy="214.0" r="3.6"/><circle cx="575.8" cy="249.9" r="3.6"/><circle cx="570.3" cy="265.0" r="3.6"/><circle cx="569.4" cy="318.3" r="3.6"/><circle cx="570.9" cy="256.6" r="3.6"/><circle cx="574.7" cy="241.3" r="3.6"/><circle cx="570.2" cy="308.3" r="3.6"/><circle cx="574.3" cy="226.6" r="3.6"/><circle cx="570.2" cy="309.3" r="3.6"/><circle cx="569.9" cy="184.7" r="3.6"/><circle cx="571.6" cy="328.4" r="3.6"/><circle cx="572.5" cy="258.7" r="3.6"/><circle cx="568.9" cy="210.7" r="3.6"/><circle cx="569.6" cy="234.2" r="3.6"/><circle cx="569.7" cy="225.8" r="3.6"/><circle cx="574.0" cy="278.6" r="3.6"/><circle cx="571.7" cy="190.0" r="3.6"/><circle cx="570.8" cy="278.8" r="3.6"/><circle cx="574.8" cy="297.8" r="3.6"/><circle cx="573.0" cy="263.0" r="3.6"/><circle cx="570.7" cy="244.7" r="3.6"/><circle cx="572.1" cy="194.8" r="3.6"/><circle cx="570.9" cy="185.8" r="3.6"/><circle cx="572.7" cy="200.4" r="3.6"/><circle cx="573.1" cy="250.2" r="3.6"/><circle cx="573.0" cy="293.5" r="3.6"/><circle cx="570.8" cy="279.6" r="3.6"/><circle cx="572.0" cy="191.8" r="3.6"/><circle cx="572.4" cy="201.0" r="3.6"/><circle cx="567.1" cy="227.4" r="3.6"/><circle cx="567.7" cy="220.5" r="3.6"/><circle cx="574.7" cy="260.8" r="3.6"/><circle cx="569.9" cy="132.3" r="3.6"/><circle cx="569.8" cy="147.4" r="3.6"/><circle cx="570.6" cy="287.9" r="3.6"/><circle cx="572.1" cy="230.3" r="3.6"/><circle cx="572.2" cy="252.1" r="3.6"/><circle cx="572.4" cy="215.1" r="3.6"/><circle cx="573.0" cy="294.4" r="3.6"/><circle cx="574.3" cy="257.7" r="3.6"/><circle cx="574.8" cy="206.9" r="3.6"/><circle cx="569.8" cy="230.8" r="3.6"/><circle cx="572.7" cy="254.2" r="3.6"/><circle cx="572.3" cy="268.4" r="3.6"/><circle cx="570.8" cy="257.3" r="3.6"/><circle cx="577.5" cy="265.2" r="3.6"/><circle cx="569.6" cy="179.5" r="3.6"/><circle cx="566.1" cy="235.0" r="3.6"/><circle cx="572.8" cy="229.1" r="3.6"/><circle cx="570.2" cy="309.4" r="3.6"/><circle cx="570.3" cy="328.2" r="3.6"/><circle cx="569.7" cy="230.5" r="3.6"/><circle cx="572.6" cy="203.4" r="3.6"/><circle cx="572.0" cy="214.2" r="3.6"/><circle cx="572.7" cy="276.2" r="3.6"/><circle cx="572.7" cy="255.0" r="3.6"/><circle cx="578.2" cy="281.0" r="3.6"/><circle cx="571.1" cy="230.4" r="3.6"/><circle cx="569.1" cy="189.9" r="3.6"/><circle cx="568.4" cy="250.0" r="3.6"/><circle cx="570.0" cy="284.6" r="3.6"/><circle cx="574.1" cy="233.1" r="3.6"/><circle cx="572.6" cy="229.8" r="3.6"/><circle cx="572.6" cy="251.6" r="3.6"/><circle cx="572.6" cy="294.5" r="3.6"/><circle cx="569.3" cy="228.8" r="3.6"/><circle cx="574.4" cy="240.1" r="3.6"/><circle cx="572.0" cy="259.2" r="3.6"/><circle cx="571.0" cy="144.6" r="3.6"/><circle cx="573.3" cy="191.1" r="3.6"/><circle cx="570.8" cy="262.4" r="3.6"/><circle cx="566.3" cy="226.5" r="3.6"/><circle cx="573.0" cy="259.4" r="3.6"/><circle cx="571.8" cy="251.0" r="3.6"/><circle cx="575.3" cy="137.9" r="3.6"/><circle cx="566.5" cy="175.6" r="3.6"/><circle cx="572.2" cy="231.5" r="3.6"/><circle cx="569.1" cy="213.8" r="3.6"/><circle cx="567.4" cy="241.3" r="3.6"/><circle cx="567.5" cy="276.5" r="3.6"/><circle cx="570.6" cy="234.6" r="3.6"/><circle cx="571.9" cy="219.9" r="3.6"/><circle cx="572.9" cy="159.9" r="3.6"/><circle cx="573.1" cy="195.9" r="3.6"/><circle cx="570.9" cy="296.3" r="3.6"/><circle cx="569.4" cy="296.7" r="3.6"/><circle cx="569.1" cy="282.6" r="3.6"/><circle cx="569.6" cy="212.0" r="3.6"/><circle cx="572.8" cy="225.1" r="3.6"/><circle cx="566.3" cy="295.3" r="3.6"/><circle cx="567.3" cy="194.7" r="3.6"/><circle cx="573.5" cy="278.4" r="3.6"/><circle cx="570.6" cy="252.6" r="3.6"/><circle cx="572.4" cy="257.4" r="3.6"/><circle cx="571.4" cy="180.5" r="3.6"/><circle cx="569.6" cy="279.9" r="3.6"/><circle cx="568.8" cy="270.6" r="3.6"/><circle cx="571.6" cy="194.1" r="3.6"/><circle cx="569.1" cy="255.7" r="3.6"/><circle cx="570.3" cy="247.2" r="3.6"/><circle cx="566.4" cy="246.2" r="3.6"/><circle cx="571.6" cy="139.0" r="3.6"/><circle cx="571.2" cy="155.3" r="3.6"/><circle cx="573.1" cy="173.7" r="3.6"/><circle cx="567.4" cy="250.4" r="3.6"/><circle cx="569.9" cy="261.4" r="3.6"/><circle cx="571.0" cy="287.1" r="3.6"/><circle cx="571.7" cy="200.4" r="3.6"/><circle cx="572.2" cy="255.6" r="3.6"/><circle cx="572.4" cy="209.1" r="3.6"/><circle cx="574.0" cy="170.6" r="3.6"/><circle cx="572.4" cy="235.8" r="3.6"/><circle cx="568.1" cy="241.7" r="3.6"/><circle cx="571.6" cy="253.8" r="3.6"/><circle cx="574.1" cy="185.8" r="3.6"/><circle cx="573.6" cy="257.4" r="3.6"/><circle cx="574.1" cy="259.8" r="3.6"/><circle cx="571.7" cy="246.2" r="3.6"/><circle cx="572.4" cy="286.0" r="3.6"/><circle cx="570.9" cy="222.8" r="3.6"/><circle cx="567.4" cy="242.5" r="3.6"/><circle cx="572.8" cy="228.1" r="3.6"/><circle cx="570.4" cy="225.3" r="3.6"/><circle cx="569.8" cy="250.8" r="3.6"/><circle cx="565.5" cy="176.1" r="3.6"/><circle cx="571.6" cy="325.0" r="3.6"/><circle cx="571.1" cy="184.2" r="3.6"/><circle cx="576.9" cy="259.2" r="3.6"/><circle cx="575.1" cy="240.6" r="3.6"/><circle cx="568.2" cy="261.2" r="3.6"/><circle cx="575.1" cy="287.7" r="3.6"/><circle cx="569.3" cy="303.8" r="3.6"/><circle cx="570.3" cy="223.3" r="3.6"/><circle cx="572.3" cy="310.1" r="3.6"/><circle cx="572.8" cy="239.3" r="3.6"/><circle cx="576.7" cy="293.4" r="3.6"/><circle cx="573.8" cy="305.6" r="3.6"/><circle cx="575.4" cy="282.8" r="3.6"/><circle cx="572.9" cy="196.7" r="3.6"/><circle cx="575.4" cy="278.3" r="3.6"/><circle cx="573.0" cy="267.8" r="3.6"/><circle cx="572.2" cy="297.4" r="3.6"/><circle cx="571.9" cy="262.5" r="3.6"/><circle cx="572.4" cy="322.8" r="3.6"/><circle cx="566.7" cy="238.8" r="3.6"/><circle cx="569.8" cy="243.6" r="3.6"/><circle cx="571.0" cy="206.0" r="3.6"/><circle cx="571.2" cy="135.2" r="3.6"/><circle cx="575.1" cy="210.1" r="3.6"/><circle cx="568.8" cy="174.6" r="3.6"/><circle cx="575.1" cy="259.7" r="3.6"/><circle cx="573.2" cy="323.8" r="3.6"/><circle cx="570.9" cy="223.0" r="3.6"/><circle cx="575.4" cy="187.5" r="3.6"/><circle cx="568.7" cy="205.6" r="3.6"/><circle cx="575.3" cy="284.0" r="3.6"/><circle cx="571.4" cy="295.6" r="3.6"/><circle cx="571.4" cy="263.1" r="3.6"/><circle cx="573.9" cy="259.1" r="3.6"/><circle cx="573.2" cy="198.0" r="3.6"/><circle cx="570.0" cy="223.0" r="3.6"/><circle cx="567.7" cy="183.8" r="3.6"/><circle cx="572.9" cy="210.8" r="3.6"/><circle cx="570.5" cy="272.5" r="3.6"/><circle cx="574.1" cy="224.3" r="3.6"/><circle cx="575.3" cy="193.8" r="3.6"/><circle cx="568.9" cy="292.8" r="3.6"/><circle cx="570.3" cy="326.3" r="3.6"/><circle cx="569.7" cy="255.4" r="3.6"/><circle cx="572.1" cy="283.9" r="3.6"/><circle cx="566.3" cy="256.3" r="3.6"/><circle cx="574.9" cy="161.8" r="3.6"/><circle cx="569.7" cy="195.5" r="3.6"/><circle cx="572.3" cy="294.9" r="3.6"/><circle cx="571.6" cy="271.0" r="3.6"/><circle cx="572.8" cy="253.9" r="3.6"/><circle cx="571.5" cy="238.7" r="3.6"/><circle cx="566.1" cy="292.3" r="3.6"/><circle cx="570.2" cy="156.1" r="3.6"/><circle cx="569.2" cy="239.8" r="3.6"/><circle cx="569.6" cy="289.1" r="3.6"/><circle cx="573.8" cy="277.4" r="3.6"/><circle cx="567.5" cy="161.2" r="3.6"/><circle cx="573.8" cy="295.9" r="3.6"/><circle cx="569.9" cy="299.6" r="3.6"/><circle cx="568.7" cy="194.4" r="3.6"/><circle cx="573.3" cy="208.5" r="3.6"/><circle cx="572.0" cy="168.6" r="3.6"/><circle cx="573.1" cy="287.0" r="3.6"/><circle cx="566.3" cy="154.0" r="3.6"/><circle cx="569.8" cy="325.3" r="3.6"/><circle cx="574.4" cy="215.1" r="3.6"/><circle cx="570.2" cy="164.2" r="3.6"/><circle cx="574.1" cy="300.1" r="3.6"/><circle cx="572.2" cy="240.0" r="3.6"/><circle cx="570.3" cy="228.1" r="3.6"/><circle cx="568.9" cy="279.3" r="3.6"/><circle cx="571.9" cy="226.9" r="3.6"/><circle cx="568.9" cy="177.9" r="3.6"/><circle cx="573.1" cy="215.4" r="3.6"/><circle cx="573.6" cy="243.1" r="3.6"/><circle cx="572.2" cy="191.8" r="3.6"/><circle cx="572.0" cy="308.8" r="3.6"/><circle cx="575.0" cy="264.4" r="3.6"/><circle cx="567.1" cy="149.9" r="3.6"/><circle cx="575.2" cy="221.6" r="3.6"/><circle cx="570.0" cy="235.1" r="3.6"/><circle cx="573.6" cy="160.1" r="3.6"/><circle cx="573.7" cy="252.0" r="3.6"/><circle cx="569.2" cy="276.9" r="3.6"/><circle cx="572.5" cy="260.5" r="3.6"/><circle cx="573.0" cy="237.9" r="3.6"/><circle cx="570.7" cy="234.0" r="3.6"/><circle cx="569.2" cy="226.1" r="3.6"/><circle cx="569.5" cy="255.9" r="3.6"/><circle cx="572.1" cy="269.9" r="3.6"/><circle cx="569.1" cy="217.8" r="3.6"/><circle cx="570.3" cy="268.9" r="3.6"/><circle cx="570.0" cy="202.8" r="3.6"/><circle cx="571.9" cy="276.8" r="3.6"/><circle cx="566.3" cy="270.0" r="3.6"/><circle cx="570.0" cy="153.0" r="3.6"/><circle cx="574.8" cy="185.7" r="3.6"/><circle cx="570.2" cy="229.1" r="3.6"/><circle cx="574.3" cy="242.4" r="3.6"/><circle cx="572.8" cy="173.3" r="3.6"/><circle cx="573.5" cy="240.6" r="3.6"/><circle cx="567.3" cy="170.2" r="3.6"/><circle cx="571.9" cy="201.1" r="3.6"/><circle cx="572.9" cy="214.6" r="3.6"/><circle cx="572.2" cy="241.9" r="3.6"/><circle cx="574.4" cy="268.7" r="3.6"/><circle cx="566.8" cy="171.0" r="3.6"/><circle cx="569.6" cy="236.5" r="3.6"/><circle cx="570.2" cy="294.8" r="3.6"/><circle cx="575.3" cy="241.7" r="3.6"/><circle cx="569.1" cy="165.6" r="3.6"/><circle cx="570.1" cy="271.5" r="3.6"/><circle cx="576.7" cy="162.9" r="3.6"/><circle cx="574.4" cy="190.9" r="3.6"/><circle cx="574.0" cy="247.4" r="3.6"/><circle cx="573.0" cy="313.6" r="3.6"/><circle cx="569.4" cy="213.9" r="3.6"/><circle cx="573.7" cy="255.3" r="3.6"/><circle cx="566.8" cy="278.2" r="3.6"/><circle cx="572.1" cy="182.9" r="3.6"/><circle cx="576.2" cy="189.9" r="3.6"/><circle cx="569.8" cy="269.2" r="3.6"/><circle cx="570.5" cy="285.4" r="3.6"/><circle cx="571.6" cy="146.2" r="3.6"/><circle cx="574.4" cy="208.9" r="3.6"/><circle cx="569.6" cy="188.5" r="3.6"/><circle cx="566.7" cy="226.2" r="3.6"/><circle cx="576.1" cy="261.9" r="3.6"/><circle cx="581.4" cy="327.8" r="3.6"/><circle cx="588.5" cy="281.7" r="3.6"/><circle cx="588.8" cy="374.5" r="3.6"/><circle cx="590.6" cy="275.5" r="3.6"/><circle cx="590.0" cy="212.9" r="3.6"/><circle cx="581.6" cy="338.3" r="3.6"/><circle cx="589.0" cy="258.3" r="3.6"/><circle cx="583.9" cy="276.8" r="3.6"/><circle cx="588.4" cy="198.3" r="3.6"/><circle cx="582.9" cy="274.5" r="3.6"/><circle cx="583.7" cy="284.0" r="3.6"/><circle cx="592.3" cy="213.1" r="3.6"/><circle cx="587.7" cy="296.7" r="3.6"/><circle cx="586.1" cy="273.3" r="3.6"/><circle cx="587.3" cy="305.8" r="3.6"/><circle cx="584.9" cy="357.5" r="3.6"/><circle cx="583.2" cy="308.4" r="3.6"/><circle cx="583.8" cy="335.7" r="3.6"/><circle cx="586.8" cy="186.1" r="3.6"/><circle cx="583.6" cy="379.9" r="3.6"/><circle cx="583.6" cy="310.1" r="3.6"/><circle cx="587.0" cy="245.5" r="3.6"/><circle cx="581.6" cy="245.2" r="3.6"/><circle cx="579.8" cy="299.6" r="3.6"/><circle cx="579.5" cy="306.8" r="3.6"/><circle cx="588.5" cy="304.6" r="3.6"/><circle cx="584.0" cy="373.7" r="3.6"/><circle cx="584.4" cy="344.2" r="3.6"/><circle cx="584.5" cy="262.4" r="3.6"/><circle cx="588.5" cy="219.5" r="3.6"/><circle cx="586.5" cy="232.1" r="3.6"/><circle cx="585.3" cy="206.9" r="3.6"/><circle cx="579.0" cy="296.4" r="3.6"/><circle cx="585.1" cy="379.3" r="3.6"/><circle cx="585.6" cy="327.7" r="3.6"/><circle cx="585.1" cy="301.1" r="3.6"/><circle cx="584.8" cy="250.8" r="3.6"/><circle cx="583.7" cy="200.1" r="3.6"/><circle cx="588.2" cy="264.4" r="3.6"/><circle cx="583.4" cy="260.6" r="3.6"/><circle cx="583.6" cy="243.3" r="3.6"/><circle cx="580.4" cy="310.8" r="3.6"/><circle cx="585.3" cy="221.2" r="3.6"/><circle cx="580.6" cy="307.7" r="3.6"/><circle cx="582.8" cy="294.2" r="3.6"/><circle cx="586.7" cy="200.6" r="3.6"/><circle cx="585.8" cy="370.0" r="3.6"/><circle cx="589.7" cy="264.9" r="3.6"/><circle cx="584.2" cy="314.5" r="3.6"/><circle cx="589.2" cy="266.4" r="3.6"/><circle cx="582.2" cy="275.5" r="3.6"/><circle cx="581.4" cy="320.2" r="3.6"/><circle cx="585.1" cy="326.9" r="3.6"/><circle cx="584.5" cy="312.8" r="3.6"/><circle cx="579.9" cy="207.7" r="3.6"/><circle cx="588.1" cy="300.3" r="3.6"/><circle cx="584.1" cy="300.9" r="3.6"/><circle cx="580.7" cy="334.1" r="3.6"/><circle cx="587.8" cy="363.2" r="3.6"/><circle cx="584.2" cy="179.0" r="3.6"/><circle cx="584.0" cy="298.3" r="3.6"/><circle cx="586.4" cy="219.6" r="3.6"/><circle cx="582.8" cy="290.6" r="3.6"/><circle cx="592.0" cy="247.2" r="3.6"/><circle cx="585.4" cy="338.5" r="3.6"/><circle cx="587.9" cy="274.0" r="3.6"/><circle cx="590.3" cy="320.0" r="3.6"/><circle cx="584.6" cy="285.9" r="3.6"/><circle cx="581.1" cy="296.4" r="3.6"/><circle cx="584.7" cy="274.6" r="3.6"/><circle cx="589.6" cy="326.7" r="3.6"/><circle cx="584.8" cy="264.1" r="3.6"/><circle cx="587.4" cy="332.1" r="3.6"/><circle cx="583.9" cy="323.9" r="3.6"/><circle cx="589.4" cy="198.9" r="3.6"/><circle cx="584.6" cy="201.8" r="3.6"/><circle cx="582.8" cy="291.3" r="3.6"/><circle cx="586.6" cy="324.8" r="3.6"/><circle cx="582.6" cy="338.4" r="3.6"/><circle cx="583.6" cy="305.8" r="3.6"/><circle cx="583.9" cy="209.7" r="3.6"/><circle cx="588.6" cy="223.6" r="3.6"/><circle cx="584.6" cy="260.9" r="3.6"/><circle cx="586.0" cy="277.1" r="3.6"/><circle cx="584.4" cy="225.3" r="3.6"/><circle cx="589.2" cy="239.5" r="3.6"/><circle cx="580.7" cy="285.1" r="3.6"/><circle cx="588.2" cy="257.9" r="3.6"/><circle cx="579.9" cy="355.7" r="3.6"/><circle cx="585.6" cy="263.9" r="3.6"/><circle cx="582.0" cy="287.3" r="3.6"/><circle cx="590.4" cy="304.3" r="3.6"/><circle cx="588.7" cy="219.7" r="3.6"/><circle cx="584.7" cy="303.7" r="3.6"/><circle cx="585.8" cy="378.0" r="3.6"/><circle cx="584.8" cy="296.9" r="3.6"/><circle cx="578.1" cy="287.6" r="3.6"/><circle cx="580.6" cy="295.6" r="3.6"/><circle cx="586.8" cy="351.1" r="3.6"/><circle cx="586.1" cy="317.6" r="3.6"/><circle cx="584.5" cy="286.0" r="3.6"/><circle cx="586.4" cy="281.2" r="3.6"/><circle cx="585.8" cy="365.3" r="3.6"/><circle cx="580.0" cy="318.5" r="3.6"/><circle cx="581.9" cy="314.3" r="3.6"/><circle cx="581.7" cy="356.1" r="3.6"/><circle cx="589.3" cy="374.2" r="3.6"/><circle cx="586.9" cy="184.2" r="3.6"/><circle cx="585.1" cy="203.5" r="3.6"/><circle cx="588.0" cy="198.3" r="3.6"/><circle cx="584.5" cy="296.2" r="3.6"/><circle cx="585.7" cy="236.2" r="3.6"/><circle cx="584.8" cy="274.6" r="3.6"/><circle cx="585.7" cy="279.6" r="3.6"/><circle cx="589.8" cy="328.2" r="3.6"/><circle cx="584.6" cy="252.9" r="3.6"/><circle cx="586.7" cy="258.0" r="3.6"/><circle cx="584.4" cy="256.0" r="3.6"/><circle cx="585.6" cy="348.4" r="3.6"/><circle cx="583.9" cy="265.3" r="3.6"/><circle cx="590.8" cy="266.7" r="3.6"/><circle cx="586.1" cy="294.7" r="3.6"/><circle cx="583.1" cy="248.5" r="3.6"/><circle cx="586.7" cy="282.4" r="3.6"/><circle cx="590.2" cy="160.4" r="3.6"/><circle cx="585.4" cy="280.8" r="3.6"/><circle cx="584.3" cy="304.1" r="3.6"/><circle cx="588.8" cy="253.7" r="3.6"/><circle cx="585.4" cy="219.8" r="3.6"/><circle cx="582.7" cy="216.9" r="3.6"/><circle cx="590.4" cy="207.1" r="3.6"/><circle cx="590.3" cy="269.3" r="3.6"/><circle cx="588.0" cy="369.5" r="3.6"/><circle cx="585.7" cy="277.1" r="3.6"/><circle cx="590.3" cy="234.9" r="3.6"/><circle cx="582.4" cy="177.7" r="3.6"/><circle cx="578.5" cy="336.2" r="3.6"/><circle cx="583.3" cy="199.6" r="3.6"/><circle cx="582.5" cy="279.2" r="3.6"/><circle cx="582.8" cy="251.7" r="3.6"/><circle cx="583.2" cy="329.3" r="3.6"/><circle cx="585.5" cy="359.6" r="3.6"/><circle cx="587.1" cy="364.9" r="3.6"/><circle cx="593.2" cy="371.7" r="3.6"/><circle cx="587.4" cy="280.7" r="3.6"/><circle cx="581.9" cy="280.1" r="3.6"/><circle cx="584.7" cy="319.5" r="3.6"/><circle cx="589.4" cy="373.6" r="3.6"/><circle cx="580.5" cy="235.2" r="3.6"/><circle cx="591.2" cy="298.0" r="3.6"/><circle cx="588.6" cy="298.7" r="3.6"/><circle cx="581.6" cy="361.3" r="3.6"/><circle cx="581.1" cy="249.9" r="3.6"/><circle cx="582.2" cy="234.2" r="3.6"/><circle cx="585.4" cy="311.8" r="3.6"/><circle cx="585.8" cy="201.8" r="3.6"/><circle cx="586.7" cy="154.1" r="3.6"/><circle cx="581.4" cy="178.2" r="3.6"/><circle cx="592.3" cy="226.8" r="3.6"/><circle cx="583.9" cy="312.1" r="3.6"/><circle cx="578.6" cy="252.1" r="3.6"/><circle cx="584.8" cy="322.5" r="3.6"/><circle cx="593.9" cy="244.5" r="3.6"/><circle cx="582.1" cy="306.4" r="3.6"/><circle cx="589.2" cy="247.5" r="3.6"/><circle cx="590.0" cy="277.7" r="3.6"/><circle cx="582.7" cy="280.4" r="3.6"/><circle cx="584.2" cy="363.0" r="3.6"/><circle cx="582.8" cy="290.8" r="3.6"/><circle cx="586.0" cy="357.0" r="3.6"/><circle cx="587.4" cy="212.5" r="3.6"/><circle cx="587.7" cy="210.8" r="3.6"/><circle cx="584.0" cy="273.4" r="3.6"/><circle cx="584.8" cy="288.6" r="3.6"/><circle cx="583.7" cy="260.4" r="3.6"/><circle cx="582.7" cy="328.7" r="3.6"/><circle cx="585.9" cy="362.4" r="3.6"/><circle cx="579.9" cy="266.2" r="3.6"/><circle cx="583.8" cy="291.1" r="3.6"/><circle cx="582.1" cy="261.5" r="3.6"/><circle cx="588.0" cy="257.9" r="3.6"/><circle cx="586.3" cy="276.7" r="3.6"/><circle cx="586.1" cy="325.9" r="3.6"/><circle cx="585.7" cy="286.8" r="3.6"/><circle cx="586.9" cy="298.7" r="3.6"/><circle cx="589.3" cy="340.8" r="3.6"/><circle cx="587.1" cy="258.8" r="3.6"/><circle cx="584.9" cy="315.6" r="3.6"/><circle cx="586.0" cy="306.7" r="3.6"/><circle cx="588.4" cy="240.5" r="3.6"/><circle cx="586.6" cy="261.6" r="3.6"/><circle cx="583.9" cy="295.4" r="3.6"/><circle cx="585.3" cy="333.7" r="3.6"/><circle cx="588.2" cy="238.8" r="3.6"/><circle cx="583.9" cy="283.4" r="3.6"/><circle cx="579.4" cy="376.7" r="3.6"/><circle cx="581.4" cy="222.3" r="3.6"/><circle cx="581.0" cy="342.5" r="3.6"/><circle cx="582.1" cy="279.5" r="3.6"/><circle cx="585.2" cy="253.5" r="3.6"/><circle cx="579.7" cy="281.1" r="3.6"/><circle cx="582.1" cy="268.2" r="3.6"/><circle cx="587.1" cy="283.6" r="3.6"/><circle cx="583.0" cy="293.3" r="3.6"/><circle cx="583.1" cy="240.8" r="3.6"/><circle cx="587.6" cy="240.8" r="3.6"/><circle cx="585.7" cy="292.1" r="3.6"/><circle cx="589.9" cy="226.0" r="3.6"/><circle cx="584.3" cy="281.3" r="3.6"/><circle cx="584.4" cy="254.7" r="3.6"/><circle cx="583.8" cy="196.0" r="3.6"/><circle cx="584.2" cy="302.9" r="3.6"/><circle cx="584.8" cy="246.3" r="3.6"/><circle cx="581.8" cy="287.2" r="3.6"/><circle cx="584.2" cy="295.2" r="3.6"/><circle cx="582.4" cy="240.2" r="3.6"/><circle cx="586.5" cy="344.5" r="3.6"/><circle cx="584.1" cy="315.1" r="3.6"/><circle cx="588.9" cy="277.4" r="3.6"/><circle cx="590.6" cy="376.6" r="3.6"/><circle cx="586.1" cy="296.7" r="3.6"/><circle cx="586.3" cy="342.9" r="3.6"/><circle cx="583.2" cy="282.2" r="3.6"/><circle cx="586.6" cy="305.1" r="3.6"/><circle cx="583.8" cy="317.4" r="3.6"/><circle cx="586.5" cy="334.3" r="3.6"/><circle cx="586.2" cy="277.5" r="3.6"/><circle cx="584.2" cy="234.0" r="3.6"/><circle cx="580.7" cy="302.5" r="3.6"/><circle cx="583.8" cy="262.1" r="3.6"/><circle cx="587.3" cy="354.4" r="3.6"/><circle cx="586.6" cy="336.1" r="3.6"/><circle cx="590.0" cy="323.3" r="3.6"/><circle cx="586.5" cy="353.9" r="3.6"/><circle cx="590.7" cy="333.7" r="3.6"/><circle cx="583.5" cy="337.0" r="3.6"/><circle cx="589.7" cy="315.5" r="3.6"/><circle cx="582.7" cy="353.8" r="3.6"/><circle cx="588.7" cy="361.3" r="3.6"/><circle cx="589.2" cy="345.2" r="3.6"/><circle cx="588.1" cy="343.8" r="3.6"/><circle cx="583.0" cy="338.3" r="3.6"/><circle cx="587.7" cy="340.7" r="3.6"/><circle cx="586.2" cy="335.9" r="3.6"/><circle cx="586.4" cy="326.3" r="3.6"/><circle cx="582.3" cy="345.2" r="3.6"/><circle cx="590.6" cy="300.1" r="3.6"/><circle cx="584.4" cy="314.1" r="3.6"/><circle cx="586.4" cy="376.3" r="3.6"/><circle cx="583.6" cy="337.1" r="3.6"/><circle cx="587.5" cy="293.7" r="3.6"/><circle cx="588.4" cy="326.4" r="3.6"/><circle cx="588.7" cy="340.7" r="3.6"/><circle cx="587.0" cy="353.8" r="3.6"/><circle cx="579.4" cy="341.4" r="3.6"/><circle cx="584.2" cy="327.4" r="3.6"/><circle cx="583.3" cy="321.0" r="3.6"/><circle cx="586.6" cy="351.3" r="3.6"/><circle cx="582.2" cy="351.7" r="3.6"/><circle cx="587.0" cy="358.3" r="3.6"/><circle cx="583.7" cy="334.1" r="3.6"/><circle cx="588.8" cy="310.2" r="3.6"/><circle cx="585.3" cy="343.2" r="3.6"/><circle cx="581.8" cy="366.4" r="3.6"/><circle cx="585.7" cy="340.5" r="3.6"/><circle cx="587.6" cy="312.8" r="3.6"/><circle cx="587.7" cy="339.4" r="3.6"/><circle cx="585.2" cy="336.0" r="3.6"/><circle cx="588.7" cy="319.0" r="3.6"/><circle cx="583.6" cy="305.1" r="3.6"/><circle cx="592.1" cy="317.2" r="3.6"/><circle cx="587.6" cy="348.0" r="3.6"/><circle cx="588.1" cy="351.3" r="3.6"/><circle cx="584.9" cy="370.8" r="3.6"/><circle cx="586.7" cy="337.5" r="3.6"/><circle cx="584.6" cy="331.5" r="3.6"/><circle cx="588.3" cy="368.6" r="3.6"/><circle cx="585.2" cy="316.7" r="3.6"/><circle cx="591.4" cy="352.9" r="3.6"/><circle cx="590.0" cy="323.4" r="3.6"/><circle cx="585.5" cy="344.4" r="3.6"/><circle cx="590.3" cy="322.7" r="3.6"/><circle cx="593.1" cy="346.5" r="3.6"/><circle cx="587.5" cy="345.8" r="3.6"/><circle cx="584.1" cy="367.2" r="3.6"/><circle cx="587.8" cy="325.3" r="3.6"/><circle cx="589.2" cy="330.4" r="3.6"/><circle cx="584.1" cy="336.4" r="3.6"/><circle cx="587.7" cy="309.7" r="3.6"/><circle cx="584.8" cy="360.0" r="3.6"/><circle cx="589.4" cy="321.4" r="3.6"/><circle cx="591.7" cy="320.7" r="3.6"/><circle cx="586.8" cy="354.3" r="3.6"/><circle cx="591.2" cy="323.3" r="3.6"/><circle cx="588.5" cy="328.6" r="3.6"/><circle cx="588.4" cy="363.8" r="3.6"/><circle cx="583.8" cy="336.9" r="3.6"/><circle cx="587.5" cy="346.2" r="3.6"/><circle cx="582.9" cy="298.5" r="3.6"/><circle cx="588.3" cy="345.0" r="3.6"/><circle cx="589.8" cy="333.5" r="3.6"/><circle cx="591.4" cy="320.0" r="3.6"/><circle cx="585.5" cy="343.4" r="3.6"/><circle cx="584.7" cy="337.9" r="3.6"/><circle cx="586.6" cy="344.0" r="3.6"/><circle cx="585.3" cy="320.2" r="3.6"/><circle cx="585.1" cy="354.8" r="3.6"/><circle cx="588.4" cy="355.9" r="3.6"/><circle cx="583.3" cy="318.6" r="3.6"/><circle cx="586.3" cy="325.3" r="3.6"/><circle cx="586.9" cy="331.8" r="3.6"/><circle cx="588.6" cy="330.5" r="3.6"/><circle cx="581.4" cy="305.2" r="3.6"/><circle cx="592.7" cy="338.4" r="3.6"/><circle cx="590.3" cy="319.9" r="3.6"/><circle cx="594.5" cy="322.6" r="3.6"/><circle cx="582.2" cy="344.6" r="3.6"/><circle cx="584.8" cy="330.9" r="3.6"/><circle cx="590.7" cy="345.0" r="3.6"/><circle cx="592.0" cy="355.3" r="3.6"/><circle cx="588.1" cy="325.4" r="3.6"/><circle cx="586.7" cy="355.9" r="3.6"/><circle cx="589.4" cy="332.9" r="3.6"/><circle cx="586.9" cy="336.5" r="3.6"/><circle cx="582.9" cy="347.2" r="3.6"/><circle cx="586.9" cy="347.3" r="3.6"/><circle cx="582.3" cy="332.5" r="3.6"/><circle cx="587.0" cy="338.3" r="3.6"/><circle cx="582.4" cy="364.9" r="3.6"/><circle cx="587.3" cy="344.5" r="3.6"/><circle cx="583.9" cy="324.4" r="3.6"/><circle cx="584.2" cy="327.5" r="3.6"/><circle cx="586.7" cy="322.0" r="3.6"/><circle cx="586.6" cy="341.7" r="3.6"/><circle cx="585.9" cy="338.9" r="3.6"/><circle cx="590.3" cy="316.3" r="3.6"/><circle cx="581.7" cy="332.6" r="3.6"/><circle cx="589.7" cy="332.9" r="3.6"/><circle cx="586.9" cy="324.0" r="3.6"/><circle cx="588.7" cy="354.7" r="3.6"/><circle cx="586.5" cy="344.3" r="3.6"/><circle cx="589.8" cy="329.1" r="3.6"/><circle cx="589.1" cy="332.5" r="3.6"/><circle cx="592.2" cy="343.9" r="3.6"/><circle cx="584.8" cy="353.7" r="3.6"/><circle cx="582.6" cy="344.6" r="3.6"/><circle cx="592.0" cy="345.0" r="3.6"/><circle cx="585.7" cy="335.9" r="3.6"/><circle cx="590.3" cy="323.7" r="3.6"/><circle cx="585.5" cy="342.2" r="3.6"/><circle cx="587.7" cy="327.9" r="3.6"/><circle cx="588.7" cy="326.6" r="3.6"/><circle cx="583.9" cy="334.0" r="3.6"/><circle cx="588.0" cy="308.3" r="3.6"/><circle cx="586.1" cy="361.8" r="3.6"/><circle cx="584.6" cy="337.6" r="3.6"/><circle cx="590.5" cy="318.4" r="3.6"/><circle cx="591.3" cy="307.5" r="3.6"/><circle cx="584.5" cy="339.1" r="3.6"/><circle cx="589.0" cy="328.1" r="3.6"/><circle cx="585.2" cy="341.7" r="3.6"/><circle cx="592.6" cy="339.3" r="3.6"/><circle cx="594.4" cy="326.0" r="3.6"/><circle cx="589.5" cy="339.0" r="3.6"/><circle cx="582.6" cy="324.1" r="3.6"/><circle cx="585.6" cy="356.9" r="3.6"/><circle cx="586.5" cy="339.6" r="3.6"/><circle cx="587.1" cy="325.3" r="3.6"/><circle cx="589.6" cy="366.7" r="3.6"/><circle cx="586.5" cy="324.0" r="3.6"/><circle cx="584.6" cy="349.8" r="3.6"/><circle cx="587.4" cy="319.0" r="3.6"/><circle cx="590.6" cy="330.6" r="3.6"/><circle cx="588.4" cy="336.3" r="3.6"/><circle cx="585.7" cy="350.2" r="3.6"/><circle cx="586.8" cy="322.1" r="3.6"/><circle cx="588.9" cy="329.1" r="3.6"/><circle cx="583.9" cy="327.0" r="3.6"/><circle cx="592.0" cy="328.2" r="3.6"/><circle cx="584.6" cy="322.2" r="3.6"/><circle cx="590.1" cy="370.6" r="3.6"/><circle cx="588.0" cy="329.1" r="3.6"/><circle cx="585.8" cy="311.7" r="3.6"/><circle cx="586.2" cy="334.2" r="3.6"/><circle cx="587.8" cy="372.0" r="3.6"/><circle cx="584.6" cy="348.1" r="3.6"/><circle cx="588.7" cy="324.5" r="3.6"/><circle cx="584.9" cy="360.7" r="3.6"/><circle cx="590.2" cy="337.4" r="3.6"/><circle cx="585.5" cy="349.6" r="3.6"/><circle cx="582.7" cy="371.3" r="3.6"/><circle cx="586.2" cy="348.3" r="3.6"/><circle cx="588.6" cy="336.0" r="3.6"/><circle cx="586.3" cy="340.1" r="3.6"/><circle cx="583.8" cy="345.8" r="3.6"/><circle cx="588.6" cy="340.2" r="3.6"/><circle cx="582.5" cy="348.3" r="3.6"/><circle cx="585.8" cy="321.2" r="3.6"/><circle cx="585.4" cy="344.1" r="3.6"/><circle cx="587.3" cy="343.3" r="3.6"/><circle cx="582.1" cy="333.3" r="3.6"/><circle cx="591.1" cy="363.6" r="3.6"/><circle cx="585.7" cy="293.1" r="3.6"/><circle cx="588.5" cy="323.9" r="3.6"/><circle cx="586.0" cy="308.7" r="3.6"/><circle cx="588.6" cy="334.1" r="3.6"/><circle cx="579.9" cy="349.9" r="3.6"/><circle cx="583.6" cy="359.4" r="3.6"/><circle cx="585.1" cy="328.2" r="3.6"/><circle cx="583.6" cy="334.4" r="3.6"/><circle cx="587.1" cy="344.6" r="3.6"/><circle cx="589.1" cy="344.1" r="3.6"/><circle cx="582.6" cy="348.1" r="3.6"/><circle cx="585.4" cy="329.0" r="3.6"/><circle cx="584.3" cy="307.5" r="3.6"/><circle cx="590.0" cy="349.5" r="3.6"/><circle cx="586.7" cy="363.8" r="3.6"/><circle cx="591.0" cy="306.4" r="3.6"/><circle cx="587.8" cy="349.4" r="3.6"/><circle cx="591.5" cy="353.2" r="3.6"/><circle cx="600.2" cy="254.7" r="3.6"/><circle cx="601.0" cy="223.8" r="3.6"/><circle cx="602.0" cy="240.8" r="3.6"/><circle cx="596.5" cy="277.3" r="3.6"/><circle cx="600.7" cy="193.8" r="3.6"/><circle cx="606.3" cy="330.1" r="3.6"/><circle cx="596.3" cy="264.4" r="3.6"/><circle cx="611.6" cy="316.1" r="3.6"/><circle cx="608.0" cy="247.3" r="3.6"/><circle cx="605.1" cy="276.2" r="3.6"/><circle cx="605.4" cy="230.0" r="3.6"/><circle cx="604.4" cy="275.7" r="3.6"/><circle cx="603.7" cy="211.7" r="3.6"/><circle cx="605.5" cy="281.7" r="3.6"/><circle cx="607.8" cy="319.4" r="3.6"/><circle cx="604.1" cy="281.8" r="3.6"/><circle cx="604.9" cy="344.1" r="3.6"/><circle cx="606.9" cy="224.6" r="3.6"/><circle cx="601.2" cy="366.1" r="3.6"/><circle cx="604.0" cy="202.0" r="3.6"/><circle cx="598.6" cy="208.8" r="3.6"/><circle cx="608.9" cy="282.3" r="3.6"/><circle cx="600.3" cy="271.2" r="3.6"/><circle cx="601.6" cy="260.1" r="3.6"/><circle cx="602.4" cy="254.1" r="3.6"/><circle cx="605.1" cy="271.4" r="3.6"/><circle cx="602.5" cy="278.6" r="3.6"/><circle cx="605.0" cy="258.0" r="3.6"/><circle cx="602.3" cy="205.8" r="3.6"/><circle cx="610.0" cy="304.1" r="3.6"/><circle cx="599.1" cy="231.4" r="3.6"/><circle cx="605.1" cy="308.9" r="3.6"/><circle cx="605.9" cy="332.3" r="3.6"/><circle cx="597.3" cy="217.8" r="3.6"/><circle cx="603.6" cy="236.7" r="3.6"/><circle cx="605.9" cy="171.8" r="3.6"/><circle cx="603.4" cy="197.2" r="3.6"/><circle cx="599.9" cy="161.9" r="3.6"/><circle cx="604.8" cy="241.0" r="3.6"/><circle cx="600.8" cy="226.1" r="3.6"/><circle cx="604.2" cy="342.0" r="3.6"/><circle cx="598.3" cy="346.3" r="3.6"/><circle cx="602.1" cy="331.8" r="3.6"/><circle cx="601.0" cy="180.3" r="3.6"/><circle cx="602.4" cy="238.1" r="3.6"/><circle cx="603.8" cy="159.2" r="3.6"/><circle cx="605.7" cy="272.5" r="3.6"/><circle cx="598.1" cy="275.7" r="3.6"/><circle cx="605.0" cy="272.3" r="3.6"/><circle cx="601.8" cy="210.8" r="3.6"/><circle cx="609.7" cy="228.4" r="3.6"/><circle cx="600.6" cy="273.9" r="3.6"/><circle cx="598.7" cy="217.5" r="3.6"/><circle cx="599.5" cy="286.8" r="3.6"/><circle cx="603.0" cy="178.3" r="3.6"/><circle cx="597.1" cy="345.6" r="3.6"/><circle cx="603.0" cy="330.6" r="3.6"/><circle cx="604.8" cy="269.8" r="3.6"/><circle cx="605.0" cy="318.8" r="3.6"/><circle cx="609.0" cy="266.6" r="3.6"/><circle cx="597.8" cy="179.4" r="3.6"/><circle cx="602.4" cy="263.2" r="3.6"/><circle cx="607.4" cy="371.0" r="3.6"/><circle cx="603.6" cy="231.5" r="3.6"/><circle cx="607.0" cy="192.6" r="3.6"/><circle cx="601.1" cy="193.7" r="3.6"/><circle cx="600.6" cy="257.5" r="3.6"/><circle cx="601.3" cy="202.1" r="3.6"/><circle cx="602.7" cy="236.3" r="3.6"/><circle cx="602.9" cy="310.1" r="3.6"/><circle cx="607.9" cy="241.1" r="3.6"/><circle cx="600.7" cy="263.4" r="3.6"/><circle cx="603.2" cy="226.0" r="3.6"/><circle cx="606.9" cy="164.9" r="3.6"/><circle cx="599.2" cy="281.7" r="3.6"/><circle cx="607.9" cy="243.3" r="3.6"/><circle cx="607.6" cy="239.6" r="3.6"/><circle cx="597.3" cy="245.2" r="3.6"/><circle cx="603.4" cy="276.1" r="3.6"/><circle cx="604.1" cy="315.8" r="3.6"/><circle cx="602.4" cy="277.9" r="3.6"/><circle cx="607.3" cy="284.0" r="3.6"/><circle cx="600.4" cy="298.3" r="3.6"/><circle cx="598.6" cy="211.7" r="3.6"/><circle cx="601.0" cy="261.1" r="3.6"/><circle cx="600.4" cy="289.9" r="3.6"/><circle cx="604.7" cy="225.6" r="3.6"/><circle cx="601.2" cy="280.3" r="3.6"/><circle cx="602.0" cy="291.0" r="3.6"/><circle cx="599.7" cy="233.8" r="3.6"/><circle cx="599.9" cy="285.5" r="3.6"/><circle cx="602.6" cy="224.1" r="3.6"/><circle cx="603.9" cy="234.2" r="3.6"/><circle cx="602.0" cy="270.4" r="3.6"/><circle cx="610.5" cy="216.8" r="3.6"/><circle cx="601.4" cy="217.8" r="3.6"/><circle cx="601.7" cy="214.3" r="3.6"/><circle cx="605.8" cy="240.0" r="3.6"/><circle cx="598.1" cy="323.3" r="3.6"/><circle cx="603.1" cy="254.4" r="3.6"/><circle cx="606.9" cy="312.0" r="3.6"/><circle cx="599.6" cy="212.7" r="3.6"/><circle cx="604.5" cy="308.9" r="3.6"/><circle cx="602.0" cy="217.8" r="3.6"/><circle cx="604.5" cy="183.6" r="3.6"/><circle cx="610.3" cy="247.4" r="3.6"/><circle cx="600.7" cy="292.1" r="3.6"/><circle cx="607.3" cy="318.0" r="3.6"/><circle cx="605.4" cy="190.2" r="3.6"/><circle cx="596.9" cy="189.0" r="3.6"/><circle cx="603.9" cy="206.8" r="3.6"/><circle cx="601.6" cy="271.2" r="3.6"/><circle cx="606.2" cy="339.0" r="3.6"/><circle cx="602.6" cy="307.9" r="3.6"/><circle cx="602.6" cy="196.2" r="3.6"/><circle cx="598.2" cy="183.6" r="3.6"/><circle cx="600.0" cy="220.2" r="3.6"/><circle cx="604.8" cy="330.9" r="3.6"/><circle cx="602.6" cy="211.1" r="3.6"/><circle cx="600.3" cy="202.8" r="3.6"/><circle cx="605.3" cy="269.6" r="3.6"/><circle cx="600.8" cy="222.6" r="3.6"/><circle cx="598.0" cy="180.9" r="3.6"/><circle cx="603.6" cy="217.1" r="3.6"/><circle cx="598.2" cy="209.5" r="3.6"/><circle cx="599.1" cy="305.0" r="3.6"/><circle cx="602.7" cy="295.7" r="3.6"/><circle cx="601.0" cy="352.7" r="3.6"/><circle cx="601.3" cy="283.9" r="3.6"/><circle cx="602.2" cy="300.3" r="3.6"/><circle cx="607.8" cy="250.9" r="3.6"/><circle cx="599.4" cy="365.9" r="3.6"/><circle cx="602.2" cy="227.0" r="3.6"/><circle cx="608.9" cy="258.7" r="3.6"/><circle cx="602.1" cy="241.7" r="3.6"/><circle cx="606.6" cy="324.2" r="3.6"/><circle cx="602.8" cy="278.1" r="3.6"/><circle cx="602.6" cy="268.2" r="3.6"/><circle cx="607.1" cy="239.9" r="3.6"/><circle cx="601.8" cy="284.9" r="3.6"/><circle cx="599.3" cy="291.7" r="3.6"/><circle cx="610.0" cy="192.0" r="3.6"/><circle cx="596.6" cy="162.1" r="3.6"/><circle cx="601.8" cy="209.8" r="3.6"/><circle cx="600.8" cy="259.2" r="3.6"/><circle cx="604.8" cy="250.7" r="3.6"/><circle cx="601.4" cy="273.5" r="3.6"/><circle cx="599.1" cy="206.7" r="3.6"/><circle cx="601.7" cy="323.0" r="3.6"/><circle cx="603.7" cy="253.9" r="3.6"/><circle cx="601.0" cy="305.4" r="3.6"/><circle cx="604.5" cy="317.5" r="3.6"/><circle cx="605.8" cy="352.9" r="3.6"/><circle cx="600.4" cy="325.6" r="3.6"/><circle cx="605.1" cy="368.4" r="3.6"/><circle cx="605.0" cy="354.9" r="3.6"/><circle cx="601.5" cy="342.0" r="3.6"/><circle cx="599.9" cy="314.5" r="3.6"/><circle cx="602.8" cy="367.4" r="3.6"/><circle cx="606.5" cy="339.9" r="3.6"/><circle cx="602.8" cy="367.2" r="3.6"/><circle cx="600.7" cy="312.0" r="3.6"/><circle cx="605.1" cy="308.7" r="3.6"/><circle cx="598.9" cy="296.6" r="3.6"/><circle cx="604.7" cy="323.2" r="3.6"/><circle cx="601.3" cy="324.8" r="3.6"/><circle cx="606.0" cy="361.3" r="3.6"/><circle cx="608.4" cy="342.9" r="3.6"/><circle cx="603.3" cy="362.4" r="3.6"/><circle cx="598.4" cy="322.4" r="3.6"/><circle cx="598.9" cy="333.1" r="3.6"/><circle cx="598.0" cy="354.3" r="3.6"/><circle cx="602.8" cy="320.6" r="3.6"/><circle cx="603.6" cy="341.6" r="3.6"/><circle cx="605.1" cy="362.4" r="3.6"/><circle cx="598.9" cy="353.0" r="3.6"/><circle cx="605.9" cy="299.8" r="3.6"/><circle cx="604.6" cy="318.7" r="3.6"/><circle cx="603.5" cy="342.0" r="3.6"/><circle cx="604.4" cy="336.4" r="3.6"/><circle cx="601.5" cy="333.5" r="3.6"/><circle cx="605.3" cy="348.4" r="3.6"/><circle cx="605.3" cy="333.0" r="3.6"/><circle cx="607.3" cy="331.8" r="3.6"/><circle cx="601.0" cy="352.2" r="3.6"/><circle cx="605.1" cy="332.8" r="3.6"/><circle cx="605.0" cy="326.8" r="3.6"/><circle cx="598.1" cy="307.2" r="3.6"/><circle cx="601.3" cy="314.0" r="3.6"/><circle cx="607.7" cy="345.9" r="3.6"/><circle cx="601.4" cy="300.4" r="3.6"/><circle cx="598.7" cy="299.2" r="3.6"/><circle cx="602.7" cy="326.1" r="3.6"/><circle cx="604.7" cy="334.9" r="3.6"/><circle cx="603.9" cy="332.4" r="3.6"/><circle cx="603.3" cy="357.4" r="3.6"/><circle cx="604.6" cy="334.4" r="3.6"/><circle cx="605.2" cy="323.6" r="3.6"/><circle cx="597.5" cy="335.2" r="3.6"/><circle cx="602.3" cy="355.1" r="3.6"/><circle cx="600.0" cy="365.0" r="3.6"/><circle cx="603.5" cy="338.7" r="3.6"/><circle cx="602.3" cy="315.2" r="3.6"/><circle cx="607.8" cy="329.3" r="3.6"/><circle cx="597.2" cy="311.9" r="3.6"/><circle cx="601.5" cy="338.9" r="3.6"/><circle cx="604.4" cy="338.6" r="3.6"/><circle cx="599.7" cy="343.3" r="3.6"/><circle cx="601.5" cy="329.4" r="3.6"/><circle cx="604.4" cy="353.5" r="3.6"/></g><circle cx="102.0" cy="71.9" r="3.62" fill="rgba(255,165,0,0.3)" stroke="#555" stroke-width="1.15"/><circle cx="102.0" cy="80.3" r="3.62" fill="rgba(0,0,255,0.27)" stroke="#555" stroke-width="1.15"/><circle cx="102.0" cy="87.3" r="3.62" fill="rgba(255,165,0,0.3)" stroke="#555" stroke-width="1.15"/><circle cx="102.0" cy="87.8" r="3.62" fill="rgba(0,0,255,0.27)" stroke="#555" stroke-width="1.15"/><circle cx="102.0" cy="114.4" r="3.62" fill="rgba(0,0,255,0.27)" stroke="#555" stroke-width="1.15"/><circle cx="102.0" cy="117.7" r="3.62" fill="rgba(0,0,255,0.27)" stroke="#555" stroke-width="1.15"/><circle cx="102.0" cy="132.0" r="3.62" fill="rgba(0,0,255,0.27)" stroke="#555" stroke-width="1.15"/><circle cx="102.0" cy="135.0" r="3.62" fill="rgba(0,0,255,0.27)" stroke="#555" stroke-width="1.15"/><circle cx="102.0" cy="141.0" r="3.62" fill="rgba(255,165,0,0.3)" stroke="#555" stroke-width="1.15"/><circle cx="102.0" cy="141.5" r="3.62" fill="rgba(0,0,255,0.27)" stroke="#555" stroke-width="1.15"/><circle cx="102.0" cy="143.0" r="3.62" fill="rgba(0,0,255,0.27)" stroke="#555" stroke-width="1.15"/><circle cx="102.0" cy="168.4" r="3.62" fill="rgba(0,0,255,0.27)" stroke="#555" stroke-width="1.15"/><circle cx="102.0" cy="174.0" r="3.62" fill="rgba(0,0,255,0.27)" stroke="#555" stroke-width="1.15"/><circle cx="102.0" cy="185.8" r="3.62" fill="rgba(255,165,0,0.3)" stroke="#555" stroke-width="1.15"/><circle cx="102.0" cy="186.4" r="3.62" fill="rgba(255,165,0,0.3)" stroke="#555" stroke-width="1.15"/><circle cx="102.0" cy="188.0" r="3.62" fill="rgba(255,165,0,0.3)" stroke="#555" stroke-width="1.15"/><circle cx="102.0" cy="211.7" r="3.62" fill="rgba(255,165,0,0.3)" stroke="#555" stroke-width="1.15"/><circle cx="102.0" cy="235.4" r="3.62" fill="rgba(255,165,0,0.3)" stroke="#555" stroke-width="1.15"/><circle cx="102.0" cy="238.8" r="3.62" fill="rgba(255,165,0,0.3)" stroke="#555" stroke-width="1.15"/><circle cx="102.0" cy="241.4" r="3.62" fill="rgba(255,165,0,0.3)" stroke="#555" stroke-width="1.15"/><circle cx="102.0" cy="271.4" r="3.62" fill="rgba(255,165,0,0.3)" stroke="#555" stroke-width="1.15"/><circle cx="102.0" cy="302.0" r="3.62" fill="rgba(255,165,0,0.3)" stroke="#555" stroke-width="1.15"/><circle cx="117.2" cy="70.9" r="3.62" fill="rgba(0,0,255,0.27)" stroke="#555" stroke-width="1.15"/><circle cx="117.2" cy="86.6" r="3.62" fill="rgba(0,0,255,0.27)" stroke="#555" stroke-width="1.15"/><circle cx="117.2" cy="89.0" r="3.62" fill="rgba(0,0,255,0.27)" stroke="#555" stroke-width="1.15"/><circle cx="117.2" cy="91.0" r="3.62" fill="rgba(0,0,255,0.27)" stroke="#555" stroke-width="1.15"/><circle cx="117.2" cy="94.7" r="3.62" fill="rgba(255,165,0,0.3)" stroke="#555" stroke-width="1.15"/><circle cx="117.2" cy="95.2" r="3.62" fill="rgba(0,0,255,0.27)" stroke="#555" stroke-width="1.15"/><circle cx="117.2" cy="99.2" r="3.62" fill="rgba(0,0,255,0.27)" stroke="#555" stroke-width="1.15"/><circle cx="117.2" cy="129.6" r="3.62" fill="rgba(255,165,0,0.3)" stroke="#555" stroke-width="1.15"/><circle cx="117.2" cy="143.5" r="3.62" fill="rgba(255,165,0,0.3)" stroke="#555" stroke-width="1.15"/><circle cx="117.2" cy="176.0" r="3.62" fill="rgba(255,165,0,0.3)" stroke="#555" stroke-width="1.15"/><circle cx="117.2" cy="229.0" r="3.62" fill="rgba(255,165,0,0.3)" stroke="#555" stroke-width="1.15"/><circle cx="117.2" cy="278.6" r="3.62" fill="rgba(255,165,0,0.3)" stroke="#555" stroke-width="1.15"/><circle cx="129.0" cy="165.8" r="3.62" fill="rgba(0,0,255,0.27)" stroke="#555" stroke-width="1.15"/><circle cx="129.0" cy="241.0" r="3.62" fill="rgba(255,165,0,0.3)" stroke="#555" stroke-width="1.15"/><circle cx="230.8" cy="59.6" r="3.62" fill="rgba(255,165,0,0.3)" stroke="#555" stroke-width="1.15"/><circle cx="228.3" cy="69.7" r="3.62" fill="rgba(0,0,255,0.27)" stroke="#555" stroke-width="1.15"/><circle cx="230.3" cy="72.8" r="3.62" fill="rgba(255,165,0,0.3)" stroke="#555" stroke-width="1.15"/><circle cx="230.3" cy="73.3" r="3.62" fill="rgba(0,0,255,0.27)" stroke="#555" stroke-width="1.15"/><circle cx="235.9" cy="74.6" r="3.62" fill="rgba(255,165,0,0.3)" stroke="#555" stroke-width="1.15"/><circle cx="232.3" cy="75.3" r="3.62" fill="rgba(255,165,0,0.3)" stroke="#555" stroke-width="1.15"/><circle cx="234.9" cy="79.9" r="3.62" fill="rgba(0,0,255,0.27)" stroke="#555" stroke-width="1.15"/><circle cx="218.9" cy="82.9" r="3.62" fill="rgba(255,165,0,0.3)" stroke="#555" stroke-width="1.15"/><circle cx="224.0" cy="85.4" r="3.62" fill="rgba(255,165,0,0.3)" stroke="#555" stroke-width="1.15"/><circle cx="228.5" cy="82.9" r="3.62" fill="rgba(255,165,0,0.3)" stroke="#555" stroke-width="1.15"/><circle cx="229.0" cy="88.5" r="3.62" fill="rgba(255,165,0,0.3)" stroke="#555" stroke-width="1.15"/><circle cx="229.0" cy="89.0" r="3.62" fill="rgba(0,0,255,0.27)" stroke="#555" stroke-width="1.15"/><circle cx="235.4" cy="88.5" r="3.62" fill="rgba(255,165,0,0.3)" stroke="#555" stroke-width="1.15"/><circle cx="235.4" cy="89.0" r="3.62" fill="rgba(0,0,255,0.27)" stroke="#555" stroke-width="1.15"/><circle cx="228.3" cy="98.1" r="3.62" fill="rgba(0,0,255,0.27)" stroke="#555" stroke-width="1.15"/><circle cx="228.3" cy="98.1" r="3.62" fill="rgba(0,0,255,0.27)" stroke="#555" stroke-width="1.15"/><circle cx="234.9" cy="97.6" r="3.62" fill="rgba(0,0,255,0.27)" stroke="#555" stroke-width="1.15"/><circle cx="223.2" cy="103.7" r="3.62" fill="rgba(0,0,255,0.27)" stroke="#555" stroke-width="1.15"/><circle cx="229.0" cy="103.2" r="3.62" fill="rgba(255,165,0,0.3)" stroke="#555" stroke-width="1.15"/><circle cx="229.0" cy="103.7" r="3.62" fill="rgba(0,0,255,0.27)" stroke="#555" stroke-width="1.15"/><circle cx="235.4" cy="103.2" r="3.62" fill="rgba(255,165,0,0.3)" stroke="#555" stroke-width="1.15"/><circle cx="235.4" cy="103.7" r="3.62" fill="rgba(0,0,255,0.27)" stroke="#555" stroke-width="1.15"/><circle cx="229.8" cy="110.8" r="3.62" fill="rgba(255,165,0,0.3)" stroke="#555" stroke-width="1.15"/><circle cx="234.9" cy="108.7" r="3.62" fill="rgba(255,165,0,0.3)" stroke="#555" stroke-width="1.15"/><circle cx="234.9" cy="109.2" r="3.62" fill="rgba(0,0,255,0.27)" stroke="#555" stroke-width="1.15"/><circle cx="234.9" cy="114.6" r="3.62" fill="rgba(0,0,255,0.27)" stroke="#555" stroke-width="1.15"/><circle cx="212.6" cy="110.8" r="3.62" fill="rgba(255,165,0,0.3)" stroke="#555" stroke-width="1.15"/><circle cx="212.6" cy="120.9" r="3.62" fill="rgba(0,0,255,0.27)" stroke="#555" stroke-width="1.15"/><circle cx="253.6" cy="112.0" r="3.62" fill="rgba(0,0,255,0.27)" stroke="#555" stroke-width="1.15"/><circle cx="255.1" cy="115.3" r="3.62" fill="rgba(0,0,255,0.27)" stroke="#555" stroke-width="1.15"/><circle cx="253.6" cy="121.4" r="3.62" fill="rgba(255,165,0,0.3)" stroke="#555" stroke-width="1.15"/><circle cx="230.3" cy="125.4" r="3.62" fill="rgba(255,165,0,0.3)" stroke="#555" stroke-width="1.15"/><circle cx="220.2" cy="130.5" r="3.62" fill="rgba(0,0,255,0.27)" stroke="#555" stroke-width="1.15"/><circle cx="228.3" cy="131.5" r="3.62" fill="rgba(0,0,255,0.27)" stroke="#555" stroke-width="1.15"/><circle cx="235.4" cy="132.3" r="3.62" fill="rgba(255,165,0,0.3)" stroke="#555" stroke-width="1.15"/><circle cx="235.4" cy="132.9" r="3.62" fill="rgba(255,165,0,0.3)" stroke="#555" stroke-width="1.15"/><circle cx="235.4" cy="132.3" r="3.62" fill="rgba(0,0,255,0.27)" stroke="#555" stroke-width="1.15"/><circle cx="230.3" cy="137.3" r="3.62" fill="rgba(0,0,255,0.27)" stroke="#555" stroke-width="1.15"/><circle cx="234.9" cy="138.6" r="3.62" fill="rgba(0,0,255,0.27)" stroke="#555" stroke-width="1.15"/><circle cx="229.0" cy="142.4" r="3.62" fill="rgba(0,0,255,0.27)" stroke="#555" stroke-width="1.15"/><circle cx="229.0" cy="147.5" r="3.62" fill="rgba(0,0,255,0.27)" stroke="#555" stroke-width="1.15"/><circle cx="235.4" cy="149.2" r="3.62" fill="rgba(255,165,0,0.3)" stroke="#555" stroke-width="1.15"/><circle cx="230.3" cy="151.3" r="3.62" fill="rgba(255,165,0,0.3)" stroke="#555" stroke-width="1.15"/><circle cx="234.9" cy="152.5" r="3.62" fill="rgba(255,165,0,0.3)" stroke="#555" stroke-width="1.15"/><circle cx="234.9" cy="153.0" r="3.62" fill="rgba(0,0,255,0.27)" stroke="#555" stroke-width="1.15"/><circle cx="218.2" cy="155.8" r="3.62" fill="rgba(0,0,255,0.27)" stroke="#555" stroke-width="1.15"/><circle cx="218.2" cy="159.4" r="3.62" fill="rgba(0,0,255,0.27)" stroke="#555" stroke-width="1.15"/><circle cx="230.3" cy="158.4" r="3.62" fill="rgba(255,165,0,0.3)" stroke="#555" stroke-width="1.15"/><circle cx="230.3" cy="159.0" r="3.62" fill="rgba(255,165,0,0.3)" stroke="#555" stroke-width="1.15"/><circle cx="235.4" cy="157.6" r="3.62" fill="rgba(255,165,0,0.3)" stroke="#555" stroke-width="1.15"/><circle cx="235.4" cy="158.1" r="3.62" fill="rgba(0,0,255,0.27)" stroke="#555" stroke-width="1.15"/><circle cx="230.3" cy="163.9" r="3.62" fill="rgba(0,0,255,0.27)" stroke="#555" stroke-width="1.15"/><circle cx="229.3" cy="164.0" r="3.62" fill="rgba(255,165,0,0.3)" stroke="#555" stroke-width="1.15"/><circle cx="229.3" cy="164.5" r="3.62" fill="rgba(0,0,255,0.27)" stroke="#555" stroke-width="1.15"/><circle cx="230.3" cy="171.8" r="3.62" fill="rgba(0,0,255,0.27)" stroke="#555" stroke-width="1.15"/><circle cx="234.7" cy="178.5" r="3.62" fill="rgba(255,165,0,0.3)" stroke="#555" stroke-width="1.15"/><circle cx="234.7" cy="179.0" r="3.62" fill="rgba(0,0,255,0.27)" stroke="#555" stroke-width="1.15"/><circle cx="254.9" cy="176.9" r="3.62" fill="rgba(255,165,0,0.3)" stroke="#555" stroke-width="1.15"/><circle cx="227.9" cy="185.3" r="3.62" fill="rgba(255,165,0,0.3)" stroke="#555" stroke-width="1.15"/><circle cx="227.9" cy="185.8" r="3.62" fill="rgba(0,0,255,0.27)" stroke="#555" stroke-width="1.15"/><circle cx="229.3" cy="190.3" r="3.62" fill="rgba(255,165,0,0.3)" stroke="#555" stroke-width="1.15"/><circle cx="217.8" cy="208.9" r="3.62" fill="rgba(255,165,0,0.3)" stroke="#555" stroke-width="1.15"/><circle cx="227.9" cy="220.0" r="3.62" fill="rgba(255,165,0,0.3)" stroke="#555" stroke-width="1.15"/><circle cx="227.9" cy="225.7" r="3.62" fill="rgba(255,165,0,0.3)" stroke="#555" stroke-width="1.15"/><circle cx="231.3" cy="225.7" r="3.62" fill="rgba(255,165,0,0.3)" stroke="#555" stroke-width="1.15"/><circle cx="235.3" cy="230.8" r="3.62" fill="rgba(255,165,0,0.3)" stroke="#555" stroke-width="1.15"/><circle cx="230.3" cy="240.2" r="3.62" fill="rgba(255,165,0,0.3)" stroke="#555" stroke-width="1.15"/><circle cx="230.3" cy="240.8" r="3.62" fill="rgba(255,165,0,0.3)" stroke="#555" stroke-width="1.15"/><circle cx="235.3" cy="244.3" r="3.62" fill="rgba(255,165,0,0.3)" stroke="#555" stroke-width="1.15"/><circle cx="235.3" cy="249.3" r="3.62" fill="rgba(255,165,0,0.3)" stroke="#555" stroke-width="1.15"/><circle cx="227.9" cy="308.3" r="3.62" fill="rgba(255,165,0,0.3)" stroke="#555" stroke-width="1.15"/><circle cx="382.2" cy="81.5" r="3.62" fill="rgba(255,165,0,0.3)" stroke="#555" stroke-width="1.15"/><circle cx="383.5" cy="86.0" r="3.62" fill="rgba(255,165,0,0.3)" stroke="#555" stroke-width="1.15"/><circle cx="384.2" cy="90.2" r="3.62" fill="rgba(255,165,0,0.3)" stroke="#555" stroke-width="1.15"/><circle cx="385.2" cy="92.8" r="3.62" fill="rgba(255,165,0,0.3)" stroke="#555" stroke-width="1.15"/><circle cx="387.2" cy="95.3" r="3.62" fill="rgba(255,165,0,0.3)" stroke="#555" stroke-width="1.15"/><circle cx="387.2" cy="95.9" r="3.62" fill="rgba(255,165,0,0.3)" stroke="#555" stroke-width="1.15"/><circle cx="382.2" cy="98.3" r="3.62" fill="rgba(255,165,0,0.3)" stroke="#555" stroke-width="1.15"/><circle cx="386.4" cy="99.5" r="3.62" fill="rgba(255,165,0,0.3)" stroke="#555" stroke-width="1.15"/><circle cx="386.9" cy="102.0" r="3.62" fill="rgba(255,165,0,0.3)" stroke="#555" stroke-width="1.15"/><circle cx="382.2" cy="107.1" r="3.62" fill="rgba(0,0,255,0.27)" stroke="#555" stroke-width="1.15"/><circle cx="383.5" cy="113.8" r="3.62" fill="rgba(0,0,255,0.27)" stroke="#555" stroke-width="1.15"/><circle cx="387.6" cy="118.9" r="3.62" fill="rgba(0,0,255,0.27)" stroke="#555" stroke-width="1.15"/><circle cx="383.5" cy="121.4" r="3.62" fill="rgba(255,165,0,0.3)" stroke="#555" stroke-width="1.15"/><circle cx="383.5" cy="121.9" r="3.62" fill="rgba(0,0,255,0.27)" stroke="#555" stroke-width="1.15"/><circle cx="387.2" cy="123.6" r="3.62" fill="rgba(0,0,255,0.27)" stroke="#555" stroke-width="1.15"/><circle cx="385.9" cy="134.9" r="3.62" fill="rgba(255,165,0,0.3)" stroke="#555" stroke-width="1.15"/><circle cx="383.0" cy="140.8" r="3.62" fill="rgba(0,0,255,0.27)" stroke="#555" stroke-width="1.15"/><circle cx="387.2" cy="144.2" r="3.62" fill="rgba(0,0,255,0.27)" stroke="#555" stroke-width="1.15"/><circle cx="383.5" cy="146.7" r="3.62" fill="rgba(255,165,0,0.3)" stroke="#555" stroke-width="1.15"/><circle cx="383.0" cy="141.7" r="3.62" fill="rgba(0,0,255,0.27)" stroke="#555" stroke-width="1.15"/><circle cx="383.0" cy="147.6" r="3.62" fill="rgba(255,165,0,0.3)" stroke="#555" stroke-width="1.15"/><circle cx="387.2" cy="147.6" r="3.62" fill="rgba(0,0,255,0.27)" stroke="#555" stroke-width="1.15"/><circle cx="385.5" cy="154.3" r="3.62" fill="rgba(0,0,255,0.27)" stroke="#555" stroke-width="1.15"/><circle cx="382.2" cy="160.2" r="3.62" fill="rgba(0,0,255,0.27)" stroke="#555" stroke-width="1.15"/><circle cx="388.0" cy="157.7" r="3.62" fill="rgba(255,165,0,0.3)" stroke="#555" stroke-width="1.15"/><circle cx="388.0" cy="158.2" r="3.62" fill="rgba(0,0,255,0.27)" stroke="#555" stroke-width="1.15"/><circle cx="383.0" cy="167.0" r="3.62" fill="rgba(255,165,0,0.3)" stroke="#555" stroke-width="1.15"/><circle cx="387.2" cy="167.0" r="3.62" fill="rgba(255,165,0,0.3)" stroke="#555" stroke-width="1.15"/><circle cx="387.2" cy="167.6" r="3.62" fill="rgba(255,165,0,0.3)" stroke="#555" stroke-width="1.15"/><circle cx="383.0" cy="172.0" r="3.62" fill="rgba(255,165,0,0.3)" stroke="#555" stroke-width="1.15"/><circle cx="383.0" cy="172.6" r="3.62" fill="rgba(255,165,0,0.3)" stroke="#555" stroke-width="1.15"/><circle cx="387.2" cy="173.7" r="3.62" fill="rgba(0,0,255,0.27)" stroke="#555" stroke-width="1.15"/><circle cx="383.0" cy="177.1" r="3.62" fill="rgba(0,0,255,0.27)" stroke="#555" stroke-width="1.15"/><circle cx="387.2" cy="180.5" r="3.62" fill="rgba(255,165,0,0.3)" stroke="#555" stroke-width="1.15"/><circle cx="387.2" cy="181.0" r="3.62" fill="rgba(0,0,255,0.27)" stroke="#555" stroke-width="1.15"/><circle cx="387.2" cy="183.8" r="3.62" fill="rgba(0,0,255,0.27)" stroke="#555" stroke-width="1.15"/><circle cx="386.4" cy="195.6" r="3.62" fill="rgba(0,0,255,0.27)" stroke="#555" stroke-width="1.15"/><circle cx="386.4" cy="201.5" r="3.62" fill="rgba(0,0,255,0.27)" stroke="#555" stroke-width="1.15"/><circle cx="386.4" cy="217.6" r="3.62" fill="rgba(255,165,0,0.3)" stroke="#555" stroke-width="1.15"/><circle cx="386.1" cy="218.5" r="3.62" fill="rgba(255,165,0,0.3)" stroke="#555" stroke-width="1.15"/><circle cx="386.1" cy="219.1" r="3.62" fill="rgba(255,165,0,0.3)" stroke="#555" stroke-width="1.15"/><circle cx="386.9" cy="225.8" r="3.62" fill="rgba(255,165,0,0.3)" stroke="#555" stroke-width="1.15"/><circle cx="382.3" cy="258.6" r="3.62" fill="rgba(0,0,255,0.27)" stroke="#555" stroke-width="1.15"/><circle cx="386.9" cy="260.3" r="3.62" fill="rgba(255,165,0,0.3)" stroke="#555" stroke-width="1.15"/><circle cx="386.1" cy="302.5" r="3.62" fill="rgba(255,165,0,0.3)" stroke="#555" stroke-width="1.15"/><circle cx="361.1" cy="120.9" r="3.62" fill="rgba(0,0,255,0.27)" stroke="#555" stroke-width="1.15"/><circle cx="370.4" cy="117.6" r="3.62" fill="rgba(255,165,0,0.3)" stroke="#555" stroke-width="1.15"/><circle cx="370.4" cy="122.6" r="3.62" fill="rgba(0,0,255,0.27)" stroke="#555" stroke-width="1.15"/><circle cx="361.1" cy="125.6" r="3.62" fill="rgba(255,165,0,0.3)" stroke="#555" stroke-width="1.15"/><circle cx="361.1" cy="126.1" r="3.62" fill="rgba(0,0,255,0.27)" stroke="#555" stroke-width="1.15"/><circle cx="361.6" cy="129.9" r="3.62" fill="rgba(255,165,0,0.3)" stroke="#555" stroke-width="1.15"/><circle cx="361.6" cy="130.5" r="3.62" fill="rgba(255,165,0,0.3)" stroke="#555" stroke-width="1.15"/><circle cx="367.0" cy="129.9" r="3.62" fill="rgba(255,165,0,0.3)" stroke="#555" stroke-width="1.15"/><circle cx="367.0" cy="130.5" r="3.62" fill="rgba(255,165,0,0.3)" stroke="#555" stroke-width="1.15"/><circle cx="361.9" cy="134.1" r="3.62" fill="rgba(255,165,0,0.3)" stroke="#555" stroke-width="1.15"/><circle cx="361.9" cy="134.7" r="3.62" fill="rgba(255,165,0,0.3)" stroke="#555" stroke-width="1.15"/><circle cx="367.8" cy="132.4" r="3.62" fill="rgba(0,0,255,0.27)" stroke="#555" stroke-width="1.15"/><circle cx="361.1" cy="138.3" r="3.62" fill="rgba(255,165,0,0.3)" stroke="#555" stroke-width="1.15"/><circle cx="361.1" cy="138.9" r="3.62" fill="rgba(255,165,0,0.3)" stroke="#555" stroke-width="1.15"/><circle cx="367.0" cy="139.1" r="3.62" fill="rgba(255,165,0,0.3)" stroke="#555" stroke-width="1.15"/><circle cx="361.9" cy="142.5" r="3.62" fill="rgba(255,165,0,0.3)" stroke="#555" stroke-width="1.15"/><circle cx="361.9" cy="143.1" r="3.62" fill="rgba(255,165,0,0.3)" stroke="#555" stroke-width="1.15"/><circle cx="367.0" cy="142.5" r="3.62" fill="rgba(255,165,0,0.3)" stroke="#555" stroke-width="1.15"/><circle cx="367.0" cy="143.1" r="3.62" fill="rgba(255,165,0,0.3)" stroke="#555" stroke-width="1.15"/><circle cx="361.0" cy="146.7" r="3.62" fill="rgba(255,165,0,0.3)" stroke="#555" stroke-width="1.15"/><circle cx="361.0" cy="147.3" r="3.62" fill="rgba(255,165,0,0.3)" stroke="#555" stroke-width="1.15"/><circle cx="367.0" cy="146.7" r="3.62" fill="rgba(255,165,0,0.3)" stroke="#555" stroke-width="1.15"/><circle cx="367.0" cy="147.3" r="3.62" fill="rgba(255,165,0,0.3)" stroke="#555" stroke-width="1.15"/><circle cx="361.0" cy="153.5" r="3.62" fill="rgba(0,0,255,0.27)" stroke="#555" stroke-width="1.15"/><circle cx="361.9" cy="158.5" r="3.62" fill="rgba(0,0,255,0.27)" stroke="#555" stroke-width="1.15"/><circle cx="367.0" cy="156.9" r="3.62" fill="rgba(255,165,0,0.3)" stroke="#555" stroke-width="1.15"/><circle cx="367.0" cy="157.5" r="3.62" fill="rgba(255,165,0,0.3)" stroke="#555" stroke-width="1.15"/><circle cx="367.0" cy="161.1" r="3.62" fill="rgba(255,165,0,0.3)" stroke="#555" stroke-width="1.15"/><circle cx="367.0" cy="161.7" r="3.62" fill="rgba(255,165,0,0.3)" stroke="#555" stroke-width="1.15"/><circle cx="367.0" cy="165.3" r="3.62" fill="rgba(255,165,0,0.3)" stroke="#555" stroke-width="1.15"/><circle cx="367.0" cy="165.9" r="3.62" fill="rgba(255,165,0,0.3)" stroke="#555" stroke-width="1.15"/><circle cx="361.9" cy="171.2" r="3.62" fill="rgba(255,165,0,0.3)" stroke="#555" stroke-width="1.15"/><circle cx="361.9" cy="171.7" r="3.62" fill="rgba(0,0,255,0.27)" stroke="#555" stroke-width="1.15"/><circle cx="367.8" cy="172.0" r="3.62" fill="rgba(0,0,255,0.27)" stroke="#555" stroke-width="1.15"/><circle cx="362.8" cy="174.6" r="3.62" fill="rgba(255,165,0,0.3)" stroke="#555" stroke-width="1.15"/><circle cx="362.8" cy="175.1" r="3.62" fill="rgba(0,0,255,0.27)" stroke="#555" stroke-width="1.15"/><circle cx="367.0" cy="175.4" r="3.62" fill="rgba(255,165,0,0.3)" stroke="#555" stroke-width="1.15"/><circle cx="357.7" cy="188.9" r="3.62" fill="rgba(255,165,0,0.3)" stroke="#555" stroke-width="1.15"/><circle cx="367.0" cy="189.7" r="3.62" fill="rgba(255,165,0,0.3)" stroke="#555" stroke-width="1.15"/><circle cx="361.9" cy="199.9" r="3.62" fill="rgba(255,165,0,0.3)" stroke="#555" stroke-width="1.15"/><circle cx="367.0" cy="199.0" r="3.62" fill="rgba(255,165,0,0.3)" stroke="#555" stroke-width="1.15"/><circle cx="367.8" cy="204.0" r="3.62" fill="rgba(255,165,0,0.3)" stroke="#555" stroke-width="1.15"/><circle cx="367.8" cy="204.6" r="3.62" fill="rgba(255,165,0,0.3)" stroke="#555" stroke-width="1.15"/><circle cx="361.9" cy="208.3" r="3.62" fill="rgba(0,0,255,0.27)" stroke="#555" stroke-width="1.15"/><circle cx="367.8" cy="209.1" r="3.62" fill="rgba(255,165,0,0.3)" stroke="#555" stroke-width="1.15"/><circle cx="367.8" cy="209.7" r="3.62" fill="rgba(255,165,0,0.3)" stroke="#555" stroke-width="1.15"/><circle cx="363.6" cy="214.2" r="3.62" fill="rgba(255,165,0,0.3)" stroke="#555" stroke-width="1.15"/><circle cx="367.8" cy="214.2" r="3.62" fill="rgba(255,165,0,0.3)" stroke="#555" stroke-width="1.15"/><circle cx="367.8" cy="214.8" r="3.62" fill="rgba(255,165,0,0.3)" stroke="#555" stroke-width="1.15"/><circle cx="361.0" cy="218.4" r="3.62" fill="rgba(0,0,255,0.27)" stroke="#555" stroke-width="1.15"/><circle cx="361.1" cy="211.0" r="3.62" fill="rgba(0,0,255,0.27)" stroke="#555" stroke-width="1.15"/><circle cx="361.1" cy="219.5" r="3.62" fill="rgba(0,0,255,0.27)" stroke="#555" stroke-width="1.15"/><circle cx="367.5" cy="217.4" r="3.62" fill="rgba(255,165,0,0.3)" stroke="#555" stroke-width="1.15"/><circle cx="367.5" cy="218.0" r="3.62" fill="rgba(255,165,0,0.3)" stroke="#555" stroke-width="1.15"/><circle cx="362.2" cy="225.8" r="3.62" fill="rgba(255,165,0,0.3)" stroke="#555" stroke-width="1.15"/><circle cx="367.5" cy="224.8" r="3.62" fill="rgba(255,165,0,0.3)" stroke="#555" stroke-width="1.15"/><circle cx="367.5" cy="225.4" r="3.62" fill="rgba(255,165,0,0.3)" stroke="#555" stroke-width="1.15"/><circle cx="367.5" cy="230.0" r="3.62" fill="rgba(255,165,0,0.3)" stroke="#555" stroke-width="1.15"/><circle cx="367.5" cy="230.6" r="3.62" fill="rgba(255,165,0,0.3)" stroke="#555" stroke-width="1.15"/><circle cx="366.4" cy="236.4" r="3.62" fill="rgba(255,165,0,0.3)" stroke="#555" stroke-width="1.15"/><circle cx="366.4" cy="240.6" r="3.62" fill="rgba(0,0,255,0.27)" stroke="#555" stroke-width="1.15"/><circle cx="358.0" cy="245.9" r="3.62" fill="rgba(0,0,255,0.27)" stroke="#555" stroke-width="1.15"/><circle cx="366.4" cy="248.0" r="3.62" fill="rgba(0,0,255,0.27)" stroke="#555" stroke-width="1.15"/><circle cx="366.4" cy="250.1" r="3.62" fill="rgba(255,165,0,0.3)" stroke="#555" stroke-width="1.15"/><circle cx="366.4" cy="256.5" r="3.62" fill="rgba(255,165,0,0.3)" stroke="#555" stroke-width="1.15"/><circle cx="366.4" cy="257.0" r="3.62" fill="rgba(0,0,255,0.27)" stroke="#555" stroke-width="1.15"/><circle cx="366.4" cy="259.7" r="3.62" fill="rgba(255,165,0,0.3)" stroke="#555" stroke-width="1.15"/><circle cx="366.4" cy="260.3" r="3.62" fill="rgba(255,165,0,0.3)" stroke="#555" stroke-width="1.15"/><circle cx="366.4" cy="262.8" r="3.62" fill="rgba(255,165,0,0.3)" stroke="#555" stroke-width="1.15"/><circle cx="366.4" cy="266.0" r="3.62" fill="rgba(255,165,0,0.3)" stroke="#555" stroke-width="1.15"/><circle cx="366.4" cy="278.7" r="3.62" fill="rgba(255,165,0,0.3)" stroke="#555" stroke-width="1.15"/><circle cx="366.4" cy="300.9" r="3.62" fill="rgba(255,165,0,0.3)" stroke="#555" stroke-width="1.15"/><circle cx="521.2" cy="118.6" r="3.62" fill="rgba(0,0,255,0.27)" stroke="#555" stroke-width="1.15"/><circle cx="521.2" cy="135.9" r="3.62" fill="rgba(0,0,255,0.27)" stroke="#555" stroke-width="1.15"/><circle cx="521.8" cy="155.4" r="3.62" fill="rgba(0,0,255,0.27)" stroke="#555" stroke-width="1.15"/><circle cx="521.2" cy="161.3" r="3.62" fill="rgba(0,0,255,0.27)" stroke="#555" stroke-width="1.15"/><circle cx="515.5" cy="168.0" r="3.62" fill="rgba(0,0,255,0.27)" stroke="#555" stroke-width="1.15"/><circle cx="518.0" cy="164.4" r="3.62" fill="rgba(0,0,255,0.27)" stroke="#555" stroke-width="1.15"/><circle cx="517.6" cy="177.8" r="3.62" fill="rgba(255,165,0,0.3)" stroke="#555" stroke-width="1.15"/><circle cx="522.7" cy="177.8" r="3.62" fill="rgba(255,165,0,0.3)" stroke="#555" stroke-width="1.15"/><circle cx="521.2" cy="183.5" r="3.62" fill="rgba(0,0,255,0.27)" stroke="#555" stroke-width="1.15"/><circle cx="518.0" cy="188.7" r="3.62" fill="rgba(0,0,255,0.27)" stroke="#555" stroke-width="1.15"/><circle cx="522.3" cy="197.2" r="3.62" fill="rgba(255,165,0,0.3)" stroke="#555" stroke-width="1.15"/><circle cx="522.3" cy="197.8" r="3.62" fill="rgba(255,165,0,0.3)" stroke="#555" stroke-width="1.15"/><circle cx="501.1" cy="139.1" r="3.62" fill="rgba(0,0,255,0.27)" stroke="#555" stroke-width="1.15"/><circle cx="506.4" cy="141.2" r="3.62" fill="rgba(255,165,0,0.3)" stroke="#555" stroke-width="1.15"/><circle cx="506.4" cy="145.4" r="3.62" fill="rgba(255,165,0,0.3)" stroke="#555" stroke-width="1.15"/><circle cx="506.4" cy="146.0" r="3.62" fill="rgba(255,165,0,0.3)" stroke="#555" stroke-width="1.15"/><circle cx="506.4" cy="150.7" r="3.62" fill="rgba(255,165,0,0.3)" stroke="#555" stroke-width="1.15"/><circle cx="506.4" cy="151.2" r="3.62" fill="rgba(0,0,255,0.27)" stroke="#555" stroke-width="1.15"/><circle cx="506.4" cy="156.6" r="3.62" fill="rgba(0,0,255,0.27)" stroke="#555" stroke-width="1.15"/><circle cx="506.4" cy="162.3" r="3.62" fill="rgba(0,0,255,0.27)" stroke="#555" stroke-width="1.15"/><circle cx="506.4" cy="172.9" r="3.62" fill="rgba(255,165,0,0.3)" stroke="#555" stroke-width="1.15"/><circle cx="506.4" cy="173.5" r="3.62" fill="rgba(255,165,0,0.3)" stroke="#555" stroke-width="1.15"/><circle cx="491.6" cy="147.5" r="3.62" fill="rgba(255,165,0,0.3)" stroke="#555" stroke-width="1.15"/><circle cx="498.0" cy="147.5" r="3.62" fill="rgba(255,165,0,0.3)" stroke="#555" stroke-width="1.15"/><circle cx="498.0" cy="150.7" r="3.62" fill="rgba(255,165,0,0.3)" stroke="#555" stroke-width="1.15"/><circle cx="498.0" cy="151.3" r="3.62" fill="rgba(255,165,0,0.3)" stroke="#555" stroke-width="1.15"/><circle cx="491.6" cy="151.8" r="3.62" fill="rgba(255,165,0,0.3)" stroke="#555" stroke-width="1.15"/><circle cx="491.6" cy="152.3" r="3.62" fill="rgba(0,0,255,0.27)" stroke="#555" stroke-width="1.15"/><circle cx="494.8" cy="157.0" r="3.62" fill="rgba(255,165,0,0.3)" stroke="#555" stroke-width="1.15"/><circle cx="494.8" cy="157.5" r="3.62" fill="rgba(0,0,255,0.27)" stroke="#555" stroke-width="1.15"/><circle cx="499.0" cy="157.0" r="3.62" fill="rgba(255,165,0,0.3)" stroke="#555" stroke-width="1.15"/><circle cx="499.0" cy="157.5" r="3.62" fill="rgba(0,0,255,0.27)" stroke="#555" stroke-width="1.15"/><circle cx="496.9" cy="165.5" r="3.62" fill="rgba(255,165,0,0.3)" stroke="#555" stroke-width="1.15"/><circle cx="491.6" cy="169.7" r="3.62" fill="rgba(255,165,0,0.3)" stroke="#555" stroke-width="1.15"/><circle cx="491.6" cy="170.3" r="3.62" fill="rgba(255,165,0,0.3)" stroke="#555" stroke-width="1.15"/><circle cx="496.9" cy="174.0" r="3.62" fill="rgba(0,0,255,0.27)" stroke="#555" stroke-width="1.15"/><circle cx="491.6" cy="177.1" r="3.62" fill="rgba(255,165,0,0.3)" stroke="#555" stroke-width="1.15"/><circle cx="491.6" cy="177.7" r="3.62" fill="rgba(255,165,0,0.3)" stroke="#555" stroke-width="1.15"/><circle cx="498.0" cy="182.4" r="3.62" fill="rgba(255,165,0,0.3)" stroke="#555" stroke-width="1.15"/><circle cx="498.0" cy="183.0" r="3.62" fill="rgba(255,165,0,0.3)" stroke="#555" stroke-width="1.15"/><circle cx="491.6" cy="184.5" r="3.62" fill="rgba(255,165,0,0.3)" stroke="#555" stroke-width="1.15"/><circle cx="502.2" cy="180.3" r="3.62" fill="rgba(255,165,0,0.3)" stroke="#555" stroke-width="1.15"/><circle cx="498.0" cy="186.6" r="3.62" fill="rgba(255,165,0,0.3)" stroke="#555" stroke-width="1.15"/><circle cx="498.0" cy="187.2" r="3.62" fill="rgba(255,165,0,0.3)" stroke="#555" stroke-width="1.15"/><circle cx="501.1" cy="191.9" r="3.62" fill="rgba(255,165,0,0.3)" stroke="#555" stroke-width="1.15"/><circle cx="501.1" cy="192.5" r="3.62" fill="rgba(255,165,0,0.3)" stroke="#555" stroke-width="1.15"/><circle cx="496.9" cy="193.0" r="3.62" fill="rgba(255,165,0,0.3)" stroke="#555" stroke-width="1.15"/><circle cx="496.9" cy="193.6" r="3.62" fill="rgba(255,165,0,0.3)" stroke="#555" stroke-width="1.15"/><circle cx="502.2" cy="196.1" r="3.62" fill="rgba(255,165,0,0.3)" stroke="#555" stroke-width="1.15"/><circle cx="496.9" cy="283.2" r="3.62" fill="rgba(0,0,255,0.27)" stroke="#555" stroke-width="1.15"/><circle cx="506.4" cy="288.0" r="3.62" fill="rgba(0,0,255,0.27)" stroke="#555" stroke-width="1.15"/><circle cx="517.6" cy="286.8" r="3.62" fill="rgba(0,0,255,0.27)" stroke="#555" stroke-width="1.15"/><circle cx="521.2" cy="284.6" r="3.62" fill="rgba(255,165,0,0.3)" stroke="#555" stroke-width="1.15"/><circle cx="521.2" cy="285.1" r="3.62" fill="rgba(0,0,255,0.27)" stroke="#555" stroke-width="1.15"/><circle cx="495.8" cy="296.5" r="3.62" fill="rgba(255,165,0,0.3)" stroke="#555" stroke-width="1.15"/><circle cx="502.2" cy="299.0" r="3.62" fill="rgba(0,0,255,0.27)" stroke="#555" stroke-width="1.15"/><circle cx="517.0" cy="302.8" r="3.62" fill="rgba(255,165,0,0.3)" stroke="#555" stroke-width="1.15"/><circle cx="490.6" cy="303.2" r="3.62" fill="rgba(0,0,255,0.27)" stroke="#555" stroke-width="1.15"/><circle cx="489.5" cy="306.4" r="3.62" fill="rgba(255,165,0,0.3)" stroke="#555" stroke-width="1.15"/><circle cx="489.5" cy="307.0" r="3.62" fill="rgba(255,165,0,0.3)" stroke="#555" stroke-width="1.15"/><circle cx="495.8" cy="309.2" r="3.62" fill="rgba(255,165,0,0.3)" stroke="#555" stroke-width="1.15"/><circle cx="507.0" cy="312.7" r="3.62" fill="rgba(255,165,0,0.3)" stroke="#555" stroke-width="1.15"/><circle cx="506.4" cy="323.3" r="3.62" fill="rgba(255,165,0,0.3)" stroke="#555" stroke-width="1.15"/><circle cx="506.4" cy="323.9" r="3.62" fill="rgba(255,165,0,0.3)" stroke="#555" stroke-width="1.15"/><circle cx="507.5" cy="325.4" r="3.62" fill="rgba(255,165,0,0.3)" stroke="#555" stroke-width="1.15"/><circle cx="507.5" cy="326.0" r="3.62" fill="rgba(255,165,0,0.3)" stroke="#555" stroke-width="1.15"/><circle cx="501.1" cy="326.9" r="3.62" fill="rgba(255,165,0,0.3)" stroke="#555" stroke-width="1.15"/><circle cx="507.5" cy="328.6" r="3.62" fill="rgba(255,165,0,0.3)" stroke="#555" stroke-width="1.15"/><circle cx="506.4" cy="335.4" r="3.62" fill="rgba(255,165,0,0.3)" stroke="#555" stroke-width="1.15"/><circle cx="507.0" cy="348.7" r="3.62" fill="rgba(255,165,0,0.3)" stroke="#555" stroke-width="1.15"/><circle cx="497.4" cy="281.7" r="3.62" fill="rgba(0,0,255,0.27)" stroke="#555" stroke-width="1.15"/><circle cx="495.1" cy="281.1" r="3.62" fill="rgba(255,165,0,0.3)" stroke="#555" stroke-width="1.15"/><circle cx="501.4" cy="254.9" r="3.62" fill="rgba(255,165,0,0.3)" stroke="#555" stroke-width="1.15"/><circle cx="496.2" cy="276.2" r="3.62" fill="rgba(255,165,0,0.3)" stroke="#555" stroke-width="1.15"/><circle cx="501.7" cy="271.5" r="3.62" fill="rgba(255,165,0,0.3)" stroke="#555" stroke-width="1.15"/><circle cx="500.3" cy="265.7" r="3.62" fill="rgba(0,0,255,0.27)" stroke="#555" stroke-width="1.15"/><circle cx="492.3" cy="286.4" r="3.62" fill="rgba(255,165,0,0.3)" stroke="#555" stroke-width="1.15"/><circle cx="498.1" cy="210.2" r="3.62" fill="rgba(255,165,0,0.3)" stroke="#555" stroke-width="1.15"/><circle cx="494.5" cy="210.9" r="3.62" fill="rgba(0,0,255,0.27)" stroke="#555" stroke-width="1.15"/><circle cx="496.1" cy="239.7" r="3.62" fill="rgba(255,165,0,0.3)" stroke="#555" stroke-width="1.15"/><circle cx="496.7" cy="247.6" r="3.62" fill="rgba(255,165,0,0.3)" stroke="#555" stroke-width="1.15"/><circle cx="499.5" cy="251.0" r="3.62" fill="rgba(0,0,255,0.27)" stroke="#555" stroke-width="1.15"/><circle cx="498.9" cy="286.2" r="3.62" fill="rgba(255,165,0,0.3)" stroke="#555" stroke-width="1.15"/><circle cx="495.4" cy="208.3" r="3.62" fill="rgba(255,165,0,0.3)" stroke="#555" stroke-width="1.15"/><circle cx="499.5" cy="247.0" r="3.62" fill="rgba(0,0,255,0.27)" stroke="#555" stroke-width="1.15"/><circle cx="496.5" cy="197.7" r="3.62" fill="rgba(0,0,255,0.27)" stroke="#555" stroke-width="1.15"/><circle cx="498.5" cy="254.8" r="3.62" fill="rgba(255,165,0,0.3)" stroke="#555" stroke-width="1.15"/><circle cx="498.5" cy="285.1" r="3.62" fill="rgba(255,165,0,0.3)" stroke="#555" stroke-width="1.15"/><circle cx="492.9" cy="255.2" r="3.62" fill="rgba(255,165,0,0.3)" stroke="#555" stroke-width="1.15"/><circle cx="501.8" cy="276.9" r="3.62" fill="rgba(255,165,0,0.3)" stroke="#555" stroke-width="1.15"/><circle cx="494.7" cy="223.5" r="3.62" fill="rgba(255,165,0,0.3)" stroke="#555" stroke-width="1.15"/><circle cx="499.7" cy="218.2" r="3.62" fill="rgba(255,165,0,0.3)" stroke="#555" stroke-width="1.15"/><circle cx="497.3" cy="247.6" r="3.62" fill="rgba(0,0,255,0.27)" stroke="#555" stroke-width="1.15"/><circle cx="497.1" cy="243.2" r="3.62" fill="rgba(0,0,255,0.27)" stroke="#555" stroke-width="1.15"/><circle cx="499.0" cy="260.0" r="3.62" fill="rgba(255,165,0,0.3)" stroke="#555" stroke-width="1.15"/><circle cx="493.7" cy="289.3" r="3.62" fill="rgba(255,165,0,0.3)" stroke="#555" stroke-width="1.15"/><circle cx="497.0" cy="199.7" r="3.62" fill="rgba(255,165,0,0.3)" stroke="#555" stroke-width="1.15"/><circle cx="496.8" cy="287.1" r="3.62" fill="rgba(0,0,255,0.27)" stroke="#555" stroke-width="1.15"/><circle cx="496.7" cy="234.5" r="3.62" fill="rgba(255,165,0,0.3)" stroke="#555" stroke-width="1.15"/><circle cx="496.9" cy="251.0" r="3.62" fill="rgba(255,165,0,0.3)" stroke="#555" stroke-width="1.15"/><circle cx="498.7" cy="212.0" r="3.62" fill="rgba(255,165,0,0.3)" stroke="#555" stroke-width="1.15"/><circle cx="497.1" cy="204.7" r="3.62" fill="rgba(255,165,0,0.3)" stroke="#555" stroke-width="1.15"/><circle cx="496.4" cy="244.0" r="3.62" fill="rgba(0,0,255,0.27)" stroke="#555" stroke-width="1.15"/><circle cx="502.3" cy="286.8" r="3.62" fill="rgba(255,165,0,0.3)" stroke="#555" stroke-width="1.15"/><circle cx="496.7" cy="273.9" r="3.62" fill="rgba(255,165,0,0.3)" stroke="#555" stroke-width="1.15"/><circle cx="496.1" cy="205.5" r="3.62" fill="rgba(255,165,0,0.3)" stroke="#555" stroke-width="1.15"/><circle cx="496.8" cy="229.6" r="3.62" fill="rgba(255,165,0,0.3)" stroke="#555" stroke-width="1.15"/><circle cx="498.5" cy="285.6" r="3.62" fill="rgba(255,165,0,0.3)" stroke="#555" stroke-width="1.15"/><circle cx="500.6" cy="257.1" r="3.62" fill="rgba(0,0,255,0.27)" stroke="#555" stroke-width="1.15"/><circle cx="496.9" cy="264.0" r="3.62" fill="rgba(255,165,0,0.3)" stroke="#555" stroke-width="1.15"/><circle cx="493.5" cy="219.2" r="3.62" fill="rgba(0,0,255,0.27)" stroke="#555" stroke-width="1.15"/><circle cx="501.3" cy="210.0" r="3.62" fill="rgba(0,0,255,0.27)" stroke="#555" stroke-width="1.15"/><circle cx="493.0" cy="210.2" r="3.62" fill="rgba(255,165,0,0.3)" stroke="#555" stroke-width="1.15"/><circle cx="494.5" cy="249.6" r="3.62" fill="rgba(255,165,0,0.3)" stroke="#555" stroke-width="1.15"/><circle cx="494.2" cy="196.4" r="3.62" fill="rgba(0,0,255,0.27)" stroke="#555" stroke-width="1.15"/><circle cx="498.7" cy="235.2" r="3.62" fill="rgba(0,0,255,0.27)" stroke="#555" stroke-width="1.15"/><circle cx="497.1" cy="273.3" r="3.62" fill="rgba(0,0,255,0.27)" stroke="#555" stroke-width="1.15"/><circle cx="495.1" cy="203.8" r="3.62" fill="rgba(255,165,0,0.3)" stroke="#555" stroke-width="1.15"/><circle cx="495.2" cy="267.7" r="3.62" fill="rgba(0,0,255,0.27)" stroke="#555" stroke-width="1.15"/><circle cx="498.5" cy="258.7" r="3.62" fill="rgba(255,165,0,0.3)" stroke="#555" stroke-width="1.15"/><circle cx="494.1" cy="282.7" r="3.62" fill="rgba(255,165,0,0.3)" stroke="#555" stroke-width="1.15"/><circle cx="497.9" cy="212.2" r="3.62" fill="rgba(0,0,255,0.27)" stroke="#555" stroke-width="1.15"/><circle cx="499.0" cy="203.4" r="3.62" fill="rgba(255,165,0,0.3)" stroke="#555" stroke-width="1.15"/><circle cx="498.2" cy="235.2" r="3.62" fill="rgba(0,0,255,0.27)" stroke="#555" stroke-width="1.15"/><circle cx="490.9" cy="218.2" r="3.62" fill="rgba(0,0,255,0.27)" stroke="#555" stroke-width="1.15"/><circle cx="496.5" cy="224.0" r="3.62" fill="rgba(0,0,255,0.27)" stroke="#555" stroke-width="1.15"/><circle cx="500.4" cy="235.7" r="3.62" fill="rgba(0,0,255,0.27)" stroke="#555" stroke-width="1.15"/><circle cx="494.8" cy="199.3" r="3.62" fill="rgba(0,0,255,0.27)" stroke="#555" stroke-width="1.15"/><circle cx="499.2" cy="209.9" r="3.62" fill="rgba(255,165,0,0.3)" stroke="#555" stroke-width="1.15"/><circle cx="493.9" cy="200.5" r="3.62" fill="rgba(255,165,0,0.3)" stroke="#555" stroke-width="1.15"/><circle cx="496.4" cy="258.8" r="3.62" fill="rgba(255,165,0,0.3)" stroke="#555" stroke-width="1.15"/><circle cx="498.0" cy="221.7" r="3.62" fill="rgba(0,0,255,0.27)" stroke="#555" stroke-width="1.15"/><circle cx="495.7" cy="245.8" r="3.62" fill="rgba(0,0,255,0.27)" stroke="#555" stroke-width="1.15"/><circle cx="494.6" cy="284.4" r="3.62" fill="rgba(0,0,255,0.27)" stroke="#555" stroke-width="1.15"/><circle cx="497.4" cy="171.7" r="3.62" fill="rgba(0,0,255,0.27)" stroke="#555" stroke-width="1.15"/><circle cx="499.6" cy="250.0" r="3.62" fill="rgba(255,165,0,0.3)" stroke="#555" stroke-width="1.15"/><circle cx="496.0" cy="247.3" r="3.62" fill="rgba(0,0,255,0.27)" stroke="#555" stroke-width="1.15"/><circle cx="498.8" cy="204.1" r="3.62" fill="rgba(255,165,0,0.3)" stroke="#555" stroke-width="1.15"/><circle cx="495.6" cy="151.3" r="3.62" fill="rgba(255,165,0,0.3)" stroke="#555" stroke-width="1.15"/><circle cx="497.6" cy="298.5" r="3.62" fill="rgba(255,165,0,0.3)" stroke="#555" stroke-width="1.15"/><circle cx="499.5" cy="218.2" r="3.62" fill="rgba(0,0,255,0.27)" stroke="#555" stroke-width="1.15"/><circle cx="498.8" cy="247.2" r="3.62" fill="rgba(255,165,0,0.3)" stroke="#555" stroke-width="1.15"/><circle cx="497.8" cy="289.4" r="3.62" fill="rgba(255,165,0,0.3)" stroke="#555" stroke-width="1.15"/><circle cx="495.0" cy="215.8" r="3.62" fill="rgba(0,0,255,0.27)" stroke="#555" stroke-width="1.15"/><circle cx="495.7" cy="249.7" r="3.62" fill="rgba(255,165,0,0.3)" stroke="#555" stroke-width="1.15"/><circle cx="497.1" cy="232.5" r="3.62" fill="rgba(255,165,0,0.3)" stroke="#555" stroke-width="1.15"/><circle cx="501.0" cy="268.1" r="3.62" fill="rgba(0,0,255,0.27)" stroke="#555" stroke-width="1.15"/><circle cx="498.2" cy="191.5" r="3.62" fill="rgba(0,0,255,0.27)" stroke="#555" stroke-width="1.15"/><circle cx="493.4" cy="195.7" r="3.62" fill="rgba(255,165,0,0.3)" stroke="#555" stroke-width="1.15"/><circle cx="494.9" cy="198.7" r="3.62" fill="rgba(255,165,0,0.3)" stroke="#555" stroke-width="1.15"/><circle cx="495.8" cy="210.1" r="3.62" fill="rgba(0,0,255,0.27)" stroke="#555" stroke-width="1.15"/><circle cx="504.1" cy="154.6" r="3.62" fill="rgba(255,165,0,0.3)" stroke="#555" stroke-width="1.15"/><circle cx="520.2" cy="209.0" r="3.62" fill="rgba(255,165,0,0.3)" stroke="#555" stroke-width="1.15"/><circle cx="515.5" cy="259.5" r="3.62" fill="rgba(0,0,255,0.27)" stroke="#555" stroke-width="1.15"/><circle cx="515.5" cy="195.3" r="3.62" fill="rgba(0,0,255,0.27)" stroke="#555" stroke-width="1.15"/><circle cx="520.3" cy="226.8" r="3.62" fill="rgba(255,165,0,0.3)" stroke="#555" stroke-width="1.15"/><circle cx="520.0" cy="276.8" r="3.62" fill="rgba(255,165,0,0.3)" stroke="#555" stroke-width="1.15"/><circle cx="518.0" cy="272.9" r="3.62" fill="rgba(255,165,0,0.3)" stroke="#555" stroke-width="1.15"/><circle cx="521.2" cy="280.3" r="3.62" fill="rgba(255,165,0,0.3)" stroke="#555" stroke-width="1.15"/><circle cx="517.4" cy="212.7" r="3.62" fill="rgba(255,165,0,0.3)" stroke="#555" stroke-width="1.15"/><circle cx="515.9" cy="228.6" r="3.62" fill="rgba(255,165,0,0.3)" stroke="#555" stroke-width="1.15"/><circle cx="518.2" cy="247.9" r="3.62" fill="rgba(0,0,255,0.27)" stroke="#555" stroke-width="1.15"/><circle cx="517.5" cy="240.4" r="3.62" fill="rgba(255,165,0,0.3)" stroke="#555" stroke-width="1.15"/><circle cx="520.7" cy="254.8" r="3.62" fill="rgba(0,0,255,0.27)" stroke="#555" stroke-width="1.15"/><circle cx="516.2" cy="264.3" r="3.62" fill="rgba(255,165,0,0.3)" stroke="#555" stroke-width="1.15"/><circle cx="517.6" cy="265.3" r="3.62" fill="rgba(255,165,0,0.3)" stroke="#555" stroke-width="1.15"/><circle cx="518.0" cy="241.0" r="3.62" fill="rgba(255,165,0,0.3)" stroke="#555" stroke-width="1.15"/><circle cx="523.2" cy="221.1" r="3.62" fill="rgba(255,165,0,0.3)" stroke="#555" stroke-width="1.15"/><circle cx="516.9" cy="238.4" r="3.62" fill="rgba(255,165,0,0.3)" stroke="#555" stroke-width="1.15"/><circle cx="513.9" cy="214.2" r="3.62" fill="rgba(255,165,0,0.3)" stroke="#555" stroke-width="1.15"/><circle cx="516.8" cy="227.4" r="3.62" fill="rgba(255,165,0,0.3)" stroke="#555" stroke-width="1.15"/><circle cx="519.5" cy="261.0" r="3.62" fill="rgba(0,0,255,0.27)" stroke="#555" stroke-width="1.15"/><circle cx="518.4" cy="253.9" r="3.62" fill="rgba(255,165,0,0.3)" stroke="#555" stroke-width="1.15"/><circle cx="522.0" cy="252.2" r="3.62" fill="rgba(255,165,0,0.3)" stroke="#555" stroke-width="1.15"/><circle cx="517.9" cy="227.5" r="3.62" fill="rgba(0,0,255,0.27)" stroke="#555" stroke-width="1.15"/><circle cx="518.8" cy="281.6" r="3.62" fill="rgba(255,165,0,0.3)" stroke="#555" stroke-width="1.15"/><circle cx="515.1" cy="267.4" r="3.62" fill="rgba(0,0,255,0.27)" stroke="#555" stroke-width="1.15"/><circle cx="512.7" cy="225.3" r="3.62" fill="rgba(0,0,255,0.27)" stroke="#555" stroke-width="1.15"/><circle cx="519.1" cy="238.9" r="3.62" fill="rgba(255,165,0,0.3)" stroke="#555" stroke-width="1.15"/><circle cx="514.4" cy="219.3" r="3.62" fill="rgba(255,165,0,0.3)" stroke="#555" stroke-width="1.15"/><circle cx="516.8" cy="271.4" r="3.62" fill="rgba(255,165,0,0.3)" stroke="#555" stroke-width="1.15"/><circle cx="513.3" cy="234.5" r="3.62" fill="rgba(255,165,0,0.3)" stroke="#555" stroke-width="1.15"/><circle cx="515.6" cy="211.5" r="3.62" fill="rgba(0,0,255,0.27)" stroke="#555" stroke-width="1.15"/><circle cx="523.7" cy="220.3" r="3.62" fill="rgba(255,165,0,0.3)" stroke="#555" stroke-width="1.15"/><circle cx="519.2" cy="271.7" r="3.62" fill="rgba(255,165,0,0.3)" stroke="#555" stroke-width="1.15"/><circle cx="516.4" cy="233.5" r="3.62" fill="rgba(0,0,255,0.27)" stroke="#555" stroke-width="1.15"/><circle cx="518.3" cy="205.7" r="3.62" fill="rgba(255,165,0,0.3)" stroke="#555" stroke-width="1.15"/><circle cx="515.8" cy="234.6" r="3.62" fill="rgba(255,165,0,0.3)" stroke="#555" stroke-width="1.15"/><circle cx="516.5" cy="196.8" r="3.62" fill="rgba(255,165,0,0.3)" stroke="#555" stroke-width="1.15"/><circle cx="517.0" cy="229.1" r="3.62" fill="rgba(0,0,255,0.27)" stroke="#555" stroke-width="1.15"/><circle cx="515.3" cy="225.0" r="3.62" fill="rgba(255,165,0,0.3)" stroke="#555" stroke-width="1.15"/><circle cx="520.8" cy="251.2" r="3.62" fill="rgba(0,0,255,0.27)" stroke="#555" stroke-width="1.15"/><circle cx="521.4" cy="250.0" r="3.62" fill="rgba(0,0,255,0.27)" stroke="#555" stroke-width="1.15"/><circle cx="518.4" cy="213.0" r="3.62" fill="rgba(255,165,0,0.3)" stroke="#555" stroke-width="1.15"/><circle cx="519.4" cy="247.7" r="3.62" fill="rgba(255,165,0,0.3)" stroke="#555" stroke-width="1.15"/><circle cx="517.1" cy="224.0" r="3.62" fill="rgba(0,0,255,0.27)" stroke="#555" stroke-width="1.15"/><circle cx="516.5" cy="249.2" r="3.62" fill="rgba(255,165,0,0.3)" stroke="#555" stroke-width="1.15"/><circle cx="521.8" cy="167.1" r="3.62" fill="rgba(0,0,255,0.27)" stroke="#555" stroke-width="1.15"/><circle cx="518.1" cy="200.8" r="3.62" fill="rgba(255,165,0,0.3)" stroke="#555" stroke-width="1.15"/><circle cx="521.1" cy="166.2" r="3.62" fill="rgba(255,165,0,0.3)" stroke="#555" stroke-width="1.15"/><circle cx="519.3" cy="184.1" r="3.62" fill="rgba(255,165,0,0.3)" stroke="#555" stroke-width="1.15"/><circle cx="523.3" cy="202.8" r="3.62" fill="rgba(0,0,255,0.27)" stroke="#555" stroke-width="1.15"/><circle cx="520.2" cy="187.7" r="3.62" fill="rgba(255,165,0,0.3)" stroke="#555" stroke-width="1.15"/><circle cx="515.2" cy="217.1" r="3.62" fill="rgba(255,165,0,0.3)" stroke="#555" stroke-width="1.15"/><circle cx="521.0" cy="181.9" r="3.62" fill="rgba(255,165,0,0.3)" stroke="#555" stroke-width="1.15"/><circle cx="519.7" cy="258.9" r="3.62" fill="rgba(255,165,0,0.3)" stroke="#555" stroke-width="1.15"/><circle cx="516.9" cy="262.0" r="3.62" fill="rgba(0,0,255,0.27)" stroke="#555" stroke-width="1.15"/><circle cx="518.3" cy="186.4" r="3.62" fill="rgba(255,165,0,0.3)" stroke="#555" stroke-width="1.15"/><circle cx="512.6" cy="162.7" r="3.62" fill="rgba(0,0,255,0.27)" stroke="#555" stroke-width="1.15"/><circle cx="508.3" cy="221.3" r="3.62" fill="rgba(0,0,255,0.27)" stroke="#555" stroke-width="1.15"/><circle cx="506.7" cy="236.9" r="3.62" fill="rgba(255,165,0,0.3)" stroke="#555" stroke-width="1.15"/><circle cx="506.5" cy="250.8" r="3.62" fill="rgba(0,0,255,0.27)" stroke="#555" stroke-width="1.15"/><circle cx="505.3" cy="298.2" r="3.62" fill="rgba(0,0,255,0.27)" stroke="#555" stroke-width="1.15"/><circle cx="503.7" cy="251.1" r="3.62" fill="rgba(255,165,0,0.3)" stroke="#555" stroke-width="1.15"/><circle cx="503.2" cy="221.0" r="3.62" fill="rgba(255,165,0,0.3)" stroke="#555" stroke-width="1.15"/><circle cx="508.9" cy="235.8" r="3.62" fill="rgba(0,0,255,0.27)" stroke="#555" stroke-width="1.15"/><circle cx="504.1" cy="228.4" r="3.62" fill="rgba(0,0,255,0.27)" stroke="#555" stroke-width="1.15"/><circle cx="504.3" cy="295.5" r="3.62" fill="rgba(0,0,255,0.27)" stroke="#555" stroke-width="1.15"/><circle cx="508.2" cy="253.2" r="3.62" fill="rgba(0,0,255,0.27)" stroke="#555" stroke-width="1.15"/><circle cx="507.9" cy="232.8" r="3.62" fill="rgba(255,165,0,0.3)" stroke="#555" stroke-width="1.15"/><circle cx="504.9" cy="295.7" r="3.62" fill="rgba(0,0,255,0.27)" stroke="#555" stroke-width="1.15"/><circle cx="507.8" cy="240.2" r="3.62" fill="rgba(0,0,255,0.27)" stroke="#555" stroke-width="1.15"/><circle cx="504.5" cy="244.6" r="3.62" fill="rgba(255,165,0,0.3)" stroke="#555" stroke-width="1.15"/><circle cx="577.7" cy="211.5" r="3.62" fill="rgba(255,165,0,0.3)" stroke="#555" stroke-width="1.15"/><circle cx="577.2" cy="238.1" r="3.62" fill="rgba(255,165,0,0.3)" stroke="#555" stroke-width="1.15"/><circle cx="579.5" cy="173.4" r="3.62" fill="rgba(255,165,0,0.3)" stroke="#555" stroke-width="1.15"/><circle cx="580.5" cy="294.4" r="3.62" fill="rgba(255,165,0,0.3)" stroke="#555" stroke-width="1.15"/><circle cx="578.6" cy="256.3" r="3.62" fill="rgba(255,165,0,0.3)" stroke="#555" stroke-width="1.15"/><circle cx="579.7" cy="297.7" r="3.62" fill="rgba(255,165,0,0.3)" stroke="#555" stroke-width="1.15"/><circle cx="580.3" cy="288.5" r="3.62" fill="rgba(255,165,0,0.3)" stroke="#555" stroke-width="1.15"/><circle cx="578.5" cy="263.3" r="3.62" fill="rgba(255,165,0,0.3)" stroke="#555" stroke-width="1.15"/><circle cx="578.6" cy="271.0" r="3.62" fill="rgba(0,0,255,0.27)" stroke="#555" stroke-width="1.15"/><circle cx="577.6" cy="193.2" r="3.62" fill="rgba(255,165,0,0.3)" stroke="#555" stroke-width="1.15"/><circle cx="579.1" cy="294.9" r="3.62" fill="rgba(255,165,0,0.3)" stroke="#555" stroke-width="1.15"/><circle cx="577.7" cy="274.9" r="3.62" fill="rgba(255,165,0,0.3)" stroke="#555" stroke-width="1.15"/><circle cx="577.8" cy="250.8" r="3.62" fill="rgba(255,165,0,0.3)" stroke="#555" stroke-width="1.15"/><circle cx="577.5" cy="236.1" r="3.62" fill="rgba(255,165,0,0.3)" stroke="#555" stroke-width="1.15"/><circle cx="578.3" cy="349.4" r="3.62" fill="rgba(255,165,0,0.3)" stroke="#555" stroke-width="1.15"/><circle cx="578.7" cy="282.4" r="3.62" fill="rgba(255,165,0,0.3)" stroke="#555" stroke-width="1.15"/><circle cx="578.6" cy="342.6" r="3.62" fill="rgba(255,165,0,0.3)" stroke="#555" stroke-width="1.15"/><circle cx="578.9" cy="326.2" r="3.62" fill="rgba(255,165,0,0.3)" stroke="#555" stroke-width="1.15"/><circle cx="578.2" cy="322.8" r="3.62" fill="rgba(255,165,0,0.3)" stroke="#555" stroke-width="1.15"/><circle cx="581.1" cy="250.3" r="3.62" fill="rgba(255,165,0,0.3)" stroke="#555" stroke-width="1.15"/><circle cx="579.2" cy="296.7" r="3.62" fill="rgba(255,165,0,0.3)" stroke="#555" stroke-width="1.15"/><circle cx="579.4" cy="336.0" r="3.62" fill="rgba(255,165,0,0.3)" stroke="#555" stroke-width="1.15"/><circle cx="578.5" cy="172.9" r="3.62" fill="rgba(255,165,0,0.3)" stroke="#555" stroke-width="1.15"/><circle cx="579.4" cy="284.7" r="3.62" fill="rgba(255,165,0,0.3)" stroke="#555" stroke-width="1.15"/><circle cx="579.2" cy="197.9" r="3.62" fill="rgba(255,165,0,0.3)" stroke="#555" stroke-width="1.15"/><circle cx="578.6" cy="337.3" r="3.62" fill="rgba(255,165,0,0.3)" stroke="#555" stroke-width="1.15"/><circle cx="581.2" cy="353.1" r="3.62" fill="rgba(255,165,0,0.3)" stroke="#555" stroke-width="1.15"/><circle cx="579.2" cy="341.3" r="3.62" fill="rgba(255,165,0,0.3)" stroke="#555" stroke-width="1.15"/><circle cx="578.2" cy="304.9" r="3.62" fill="rgba(255,165,0,0.3)" stroke="#555" stroke-width="1.15"/><circle cx="580.9" cy="271.3" r="3.62" fill="rgba(255,165,0,0.3)" stroke="#555" stroke-width="1.15"/><circle cx="580.2" cy="329.2" r="3.62" fill="rgba(255,165,0,0.3)" stroke="#555" stroke-width="1.15"/><circle cx="578.7" cy="315.0" r="3.62" fill="rgba(255,165,0,0.3)" stroke="#555" stroke-width="1.15"/><circle cx="577.9" cy="204.8" r="3.62" fill="rgba(255,165,0,0.3)" stroke="#555" stroke-width="1.15"/><circle cx="578.7" cy="323.4" r="3.62" fill="rgba(255,165,0,0.3)" stroke="#555" stroke-width="1.15"/><circle cx="580.6" cy="298.0" r="3.62" fill="rgba(255,165,0,0.3)" stroke="#555" stroke-width="1.15"/><circle cx="579.1" cy="346.4" r="3.62" fill="rgba(255,165,0,0.3)" stroke="#555" stroke-width="1.15"/><circle cx="579.7" cy="263.3" r="3.62" fill="rgba(255,165,0,0.3)" stroke="#555" stroke-width="1.15"/><circle cx="580.7" cy="307.3" r="3.62" fill="rgba(255,165,0,0.3)" stroke="#555" stroke-width="1.15"/><circle cx="579.3" cy="234.7" r="3.62" fill="rgba(255,165,0,0.3)" stroke="#555" stroke-width="1.15"/><circle cx="578.1" cy="291.0" r="3.62" fill="rgba(255,165,0,0.3)" stroke="#555" stroke-width="1.15"/><circle cx="580.3" cy="266.1" r="3.62" fill="rgba(255,165,0,0.3)" stroke="#555" stroke-width="1.15"/><circle cx="580.0" cy="262.8" r="3.62" fill="rgba(255,165,0,0.3)" stroke="#555" stroke-width="1.15"/><circle cx="578.4" cy="205.0" r="3.62" fill="rgba(255,165,0,0.3)" stroke="#555" stroke-width="1.15"/><circle cx="577.9" cy="185.6" r="3.62" fill="rgba(255,165,0,0.3)" stroke="#555" stroke-width="1.15"/><circle cx="580.5" cy="286.9" r="3.62" fill="rgba(255,165,0,0.3)" stroke="#555" stroke-width="1.15"/><circle cx="578.1" cy="208.7" r="3.62" fill="rgba(255,165,0,0.3)" stroke="#555" stroke-width="1.15"/><circle cx="579.9" cy="168.4" r="3.62" fill="rgba(255,165,0,0.3)" stroke="#555" stroke-width="1.15"/><circle cx="579.0" cy="271.3" r="3.62" fill="rgba(255,165,0,0.3)" stroke="#555" stroke-width="1.15"/><circle cx="580.9" cy="285.1" r="3.62" fill="rgba(255,165,0,0.3)" stroke="#555" stroke-width="1.15"/><circle cx="579.1" cy="329.3" r="3.62" fill="rgba(255,165,0,0.3)" stroke="#555" stroke-width="1.15"/><circle cx="578.2" cy="294.8" r="3.62" fill="rgba(255,165,0,0.3)" stroke="#555" stroke-width="1.15"/><circle cx="577.6" cy="346.2" r="3.62" fill="rgba(255,165,0,0.3)" stroke="#555" stroke-width="1.15"/><circle cx="579.6" cy="186.8" r="3.62" fill="rgba(255,165,0,0.3)" stroke="#555" stroke-width="1.15"/><circle cx="578.4" cy="209.4" r="3.62" fill="rgba(255,165,0,0.3)" stroke="#555" stroke-width="1.15"/><circle cx="579.0" cy="240.6" r="3.62" fill="rgba(0,0,255,0.27)" stroke="#555" stroke-width="1.15"/><circle cx="579.5" cy="203.5" r="3.62" fill="rgba(255,165,0,0.3)" stroke="#555" stroke-width="1.15"/><circle cx="580.2" cy="268.6" r="3.62" fill="rgba(255,165,0,0.3)" stroke="#555" stroke-width="1.15"/><circle cx="577.1" cy="171.1" r="3.62" fill="rgba(255,165,0,0.3)" stroke="#555" stroke-width="1.15"/><circle cx="579.0" cy="205.3" r="3.62" fill="rgba(0,0,255,0.27)" stroke="#555" stroke-width="1.15"/><circle cx="579.1" cy="268.6" r="3.62" fill="rgba(255,165,0,0.3)" stroke="#555" stroke-width="1.15"/><circle cx="577.7" cy="314.1" r="3.62" fill="rgba(255,165,0,0.3)" stroke="#555" stroke-width="1.15"/><circle cx="578.9" cy="275.1" r="3.62" fill="rgba(255,165,0,0.3)" stroke="#555" stroke-width="1.15"/><circle cx="578.3" cy="237.5" r="3.62" fill="rgba(255,165,0,0.3)" stroke="#555" stroke-width="1.15"/><circle cx="580.3" cy="297.3" r="3.62" fill="rgba(255,165,0,0.3)" stroke="#555" stroke-width="1.15"/><circle cx="579.6" cy="271.0" r="3.62" fill="rgba(255,165,0,0.3)" stroke="#555" stroke-width="1.15"/><circle cx="580.5" cy="330.8" r="3.62" fill="rgba(255,165,0,0.3)" stroke="#555" stroke-width="1.15"/><circle cx="580.1" cy="214.5" r="3.62" fill="rgba(0,0,255,0.27)" stroke="#555" stroke-width="1.15"/><circle cx="579.0" cy="259.5" r="3.62" fill="rgba(255,165,0,0.3)" stroke="#555" stroke-width="1.15"/><circle cx="579.4" cy="224.1" r="3.62" fill="rgba(255,165,0,0.3)" stroke="#555" stroke-width="1.15"/><circle cx="577.8" cy="303.1" r="3.62" fill="rgba(255,165,0,0.3)" stroke="#555" stroke-width="1.15"/><circle cx="580.3" cy="209.8" r="3.62" fill="rgba(0,0,255,0.27)" stroke="#555" stroke-width="1.15"/><circle cx="578.8" cy="298.4" r="3.62" fill="rgba(255,165,0,0.3)" stroke="#555" stroke-width="1.15"/><circle cx="579.4" cy="354.2" r="3.62" fill="rgba(255,165,0,0.3)" stroke="#555" stroke-width="1.15"/><circle cx="580.6" cy="245.0" r="3.62" fill="rgba(255,165,0,0.3)" stroke="#555" stroke-width="1.15"/><circle cx="579.4" cy="241.4" r="3.62" fill="rgba(255,165,0,0.3)" stroke="#555" stroke-width="1.15"/><circle cx="581.2" cy="263.8" r="3.62" fill="rgba(255,165,0,0.3)" stroke="#555" stroke-width="1.15"/><circle cx="580.1" cy="249.7" r="3.62" fill="rgba(255,165,0,0.3)" stroke="#555" stroke-width="1.15"/><circle cx="579.6" cy="201.3" r="3.62" fill="rgba(255,165,0,0.3)" stroke="#555" stroke-width="1.15"/><circle cx="578.0" cy="334.7" r="3.62" fill="rgba(255,165,0,0.3)" stroke="#555" stroke-width="1.15"/><circle cx="578.3" cy="254.3" r="3.62" fill="rgba(255,165,0,0.3)" stroke="#555" stroke-width="1.15"/><circle cx="577.9" cy="213.8" r="3.62" fill="rgba(255,165,0,0.3)" stroke="#555" stroke-width="1.15"/><circle cx="579.3" cy="237.0" r="3.62" fill="rgba(255,165,0,0.3)" stroke="#555" stroke-width="1.15"/><circle cx="578.7" cy="350.9" r="3.62" fill="rgba(0,0,255,0.27)" stroke="#555" stroke-width="1.15"/><circle cx="578.0" cy="325.7" r="3.62" fill="rgba(255,165,0,0.3)" stroke="#555" stroke-width="1.15"/><circle cx="578.0" cy="192.5" r="3.62" fill="rgba(255,165,0,0.3)" stroke="#555" stroke-width="1.15"/><circle cx="578.6" cy="206.3" r="3.62" fill="rgba(255,165,0,0.3)" stroke="#555" stroke-width="1.15"/><circle cx="577.4" cy="290.8" r="3.62" fill="rgba(255,165,0,0.3)" stroke="#555" stroke-width="1.15"/><circle cx="580.1" cy="228.8" r="3.62" fill="rgba(255,165,0,0.3)" stroke="#555" stroke-width="1.15"/><circle cx="579.1" cy="231.0" r="3.62" fill="rgba(0,0,255,0.27)" stroke="#555" stroke-width="1.15"/><circle cx="578.6" cy="315.9" r="3.62" fill="rgba(255,165,0,0.3)" stroke="#555" stroke-width="1.15"/><circle cx="578.3" cy="270.1" r="3.62" fill="rgba(255,165,0,0.3)" stroke="#555" stroke-width="1.15"/><circle cx="580.2" cy="180.7" r="3.62" fill="rgba(255,165,0,0.3)" stroke="#555" stroke-width="1.15"/><circle cx="580.1" cy="172.7" r="3.62" fill="rgba(255,165,0,0.3)" stroke="#555" stroke-width="1.15"/><circle cx="578.6" cy="241.9" r="3.62" fill="rgba(255,165,0,0.3)" stroke="#555" stroke-width="1.15"/><circle cx="579.5" cy="245.6" r="3.62" fill="rgba(0,0,255,0.27)" stroke="#555" stroke-width="1.15"/><circle cx="578.2" cy="348.9" r="3.62" fill="rgba(255,165,0,0.3)" stroke="#555" stroke-width="1.15"/><circle cx="578.9" cy="249.4" r="3.62" fill="rgba(255,165,0,0.3)" stroke="#555" stroke-width="1.15"/><circle cx="579.9" cy="288.8" r="3.62" fill="rgba(255,165,0,0.3)" stroke="#555" stroke-width="1.15"/><circle cx="578.8" cy="241.5" r="3.62" fill="rgba(255,165,0,0.3)" stroke="#555" stroke-width="1.15"/><circle cx="578.9" cy="175.9" r="3.62" fill="rgba(255,165,0,0.3)" stroke="#555" stroke-width="1.15"/><circle cx="579.5" cy="331.4" r="3.62" fill="rgba(255,165,0,0.3)" stroke="#555" stroke-width="1.15"/><circle cx="577.4" cy="219.6" r="3.62" fill="rgba(255,165,0,0.3)" stroke="#555" stroke-width="1.15"/><circle cx="579.6" cy="265.1" r="3.62" fill="rgba(255,165,0,0.3)" stroke="#555" stroke-width="1.15"/><circle cx="581.0" cy="212.5" r="3.62" fill="rgba(255,165,0,0.3)" stroke="#555" stroke-width="1.15"/><circle cx="578.2" cy="245.8" r="3.62" fill="rgba(0,0,255,0.27)" stroke="#555" stroke-width="1.15"/><circle cx="576.9" cy="224.6" r="3.62" fill="rgba(255,165,0,0.3)" stroke="#555" stroke-width="1.15"/><circle cx="579.8" cy="300.8" r="3.62" fill="rgba(255,165,0,0.3)" stroke="#555" stroke-width="1.15"/><circle cx="579.4" cy="224.4" r="3.62" fill="rgba(255,165,0,0.3)" stroke="#555" stroke-width="1.15"/><circle cx="578.8" cy="171.6" r="3.62" fill="rgba(255,165,0,0.3)" stroke="#555" stroke-width="1.15"/><circle cx="579.8" cy="171.0" r="3.62" fill="rgba(255,165,0,0.3)" stroke="#555" stroke-width="1.15"/><circle cx="591.6" cy="171.9" r="3.62" fill="rgba(0,0,255,0.27)" stroke="#555" stroke-width="1.15"/><circle cx="591.4" cy="234.2" r="3.62" fill="rgba(0,0,255,0.27)" stroke="#555" stroke-width="1.15"/><circle cx="591.3" cy="298.3" r="3.62" fill="rgba(255,165,0,0.3)" stroke="#555" stroke-width="1.15"/><circle cx="591.0" cy="302.2" r="3.62" fill="rgba(255,165,0,0.3)" stroke="#555" stroke-width="1.15"/><circle cx="591.6" cy="281.6" r="3.62" fill="rgba(255,165,0,0.3)" stroke="#555" stroke-width="1.15"/><circle cx="591.8" cy="251.1" r="3.62" fill="rgba(255,165,0,0.3)" stroke="#555" stroke-width="1.15"/><circle cx="590.7" cy="146.2" r="3.62" fill="rgba(0,0,255,0.27)" stroke="#555" stroke-width="1.15"/><circle cx="590.6" cy="277.1" r="3.62" fill="rgba(255,165,0,0.3)" stroke="#555" stroke-width="1.15"/><circle cx="590.0" cy="229.8" r="3.62" fill="rgba(255,165,0,0.3)" stroke="#555" stroke-width="1.15"/><circle cx="590.4" cy="248.6" r="3.62" fill="rgba(255,165,0,0.3)" stroke="#555" stroke-width="1.15"/><circle cx="591.3" cy="183.0" r="3.62" fill="rgba(255,165,0,0.3)" stroke="#555" stroke-width="1.15"/><circle cx="592.2" cy="229.6" r="3.62" fill="rgba(255,165,0,0.3)" stroke="#555" stroke-width="1.15"/><circle cx="591.7" cy="149.3" r="3.62" fill="rgba(255,165,0,0.3)" stroke="#555" stroke-width="1.15"/><circle cx="589.7" cy="203.9" r="3.62" fill="rgba(255,165,0,0.3)" stroke="#555" stroke-width="1.15"/><circle cx="591.0" cy="313.3" r="3.62" fill="rgba(255,165,0,0.3)" stroke="#555" stroke-width="1.15"/><circle cx="592.7" cy="333.9" r="3.62" fill="rgba(255,165,0,0.3)" stroke="#555" stroke-width="1.15"/><circle cx="590.8" cy="179.3" r="3.62" fill="rgba(255,165,0,0.3)" stroke="#555" stroke-width="1.15"/><circle cx="590.6" cy="335.5" r="3.62" fill="rgba(255,165,0,0.3)" stroke="#555" stroke-width="1.15"/><circle cx="590.7" cy="295.8" r="3.62" fill="rgba(255,165,0,0.3)" stroke="#555" stroke-width="1.15"/><circle cx="592.4" cy="162.0" r="3.62" fill="rgba(255,165,0,0.3)" stroke="#555" stroke-width="1.15"/><circle cx="591.8" cy="255.0" r="3.62" fill="rgba(255,165,0,0.3)" stroke="#555" stroke-width="1.15"/><circle cx="589.8" cy="145.3" r="3.62" fill="rgba(255,165,0,0.3)" stroke="#555" stroke-width="1.15"/><circle cx="591.3" cy="147.0" r="3.62" fill="rgba(255,165,0,0.3)" stroke="#555" stroke-width="1.15"/><circle cx="590.3" cy="134.1" r="3.62" fill="rgba(255,165,0,0.3)" stroke="#555" stroke-width="1.15"/><circle cx="590.0" cy="327.6" r="3.62" fill="rgba(255,165,0,0.3)" stroke="#555" stroke-width="1.15"/><circle cx="590.3" cy="271.9" r="3.62" fill="rgba(255,165,0,0.3)" stroke="#555" stroke-width="1.15"/><circle cx="591.4" cy="262.2" r="3.62" fill="rgba(255,165,0,0.3)" stroke="#555" stroke-width="1.15"/><circle cx="590.1" cy="164.7" r="3.62" fill="rgba(255,165,0,0.3)" stroke="#555" stroke-width="1.15"/><circle cx="590.6" cy="328.6" r="3.62" fill="rgba(255,165,0,0.3)" stroke="#555" stroke-width="1.15"/><circle cx="591.9" cy="302.1" r="3.62" fill="rgba(255,165,0,0.3)" stroke="#555" stroke-width="1.15"/><circle cx="591.0" cy="281.7" r="3.62" fill="rgba(255,165,0,0.3)" stroke="#555" stroke-width="1.15"/><circle cx="592.4" cy="310.5" r="3.62" fill="rgba(255,165,0,0.3)" stroke="#555" stroke-width="1.15"/><circle cx="590.4" cy="291.1" r="3.62" fill="rgba(255,165,0,0.3)" stroke="#555" stroke-width="1.15"/><circle cx="590.7" cy="293.6" r="3.62" fill="rgba(255,165,0,0.3)" stroke="#555" stroke-width="1.15"/><circle cx="591.7" cy="303.2" r="3.62" fill="rgba(255,165,0,0.3)" stroke="#555" stroke-width="1.15"/><circle cx="591.2" cy="244.8" r="3.62" fill="rgba(255,165,0,0.3)" stroke="#555" stroke-width="1.15"/><circle cx="591.4" cy="196.0" r="3.62" fill="rgba(0,0,255,0.27)" stroke="#555" stroke-width="1.15"/><circle cx="591.7" cy="172.2" r="3.62" fill="rgba(255,165,0,0.3)" stroke="#555" stroke-width="1.15"/><circle cx="592.1" cy="194.4" r="3.62" fill="rgba(255,165,0,0.3)" stroke="#555" stroke-width="1.15"/><circle cx="590.8" cy="208.3" r="3.62" fill="rgba(0,0,255,0.27)" stroke="#555" stroke-width="1.15"/><circle cx="591.6" cy="216.9" r="3.62" fill="rgba(255,165,0,0.3)" stroke="#555" stroke-width="1.15"/><circle cx="592.6" cy="204.2" r="3.62" fill="rgba(0,0,255,0.27)" stroke="#555" stroke-width="1.15"/><circle cx="591.1" cy="327.6" r="3.62" fill="rgba(255,165,0,0.3)" stroke="#555" stroke-width="1.15"/><circle cx="591.0" cy="146.0" r="3.62" fill="rgba(255,165,0,0.3)" stroke="#555" stroke-width="1.15"/><circle cx="591.2" cy="247.8" r="3.62" fill="rgba(255,165,0,0.3)" stroke="#555" stroke-width="1.15"/><circle cx="591.0" cy="329.7" r="3.62" fill="rgba(255,165,0,0.3)" stroke="#555" stroke-width="1.15"/><circle cx="591.7" cy="333.8" r="3.62" fill="rgba(255,165,0,0.3)" stroke="#555" stroke-width="1.15"/><circle cx="592.1" cy="129.4" r="3.62" fill="rgba(255,165,0,0.3)" stroke="#555" stroke-width="1.15"/><circle cx="592.1" cy="295.8" r="3.62" fill="rgba(255,165,0,0.3)" stroke="#555" stroke-width="1.15"/><circle cx="589.6" cy="157.6" r="3.62" fill="rgba(255,165,0,0.3)" stroke="#555" stroke-width="1.15"/><circle cx="590.5" cy="181.1" r="3.62" fill="rgba(255,165,0,0.3)" stroke="#555" stroke-width="1.15"/><circle cx="591.5" cy="245.9" r="3.62" fill="rgba(255,165,0,0.3)" stroke="#555" stroke-width="1.15"/><circle cx="592.2" cy="257.6" r="3.62" fill="rgba(255,165,0,0.3)" stroke="#555" stroke-width="1.15"/><circle cx="592.3" cy="244.6" r="3.62" fill="rgba(255,165,0,0.3)" stroke="#555" stroke-width="1.15"/><circle cx="590.3" cy="320.8" r="3.62" fill="rgba(255,165,0,0.3)" stroke="#555" stroke-width="1.15"/><circle cx="591.6" cy="274.0" r="3.62" fill="rgba(255,165,0,0.3)" stroke="#555" stroke-width="1.15"/><circle cx="591.4" cy="261.2" r="3.62" fill="rgba(255,165,0,0.3)" stroke="#555" stroke-width="1.15"/><circle cx="592.3" cy="219.0" r="3.62" fill="rgba(255,165,0,0.3)" stroke="#555" stroke-width="1.15"/><circle cx="590.5" cy="285.3" r="3.62" fill="rgba(255,165,0,0.3)" stroke="#555" stroke-width="1.15"/><circle cx="591.9" cy="295.7" r="3.62" fill="rgba(255,165,0,0.3)" stroke="#555" stroke-width="1.15"/><circle cx="591.7" cy="269.3" r="3.62" fill="rgba(255,165,0,0.3)" stroke="#555" stroke-width="1.15"/><circle cx="591.3" cy="229.0" r="3.62" fill="rgba(255,165,0,0.3)" stroke="#555" stroke-width="1.15"/><circle cx="591.3" cy="325.3" r="3.62" fill="rgba(255,165,0,0.3)" stroke="#555" stroke-width="1.15"/><circle cx="589.7" cy="258.3" r="3.62" fill="rgba(255,165,0,0.3)" stroke="#555" stroke-width="1.15"/><circle cx="591.5" cy="330.0" r="3.62" fill="rgba(255,165,0,0.3)" stroke="#555" stroke-width="1.15"/><circle cx="591.8" cy="128.8" r="3.62" fill="rgba(255,165,0,0.3)" stroke="#555" stroke-width="1.15"/><circle cx="591.4" cy="211.9" r="3.62" fill="rgba(255,165,0,0.3)" stroke="#555" stroke-width="1.15"/><circle cx="589.7" cy="289.5" r="3.62" fill="rgba(255,165,0,0.3)" stroke="#555" stroke-width="1.15"/><circle cx="591.8" cy="175.2" r="3.62" fill="rgba(255,165,0,0.3)" stroke="#555" stroke-width="1.15"/><circle cx="590.2" cy="261.2" r="3.62" fill="rgba(255,165,0,0.3)" stroke="#555" stroke-width="1.15"/><circle cx="591.0" cy="193.2" r="3.62" fill="rgba(255,165,0,0.3)" stroke="#555" stroke-width="1.15"/><circle cx="591.5" cy="195.8" r="3.62" fill="rgba(0,0,255,0.27)" stroke="#555" stroke-width="1.15"/><circle cx="591.0" cy="144.8" r="3.62" fill="rgba(0,0,255,0.27)" stroke="#555" stroke-width="1.15"/><circle cx="589.7" cy="272.2" r="3.62" fill="rgba(255,165,0,0.3)" stroke="#555" stroke-width="1.15"/><circle cx="591.7" cy="301.6" r="3.62" fill="rgba(255,165,0,0.3)" stroke="#555" stroke-width="1.15"/><circle cx="590.9" cy="205.9" r="3.62" fill="rgba(255,165,0,0.3)" stroke="#555" stroke-width="1.15"/><circle cx="590.9" cy="256.0" r="3.62" fill="rgba(0,0,255,0.27)" stroke="#555" stroke-width="1.15"/><circle cx="590.3" cy="228.8" r="3.62" fill="rgba(255,165,0,0.3)" stroke="#555" stroke-width="1.15"/><circle cx="590.8" cy="146.6" r="3.62" fill="rgba(255,165,0,0.3)" stroke="#555" stroke-width="1.15"/><circle cx="591.3" cy="149.4" r="3.62" fill="rgba(255,165,0,0.3)" stroke="#555" stroke-width="1.15"/><circle cx="590.0" cy="308.8" r="3.62" fill="rgba(255,165,0,0.3)" stroke="#555" stroke-width="1.15"/><circle cx="591.0" cy="310.4" r="3.62" fill="rgba(255,165,0,0.3)" stroke="#555" stroke-width="1.15"/><circle cx="590.8" cy="183.4" r="3.62" fill="rgba(255,165,0,0.3)" stroke="#555" stroke-width="1.15"/><circle cx="591.8" cy="177.2" r="3.62" fill="rgba(255,165,0,0.3)" stroke="#555" stroke-width="1.15"/><circle cx="589.5" cy="204.9" r="3.62" fill="rgba(255,165,0,0.3)" stroke="#555" stroke-width="1.15"/><circle cx="591.1" cy="195.0" r="3.62" fill="rgba(255,165,0,0.3)" stroke="#555" stroke-width="1.15"/><circle cx="589.9" cy="320.9" r="3.62" fill="rgba(255,165,0,0.3)" stroke="#555" stroke-width="1.15"/><circle cx="591.9" cy="334.4" r="3.62" fill="rgba(0,0,255,0.27)" stroke="#555" stroke-width="1.15"/><circle cx="590.5" cy="222.1" r="3.62" fill="rgba(255,165,0,0.3)" stroke="#555" stroke-width="1.15"/><circle cx="590.7" cy="256.5" r="3.62" fill="rgba(255,165,0,0.3)" stroke="#555" stroke-width="1.15"/><circle cx="588.9" cy="258.8" r="3.62" fill="rgba(255,165,0,0.3)" stroke="#555" stroke-width="1.15"/><circle cx="590.5" cy="127.9" r="3.62" fill="rgba(255,165,0,0.3)" stroke="#555" stroke-width="1.15"/><circle cx="589.1" cy="309.9" r="3.62" fill="rgba(255,165,0,0.3)" stroke="#555" stroke-width="1.15"/><circle cx="591.1" cy="261.8" r="3.62" fill="rgba(255,165,0,0.3)" stroke="#555" stroke-width="1.15"/><circle cx="590.8" cy="175.2" r="3.62" fill="rgba(255,165,0,0.3)" stroke="#555" stroke-width="1.15"/><circle cx="591.2" cy="236.6" r="3.62" fill="rgba(255,165,0,0.3)" stroke="#555" stroke-width="1.15"/><circle cx="592.2" cy="193.7" r="3.62" fill="rgba(255,165,0,0.3)" stroke="#555" stroke-width="1.15"/><circle cx="592.3" cy="325.8" r="3.62" fill="rgba(255,165,0,0.3)" stroke="#555" stroke-width="1.15"/><circle cx="590.6" cy="233.9" r="3.62" fill="rgba(255,165,0,0.3)" stroke="#555" stroke-width="1.15"/><circle cx="590.2" cy="161.9" r="3.62" fill="rgba(255,165,0,0.3)" stroke="#555" stroke-width="1.15"/><circle cx="592.2" cy="288.3" r="3.62" fill="rgba(255,165,0,0.3)" stroke="#555" stroke-width="1.15"/><circle cx="591.6" cy="229.0" r="3.62" fill="rgba(255,165,0,0.3)" stroke="#555" stroke-width="1.15"/><circle cx="591.1" cy="159.4" r="3.62" fill="rgba(255,165,0,0.3)" stroke="#555" stroke-width="1.15"/><circle cx="590.2" cy="320.8" r="3.62" fill="rgba(255,165,0,0.3)" stroke="#555" stroke-width="1.15"/><circle cx="591.6" cy="194.5" r="3.62" fill="rgba(255,165,0,0.3)" stroke="#555" stroke-width="1.15"/><circle cx="591.5" cy="272.9" r="3.62" fill="rgba(255,165,0,0.3)" stroke="#555" stroke-width="1.15"/><circle cx="591.5" cy="150.7" r="3.62" fill="rgba(255,165,0,0.3)" stroke="#555" stroke-width="1.15"/><circle cx="590.6" cy="298.1" r="3.62" fill="rgba(255,165,0,0.3)" stroke="#555" stroke-width="1.15"/><circle cx="591.0" cy="170.7" r="3.62" fill="rgba(255,165,0,0.3)" stroke="#555" stroke-width="1.15"/><circle cx="591.2" cy="125.2" r="3.62" fill="rgba(255,165,0,0.3)" stroke="#555" stroke-width="1.15"/><circle cx="590.5" cy="299.3" r="3.62" fill="rgba(255,165,0,0.3)" stroke="#555" stroke-width="1.15"/><circle cx="591.1" cy="258.7" r="3.62" fill="rgba(255,165,0,0.3)" stroke="#555" stroke-width="1.15"/><circle cx="589.6" cy="332.8" r="3.62" fill="rgba(255,165,0,0.3)" stroke="#555" stroke-width="1.15"/><circle cx="591.9" cy="191.2" r="3.62" fill="rgba(255,165,0,0.3)" stroke="#555" stroke-width="1.15"/><circle cx="589.4" cy="269.4" r="3.62" fill="rgba(255,165,0,0.3)" stroke="#555" stroke-width="1.15"/><circle cx="590.4" cy="178.1" r="3.62" fill="rgba(255,165,0,0.3)" stroke="#555" stroke-width="1.15"/><circle cx="590.7" cy="153.6" r="3.62" fill="rgba(255,165,0,0.3)" stroke="#555" stroke-width="1.15"/><circle cx="591.5" cy="272.1" r="3.62" fill="rgba(255,165,0,0.3)" stroke="#555" stroke-width="1.15"/><circle cx="590.6" cy="150.7" r="3.62" fill="rgba(255,165,0,0.3)" stroke="#555" stroke-width="1.15"/><circle cx="591.1" cy="145.7" r="3.62" fill="rgba(255,165,0,0.3)" stroke="#555" stroke-width="1.15"/><circle cx="590.3" cy="287.8" r="3.62" fill="rgba(255,165,0,0.3)" stroke="#555" stroke-width="1.15"/><circle cx="591.2" cy="147.5" r="3.62" fill="rgba(255,165,0,0.3)" stroke="#555" stroke-width="1.15"/><circle cx="590.6" cy="310.7" r="3.62" fill="rgba(255,165,0,0.3)" stroke="#555" stroke-width="1.15"/><circle cx="592.2" cy="144.3" r="3.62" fill="rgba(255,165,0,0.3)" stroke="#555" stroke-width="1.15"/><circle cx="591.6" cy="142.6" r="3.62" fill="rgba(255,165,0,0.3)" stroke="#555" stroke-width="1.15"/><circle cx="590.2" cy="211.3" r="3.62" fill="rgba(255,165,0,0.3)" stroke="#555" stroke-width="1.15"/><circle cx="589.6" cy="131.6" r="3.62" fill="rgba(255,165,0,0.3)" stroke="#555" stroke-width="1.15"/><circle cx="591.1" cy="275.7" r="3.62" fill="rgba(255,165,0,0.3)" stroke="#555" stroke-width="1.15"/><circle cx="592.4" cy="237.2" r="3.62" fill="rgba(255,165,0,0.3)" stroke="#555" stroke-width="1.15"/><circle cx="591.6" cy="186.8" r="3.62" fill="rgba(255,165,0,0.3)" stroke="#555" stroke-width="1.15"/><circle cx="599.1" cy="251.1" r="3.62" fill="rgba(255,165,0,0.3)" stroke="#555" stroke-width="1.15"/><circle cx="598.2" cy="267.3" r="3.62" fill="rgba(255,165,0,0.3)" stroke="#555" stroke-width="1.15"/><circle cx="599.2" cy="217.5" r="3.62" fill="rgba(0,0,255,0.27)" stroke="#555" stroke-width="1.15"/><circle cx="600.4" cy="213.5" r="3.62" fill="rgba(255,165,0,0.3)" stroke="#555" stroke-width="1.15"/><circle cx="597.5" cy="267.1" r="3.62" fill="rgba(255,165,0,0.3)" stroke="#555" stroke-width="1.15"/><circle cx="598.5" cy="220.3" r="3.62" fill="rgba(255,165,0,0.3)" stroke="#555" stroke-width="1.15"/><circle cx="598.9" cy="175.4" r="3.62" fill="rgba(0,0,255,0.27)" stroke="#555" stroke-width="1.15"/><circle cx="599.5" cy="204.7" r="3.62" fill="rgba(255,165,0,0.3)" stroke="#555" stroke-width="1.15"/><circle cx="598.4" cy="271.0" r="3.62" fill="rgba(255,165,0,0.3)" stroke="#555" stroke-width="1.15"/><circle cx="599.4" cy="251.3" r="3.62" fill="rgba(255,165,0,0.3)" stroke="#555" stroke-width="1.15"/><circle cx="599.4" cy="240.8" r="3.62" fill="rgba(0,0,255,0.27)" stroke="#555" stroke-width="1.15"/><circle cx="597.8" cy="213.0" r="3.62" fill="rgba(0,0,255,0.27)" stroke="#555" stroke-width="1.15"/><circle cx="598.4" cy="273.6" r="3.62" fill="rgba(255,165,0,0.3)" stroke="#555" stroke-width="1.15"/><circle cx="599.4" cy="280.4" r="3.62" fill="rgba(255,165,0,0.3)" stroke="#555" stroke-width="1.15"/><circle cx="598.0" cy="274.7" r="3.62" fill="rgba(255,165,0,0.3)" stroke="#555" stroke-width="1.15"/><circle cx="599.1" cy="283.8" r="3.62" fill="rgba(0,0,255,0.27)" stroke="#555" stroke-width="1.15"/><circle cx="597.8" cy="265.2" r="3.62" fill="rgba(255,165,0,0.3)" stroke="#555" stroke-width="1.15"/><circle cx="597.3" cy="182.8" r="3.62" fill="rgba(255,165,0,0.3)" stroke="#555" stroke-width="1.15"/><circle cx="599.7" cy="215.9" r="3.62" fill="rgba(0,0,255,0.27)" stroke="#555" stroke-width="1.15"/><circle cx="599.0" cy="250.0" r="3.62" fill="rgba(0,0,255,0.27)" stroke="#555" stroke-width="1.15"/><circle cx="600.0" cy="282.1" r="3.62" fill="rgba(255,165,0,0.3)" stroke="#555" stroke-width="1.15"/><circle cx="597.8" cy="229.9" r="3.62" fill="rgba(255,165,0,0.3)" stroke="#555" stroke-width="1.15"/><circle cx="599.2" cy="277.9" r="3.62" fill="rgba(255,165,0,0.3)" stroke="#555" stroke-width="1.15"/><circle cx="598.2" cy="163.9" r="3.62" fill="rgba(255,165,0,0.3)" stroke="#555" stroke-width="1.15"/><circle cx="598.8" cy="230.8" r="3.62" fill="rgba(0,0,255,0.27)" stroke="#555" stroke-width="1.15"/><circle cx="599.4" cy="200.6" r="3.62" fill="rgba(0,0,255,0.27)" stroke="#555" stroke-width="1.15"/><circle cx="598.4" cy="177.3" r="3.62" fill="rgba(255,165,0,0.3)" stroke="#555" stroke-width="1.15"/><circle cx="597.6" cy="210.4" r="3.62" fill="rgba(0,0,255,0.27)" stroke="#555" stroke-width="1.15"/><circle cx="597.9" cy="196.0" r="3.62" fill="rgba(0,0,255,0.27)" stroke="#555" stroke-width="1.15"/><circle cx="596.1" cy="228.2" r="3.62" fill="rgba(0,0,255,0.27)" stroke="#555" stroke-width="1.15"/><circle cx="599.3" cy="162.0" r="3.62" fill="rgba(0,0,255,0.27)" stroke="#555" stroke-width="1.15"/><circle cx="597.6" cy="270.6" r="3.62" fill="rgba(255,165,0,0.3)" stroke="#555" stroke-width="1.15"/><circle cx="599.8" cy="256.4" r="3.62" fill="rgba(255,165,0,0.3)" stroke="#555" stroke-width="1.15"/><circle cx="597.4" cy="160.5" r="3.62" fill="rgba(0,0,255,0.27)" stroke="#555" stroke-width="1.15"/><circle cx="598.2" cy="241.8" r="3.62" fill="rgba(255,165,0,0.3)" stroke="#555" stroke-width="1.15"/><circle cx="597.0" cy="261.6" r="3.62" fill="rgba(255,165,0,0.3)" stroke="#555" stroke-width="1.15"/><circle cx="599.9" cy="163.7" r="3.62" fill="rgba(255,165,0,0.3)" stroke="#555" stroke-width="1.15"/><circle cx="598.1" cy="160.7" r="3.62" fill="rgba(0,0,255,0.27)" stroke="#555" stroke-width="1.15"/><circle cx="598.0" cy="159.4" r="3.62" fill="rgba(255,165,0,0.3)" stroke="#555" stroke-width="1.15"/><circle cx="598.0" cy="212.9" r="3.62" fill="rgba(0,0,255,0.27)" stroke="#555" stroke-width="1.15"/><circle cx="598.0" cy="179.2" r="3.62" fill="rgba(0,0,255,0.27)" stroke="#555" stroke-width="1.15"/><circle cx="598.9" cy="248.0" r="3.62" fill="rgba(0,0,255,0.27)" stroke="#555" stroke-width="1.15"/><circle cx="597.6" cy="259.9" r="3.62" fill="rgba(255,165,0,0.3)" stroke="#555" stroke-width="1.15"/><circle cx="598.0" cy="228.0" r="3.62" fill="rgba(0,0,255,0.27)" stroke="#555" stroke-width="1.15"/><circle cx="597.8" cy="281.6" r="3.62" fill="rgba(255,165,0,0.3)" stroke="#555" stroke-width="1.15"/><circle cx="597.2" cy="168.0" r="3.62" fill="rgba(0,0,255,0.27)" stroke="#555" stroke-width="1.15"/><circle cx="598.2" cy="185.0" r="3.62" fill="rgba(255,165,0,0.3)" stroke="#555" stroke-width="1.15"/><circle cx="599.5" cy="267.9" r="3.62" fill="rgba(255,165,0,0.3)" stroke="#555" stroke-width="1.15"/><circle cx="598.6" cy="248.4" r="3.62" fill="rgba(0,0,255,0.27)" stroke="#555" stroke-width="1.15"/><circle cx="598.7" cy="193.8" r="3.62" fill="rgba(255,165,0,0.3)" stroke="#555" stroke-width="1.15"/><circle cx="599.9" cy="200.5" r="3.62" fill="rgba(255,165,0,0.3)" stroke="#555" stroke-width="1.15"/><circle cx="597.0" cy="283.1" r="3.62" fill="rgba(255,165,0,0.3)" stroke="#555" stroke-width="1.15"/><circle cx="597.8" cy="283.2" r="3.62" fill="rgba(0,0,255,0.27)" stroke="#555" stroke-width="1.15"/><circle cx="598.7" cy="225.9" r="3.62" fill="rgba(0,0,255,0.27)" stroke="#555" stroke-width="1.15"/><circle cx="598.3" cy="255.1" r="3.62" fill="rgba(255,165,0,0.3)" stroke="#555" stroke-width="1.15"/><circle cx="598.9" cy="226.5" r="3.62" fill="rgba(255,165,0,0.3)" stroke="#555" stroke-width="1.15"/><circle cx="600.0" cy="218.6" r="3.62" fill="rgba(0,0,255,0.27)" stroke="#555" stroke-width="1.15"/><circle cx="598.6" cy="216.3" r="3.62" fill="rgba(0,0,255,0.27)" stroke="#555" stroke-width="1.15"/><circle cx="597.9" cy="188.7" r="3.62" fill="rgba(255,165,0,0.3)" stroke="#555" stroke-width="1.15"/><circle cx="598.6" cy="212.6" r="3.62" fill="rgba(255,165,0,0.3)" stroke="#555" stroke-width="1.15"/><circle cx="603.7" cy="279.7" r="3.62" fill="rgba(255,165,0,0.3)" stroke="#555" stroke-width="1.15"/><circle cx="603.8" cy="290.6" r="3.62" fill="rgba(255,165,0,0.3)" stroke="#555" stroke-width="1.15"/><circle cx="604.7" cy="214.6" r="3.62" fill="rgba(0,0,255,0.27)" stroke="#555" stroke-width="1.15"/><circle cx="605.7" cy="290.8" r="3.62" fill="rgba(255,165,0,0.3)" stroke="#555" stroke-width="1.15"/><circle cx="605.5" cy="189.5" r="3.62" fill="rgba(255,165,0,0.3)" stroke="#555" stroke-width="1.15"/><circle cx="606.1" cy="184.9" r="3.62" fill="rgba(0,0,255,0.27)" stroke="#555" stroke-width="1.15"/><circle cx="606.0" cy="203.8" r="3.62" fill="rgba(255,165,0,0.3)" stroke="#555" stroke-width="1.15"/><circle cx="604.8" cy="328.8" r="3.62" fill="rgba(255,165,0,0.3)" stroke="#555" stroke-width="1.15"/><circle cx="606.9" cy="294.5" r="3.62" fill="rgba(255,165,0,0.3)" stroke="#555" stroke-width="1.15"/><circle cx="604.4" cy="330.8" r="3.62" fill="rgba(255,165,0,0.3)" stroke="#555" stroke-width="1.15"/><circle cx="604.7" cy="160.4" r="3.62" fill="rgba(0,0,255,0.27)" stroke="#555" stroke-width="1.15"/><circle cx="604.7" cy="236.3" r="3.62" fill="rgba(255,165,0,0.3)" stroke="#555" stroke-width="1.15"/><circle cx="605.5" cy="162.3" r="3.62" fill="rgba(255,165,0,0.3)" stroke="#555" stroke-width="1.15"/><circle cx="604.9" cy="321.7" r="3.62" fill="rgba(255,165,0,0.3)" stroke="#555" stroke-width="1.15"/><circle cx="605.1" cy="196.6" r="3.62" fill="rgba(0,0,255,0.27)" stroke="#555" stroke-width="1.15"/><circle cx="604.7" cy="190.7" r="3.62" fill="rgba(0,0,255,0.27)" stroke="#555" stroke-width="1.15"/><circle cx="605.3" cy="263.3" r="3.62" fill="rgba(255,165,0,0.3)" stroke="#555" stroke-width="1.15"/><circle cx="604.6" cy="298.9" r="3.62" fill="rgba(255,165,0,0.3)" stroke="#555" stroke-width="1.15"/><circle cx="606.0" cy="220.5" r="3.62" fill="rgba(255,165,0,0.3)" stroke="#555" stroke-width="1.15"/><circle cx="605.3" cy="244.6" r="3.62" fill="rgba(0,0,255,0.27)" stroke="#555" stroke-width="1.15"/><circle cx="603.9" cy="182.4" r="3.62" fill="rgba(255,165,0,0.3)" stroke="#555" stroke-width="1.15"/><circle cx="604.7" cy="326.4" r="3.62" fill="rgba(255,165,0,0.3)" stroke="#555" stroke-width="1.15"/><circle cx="604.7" cy="164.1" r="3.62" fill="rgba(255,165,0,0.3)" stroke="#555" stroke-width="1.15"/><circle cx="605.1" cy="309.8" r="3.62" fill="rgba(255,165,0,0.3)" stroke="#555" stroke-width="1.15"/><circle cx="606.1" cy="248.7" r="3.62" fill="rgba(255,165,0,0.3)" stroke="#555" stroke-width="1.15"/><circle cx="605.4" cy="235.4" r="3.62" fill="rgba(255,165,0,0.3)" stroke="#555" stroke-width="1.15"/><circle cx="606.2" cy="192.2" r="3.62" fill="rgba(255,165,0,0.3)" stroke="#555" stroke-width="1.15"/><circle cx="605.7" cy="179.4" r="3.62" fill="rgba(0,0,255,0.27)" stroke="#555" stroke-width="1.15"/><circle cx="605.2" cy="254.1" r="3.62" fill="rgba(255,165,0,0.3)" stroke="#555" stroke-width="1.15"/><circle cx="605.1" cy="271.4" r="3.62" fill="rgba(255,165,0,0.3)" stroke="#555" stroke-width="1.15"/><circle cx="604.6" cy="181.0" r="3.62" fill="rgba(0,0,255,0.27)" stroke="#555" stroke-width="1.15"/><circle cx="605.1" cy="327.7" r="3.62" fill="rgba(255,165,0,0.3)" stroke="#555" stroke-width="1.15"/><circle cx="604.0" cy="230.4" r="3.62" fill="rgba(255,165,0,0.3)" stroke="#555" stroke-width="1.15"/><circle cx="603.7" cy="320.2" r="3.62" fill="rgba(255,165,0,0.3)" stroke="#555" stroke-width="1.15"/><circle cx="606.9" cy="257.3" r="3.62" fill="rgba(255,165,0,0.3)" stroke="#555" stroke-width="1.15"/><circle cx="606.3" cy="298.9" r="3.62" fill="rgba(255,165,0,0.3)" stroke="#555" stroke-width="1.15"/><circle cx="606.2" cy="267.3" r="3.62" fill="rgba(255,165,0,0.3)" stroke="#555" stroke-width="1.15"/><circle cx="605.4" cy="300.6" r="3.62" fill="rgba(255,165,0,0.3)" stroke="#555" stroke-width="1.15"/><circle cx="604.9" cy="215.8" r="3.62" fill="rgba(255,165,0,0.3)" stroke="#555" stroke-width="1.15"/><circle cx="603.7" cy="165.9" r="3.62" fill="rgba(255,165,0,0.3)" stroke="#555" stroke-width="1.15"/><circle cx="605.8" cy="228.0" r="3.62" fill="rgba(255,165,0,0.3)" stroke="#555" stroke-width="1.15"/><circle cx="603.4" cy="212.8" r="3.62" fill="rgba(255,165,0,0.3)" stroke="#555" stroke-width="1.15"/><circle cx="605.3" cy="162.6" r="3.62" fill="rgba(0,0,255,0.27)" stroke="#555" stroke-width="1.15"/><circle cx="606.6" cy="281.3" r="3.62" fill="rgba(255,165,0,0.3)" stroke="#555" stroke-width="1.15"/><circle cx="605.9" cy="335.3" r="3.62" fill="rgba(255,165,0,0.3)" stroke="#555" stroke-width="1.15"/><circle cx="605.4" cy="286.1" r="3.62" fill="rgba(255,165,0,0.3)" stroke="#555" stroke-width="1.15"/><circle cx="604.9" cy="268.3" r="3.62" fill="rgba(0,0,255,0.27)" stroke="#555" stroke-width="1.15"/><circle cx="605.9" cy="266.3" r="3.62" fill="rgba(255,165,0,0.3)" stroke="#555" stroke-width="1.15"/><circle cx="604.6" cy="208.1" r="3.62" fill="rgba(0,0,255,0.27)" stroke="#555" stroke-width="1.15"/><circle cx="605.6" cy="165.5" r="3.62" fill="rgba(0,0,255,0.27)" stroke="#555" stroke-width="1.15"/><circle cx="604.7" cy="339.1" r="3.62" fill="rgba(255,165,0,0.3)" stroke="#555" stroke-width="1.15"/><circle cx="605.1" cy="321.4" r="3.62" fill="rgba(255,165,0,0.3)" stroke="#555" stroke-width="1.15"/><circle cx="605.5" cy="264.1" r="3.62" fill="rgba(255,165,0,0.3)" stroke="#555" stroke-width="1.15"/><circle cx="603.1" cy="158.6" r="3.62" fill="rgba(0,0,255,0.27)" stroke="#555" stroke-width="1.15"/><circle cx="606.1" cy="168.4" r="3.62" fill="rgba(255,165,0,0.3)" stroke="#555" stroke-width="1.15"/><circle cx="606.8" cy="311.1" r="3.62" fill="rgba(255,165,0,0.3)" stroke="#555" stroke-width="1.15"/><circle cx="606.4" cy="165.7" r="3.62" fill="rgba(255,165,0,0.3)" stroke="#555" stroke-width="1.15"/><circle cx="604.0" cy="184.4" r="3.62" fill="rgba(255,165,0,0.3)" stroke="#555" stroke-width="1.15"/><circle cx="605.0" cy="304.0" r="3.62" fill="rgba(255,165,0,0.3)" stroke="#555" stroke-width="1.15"/><circle cx="605.7" cy="206.4" r="3.62" fill="rgba(0,0,255,0.27)" stroke="#555" stroke-width="1.15"/><circle cx="604.3" cy="241.7" r="3.62" fill="rgba(255,165,0,0.3)" stroke="#555" stroke-width="1.15"/><circle cx="603.3" cy="251.1" r="3.62" fill="rgba(255,165,0,0.3)" stroke="#555" stroke-width="1.15"/><circle cx="604.2" cy="338.0" r="3.62" fill="rgba(255,165,0,0.3)" stroke="#555" stroke-width="1.15"/><circle cx="605.8" cy="215.0" r="3.62" fill="rgba(0,0,255,0.27)" stroke="#555" stroke-width="1.15"/><circle cx="605.1" cy="234.1" r="3.62" fill="rgba(0,0,255,0.27)" stroke="#555" stroke-width="1.15"/><circle cx="605.9" cy="317.9" r="3.62" fill="rgba(255,165,0,0.3)" stroke="#555" stroke-width="1.15"/><circle cx="604.5" cy="290.8" r="3.62" fill="rgba(255,165,0,0.3)" stroke="#555" stroke-width="1.15"/><circle cx="604.5" cy="195.5" r="3.62" fill="rgba(255,165,0,0.3)" stroke="#555" stroke-width="1.15"/><circle cx="606.4" cy="266.4" r="3.62" fill="rgba(255,165,0,0.3)" stroke="#555" stroke-width="1.15"/><circle cx="605.4" cy="308.0" r="3.62" fill="rgba(255,165,0,0.3)" stroke="#555" stroke-width="1.15"/><circle cx="605.7" cy="336.0" r="3.62" fill="rgba(255,165,0,0.3)" stroke="#555" stroke-width="1.15"/><circle cx="605.1" cy="289.7" r="3.62" fill="rgba(255,165,0,0.3)" stroke="#555" stroke-width="1.15"/><circle cx="605.4" cy="276.0" r="3.62" fill="rgba(255,165,0,0.3)" stroke="#555" stroke-width="1.15"/><circle cx="603.8" cy="325.6" r="3.62" fill="rgba(255,165,0,0.3)" stroke="#555" stroke-width="1.15"/><circle cx="604.9" cy="277.4" r="3.62" fill="rgba(255,165,0,0.3)" stroke="#555" stroke-width="1.15"/><circle cx="603.5" cy="262.2" r="3.62" fill="rgba(255,165,0,0.3)" stroke="#555" stroke-width="1.15"/><circle cx="605.1" cy="235.5" r="3.62" fill="rgba(0,0,255,0.27)" stroke="#555" stroke-width="1.15"/><circle cx="603.9" cy="223.8" r="3.62" fill="rgba(0,0,255,0.27)" stroke="#555" stroke-width="1.15"/><circle cx="605.5" cy="235.7" r="3.62" fill="rgba(0,0,255,0.27)" stroke="#555" stroke-width="1.15"/><circle cx="605.4" cy="161.1" r="3.62" fill="rgba(255,165,0,0.3)" stroke="#555" stroke-width="1.15"/><circle cx="604.9" cy="229.9" r="3.62" fill="rgba(0,0,255,0.27)" stroke="#555" stroke-width="1.15"/><circle cx="604.3" cy="201.5" r="3.62" fill="rgba(0,0,255,0.27)" stroke="#555" stroke-width="1.15"/><circle cx="604.5" cy="317.0" r="3.62" fill="rgba(255,165,0,0.3)" stroke="#555" stroke-width="1.15"/><circle cx="604.8" cy="216.9" r="3.62" fill="rgba(0,0,255,0.27)" stroke="#555" stroke-width="1.15"/><circle cx="606.0" cy="320.5" r="3.62" fill="rgba(255,165,0,0.3)" stroke="#555" stroke-width="1.15"/><circle cx="605.0" cy="285.1" r="3.62" fill="rgba(255,165,0,0.3)" stroke="#555" stroke-width="1.15"/><circle cx="605.7" cy="243.5" r="3.62" fill="rgba(0,0,255,0.27)" stroke="#555" stroke-width="1.15"/><circle cx="605.2" cy="315.2" r="3.62" fill="rgba(255,165,0,0.3)" stroke="#555" stroke-width="1.15"/><circle cx="606.6" cy="178.8" r="3.62" fill="rgba(255,165,0,0.3)" stroke="#555" stroke-width="1.15"/><circle cx="606.4" cy="241.6" r="3.62" fill="rgba(0,0,255,0.27)" stroke="#555" stroke-width="1.15"/><circle cx="604.9" cy="169.0" r="3.62" fill="rgba(255,165,0,0.3)" stroke="#555" stroke-width="1.15"/><circle cx="606.5" cy="279.1" r="3.62" fill="rgba(255,165,0,0.3)" stroke="#555" stroke-width="1.15"/><circle cx="605.7" cy="320.3" r="3.62" fill="rgba(255,165,0,0.3)" stroke="#555" stroke-width="1.15"/><circle cx="604.7" cy="265.1" r="3.62" fill="rgba(255,165,0,0.3)" stroke="#555" stroke-width="1.15"/><circle cx="604.7" cy="203.4" r="3.62" fill="rgba(255,165,0,0.3)" stroke="#555" stroke-width="1.15"/><circle cx="610.9" cy="205.1" r="3.62" fill="rgba(255,165,0,0.3)" stroke="#555" stroke-width="1.15"/><circle cx="610.5" cy="264.0" r="3.62" fill="rgba(255,165,0,0.3)" stroke="#555" stroke-width="1.15"/><circle cx="609.5" cy="197.1" r="3.62" fill="rgba(255,165,0,0.3)" stroke="#555" stroke-width="1.15"/><circle cx="611.6" cy="222.5" r="3.62" fill="rgba(255,165,0,0.3)" stroke="#555" stroke-width="1.15"/><circle cx="611.8" cy="269.6" r="3.62" fill="rgba(255,165,0,0.3)" stroke="#555" stroke-width="1.15"/><circle cx="610.8" cy="236.2" r="3.62" fill="rgba(255,165,0,0.3)" stroke="#555" stroke-width="1.15"/><circle cx="610.5" cy="171.8" r="3.62" fill="rgba(0,0,255,0.27)" stroke="#555" stroke-width="1.15"/><circle cx="610.4" cy="261.8" r="3.62" fill="rgba(255,165,0,0.3)" stroke="#555" stroke-width="1.15"/><circle cx="610.6" cy="320.0" r="3.62" fill="rgba(255,165,0,0.3)" stroke="#555" stroke-width="1.15"/><circle cx="612.2" cy="209.5" r="3.62" fill="rgba(255,165,0,0.3)" stroke="#555" stroke-width="1.15"/><circle cx="610.7" cy="192.7" r="3.62" fill="rgba(0,0,255,0.27)" stroke="#555" stroke-width="1.15"/><circle cx="612.6" cy="241.0" r="3.62" fill="rgba(255,165,0,0.3)" stroke="#555" stroke-width="1.15"/><circle cx="611.3" cy="188.5" r="3.62" fill="rgba(0,0,255,0.27)" stroke="#555" stroke-width="1.15"/><circle cx="611.5" cy="222.8" r="3.62" fill="rgba(255,165,0,0.3)" stroke="#555" stroke-width="1.15"/><circle cx="611.1" cy="247.2" r="3.62" fill="rgba(255,165,0,0.3)" stroke="#555" stroke-width="1.15"/><circle cx="610.1" cy="298.4" r="3.62" fill="rgba(255,165,0,0.3)" stroke="#555" stroke-width="1.15"/><circle cx="609.2" cy="208.9" r="3.62" fill="rgba(255,165,0,0.3)" stroke="#555" stroke-width="1.15"/><circle cx="611.9" cy="255.8" r="3.62" fill="rgba(255,165,0,0.3)" stroke="#555" stroke-width="1.15"/><circle cx="610.5" cy="189.1" r="3.62" fill="rgba(255,165,0,0.3)" stroke="#555" stroke-width="1.15"/><circle cx="611.5" cy="227.5" r="3.62" fill="rgba(255,165,0,0.3)" stroke="#555" stroke-width="1.15"/><circle cx="609.9" cy="201.4" r="3.62" fill="rgba(0,0,255,0.27)" stroke="#555" stroke-width="1.15"/><circle cx="611.3" cy="223.5" r="3.62" fill="rgba(255,165,0,0.3)" stroke="#555" stroke-width="1.15"/><circle cx="610.9" cy="287.5" r="3.62" fill="rgba(255,165,0,0.3)" stroke="#555" stroke-width="1.15"/><circle cx="611.0" cy="177.8" r="3.62" fill="rgba(0,0,255,0.27)" stroke="#555" stroke-width="1.15"/><circle cx="611.4" cy="260.1" r="3.62" fill="rgba(255,165,0,0.3)" stroke="#555" stroke-width="1.15"/><circle cx="612.6" cy="208.5" r="3.62" fill="rgba(0,0,255,0.27)" stroke="#555" stroke-width="1.15"/><circle cx="610.8" cy="301.2" r="3.62" fill="rgba(255,165,0,0.3)" stroke="#555" stroke-width="1.15"/><circle cx="611.8" cy="285.4" r="3.62" fill="rgba(255,165,0,0.3)" stroke="#555" stroke-width="1.15"/><circle cx="610.7" cy="173.6" r="3.62" fill="rgba(0,0,255,0.27)" stroke="#555" stroke-width="1.15"/><circle cx="610.6" cy="210.1" r="3.62" fill="rgba(255,165,0,0.3)" stroke="#555" stroke-width="1.15"/><circle cx="611.5" cy="239.5" r="3.62" fill="rgba(0,0,255,0.27)" stroke="#555" stroke-width="1.15"/><circle cx="609.9" cy="333.9" r="3.62" fill="rgba(255,165,0,0.3)" stroke="#555" stroke-width="1.15"/><circle cx="610.9" cy="333.9" r="3.62" fill="rgba(255,165,0,0.3)" stroke="#555" stroke-width="1.15"/><circle cx="611.2" cy="311.0" r="3.62" fill="rgba(255,165,0,0.3)" stroke="#555" stroke-width="1.15"/><circle cx="610.5" cy="318.0" r="3.62" fill="rgba(255,165,0,0.3)" stroke="#555" stroke-width="1.15"/><circle cx="610.3" cy="183.2" r="3.62" fill="rgba(0,0,255,0.27)" stroke="#555" stroke-width="1.15"/><circle cx="611.9" cy="275.9" r="3.62" fill="rgba(255,165,0,0.3)" stroke="#555" stroke-width="1.15"/><circle cx="608.7" cy="214.2" r="3.62" fill="rgba(0,0,255,0.27)" stroke="#555" stroke-width="1.15"/><circle cx="613.2" cy="173.4" r="3.62" fill="rgba(255,165,0,0.3)" stroke="#555" stroke-width="1.15"/><circle cx="612.3" cy="225.8" r="3.62" fill="rgba(0,0,255,0.27)" stroke="#555" stroke-width="1.15"/><circle cx="609.1" cy="208.4" r="3.62" fill="rgba(0,0,255,0.27)" stroke="#555" stroke-width="1.15"/><circle cx="611.8" cy="273.6" r="3.62" fill="rgba(255,165,0,0.3)" stroke="#555" stroke-width="1.15"/><circle cx="610.4" cy="315.5" r="3.62" fill="rgba(255,165,0,0.3)" stroke="#555" stroke-width="1.15"/><circle cx="611.0" cy="195.8" r="3.62" fill="rgba(0,0,255,0.27)" stroke="#555" stroke-width="1.15"/><circle cx="610.0" cy="260.7" r="3.62" fill="rgba(255,165,0,0.3)" stroke="#555" stroke-width="1.15"/><circle cx="610.9" cy="318.9" r="3.62" fill="rgba(255,165,0,0.3)" stroke="#555" stroke-width="1.15"/><circle cx="612.6" cy="169.2" r="3.62" fill="rgba(255,165,0,0.3)" stroke="#555" stroke-width="1.15"/><circle cx="611.4" cy="190.5" r="3.62" fill="rgba(255,165,0,0.3)" stroke="#555" stroke-width="1.15"/><circle cx="611.1" cy="216.3" r="3.62" fill="rgba(255,165,0,0.3)" stroke="#555" stroke-width="1.15"/><circle cx="610.5" cy="283.8" r="3.62" fill="rgba(255,165,0,0.3)" stroke="#555" stroke-width="1.15"/><circle cx="610.4" cy="235.9" r="3.62" fill="rgba(0,0,255,0.27)" stroke="#555" stroke-width="1.15"/><circle cx="609.5" cy="278.7" r="3.62" fill="rgba(255,165,0,0.3)" stroke="#555" stroke-width="1.15"/><circle cx="611.4" cy="234.8" r="3.62" fill="rgba(0,0,255,0.27)" stroke="#555" stroke-width="1.15"/><circle cx="611.4" cy="231.9" r="3.62" fill="rgba(255,165,0,0.3)" stroke="#555" stroke-width="1.15"/><circle cx="610.1" cy="302.8" r="3.62" fill="rgba(255,165,0,0.3)" stroke="#555" stroke-width="1.15"/><circle cx="610.7" cy="222.4" r="3.62" fill="rgba(255,165,0,0.3)" stroke="#555" stroke-width="1.15"/><circle cx="612.3" cy="296.9" r="3.62" fill="rgba(255,165,0,0.3)" stroke="#555" stroke-width="1.15"/><circle cx="609.5" cy="300.7" r="3.62" fill="rgba(255,165,0,0.3)" stroke="#555" stroke-width="1.15"/><circle cx="611.5" cy="182.7" r="3.62" fill="rgba(255,165,0,0.3)" stroke="#555" stroke-width="1.15"/><circle cx="611.5" cy="221.1" r="3.62" fill="rgba(255,165,0,0.3)" stroke="#555" stroke-width="1.15"/><circle cx="610.6" cy="286.7" r="3.62" fill="rgba(255,165,0,0.3)" stroke="#555" stroke-width="1.15"/><circle cx="610.9" cy="302.1" r="3.62" fill="rgba(255,165,0,0.3)" stroke="#555" stroke-width="1.15"/><circle cx="610.8" cy="296.2" r="3.62" fill="rgba(255,165,0,0.3)" stroke="#555" stroke-width="1.15"/><circle cx="611.5" cy="229.5" r="3.62" fill="rgba(255,165,0,0.3)" stroke="#555" stroke-width="1.15"/><circle cx="612.0" cy="244.8" r="3.62" fill="rgba(255,165,0,0.3)" stroke="#555" stroke-width="1.15"/><circle cx="612.4" cy="224.1" r="3.62" fill="rgba(255,165,0,0.3)" stroke="#555" stroke-width="1.15"/><circle cx="609.5" cy="316.9" r="3.62" fill="rgba(255,165,0,0.3)" stroke="#555" stroke-width="1.15"/><circle cx="610.9" cy="284.6" r="3.62" fill="rgba(255,165,0,0.3)" stroke="#555" stroke-width="1.15"/><circle cx="612.0" cy="261.0" r="3.62" fill="rgba(255,165,0,0.3)" stroke="#555" stroke-width="1.15"/><circle cx="609.8" cy="212.8" r="3.62" fill="rgba(255,165,0,0.3)" stroke="#555" stroke-width="1.15"/><circle cx="611.2" cy="180.5" r="3.62" fill="rgba(0,0,255,0.27)" stroke="#555" stroke-width="1.15"/><circle cx="610.3" cy="330.9" r="3.62" fill="rgba(0,0,255,0.27)" stroke="#555" stroke-width="1.15"/><circle cx="611.4" cy="260.7" r="3.62" fill="rgba(255,165,0,0.3)" stroke="#555" stroke-width="1.15"/><circle cx="610.0" cy="236.2" r="3.62" fill="rgba(255,165,0,0.3)" stroke="#555" stroke-width="1.15"/><circle cx="612.7" cy="183.6" r="3.62" fill="rgba(0,0,255,0.27)" stroke="#555" stroke-width="1.15"/><circle cx="612.1" cy="281.0" r="3.62" fill="rgba(255,165,0,0.3)" stroke="#555" stroke-width="1.15"/><circle cx="611.5" cy="325.1" r="3.62" fill="rgba(255,165,0,0.3)" stroke="#555" stroke-width="1.15"/><circle cx="609.7" cy="167.8" r="3.62" fill="rgba(0,0,255,0.27)" stroke="#555" stroke-width="1.15"/><circle cx="611.1" cy="256.8" r="3.62" fill="rgba(255,165,0,0.3)" stroke="#555" stroke-width="1.15"/><circle cx="610.5" cy="192.7" r="3.62" fill="rgba(255,165,0,0.3)" stroke="#555" stroke-width="1.15"/><circle cx="612.2" cy="234.1" r="3.62" fill="rgba(255,165,0,0.3)" stroke="#555" stroke-width="1.15"/><circle cx="610.1" cy="213.5" r="3.62" fill="rgba(255,165,0,0.3)" stroke="#555" stroke-width="1.15"/><circle cx="611.3" cy="218.0" r="3.62" fill="rgba(255,165,0,0.3)" stroke="#555" stroke-width="1.15"/><circle cx="609.7" cy="249.2" r="3.62" fill="rgba(255,165,0,0.3)" stroke="#555" stroke-width="1.15"/><circle cx="609.8" cy="283.1" r="3.62" fill="rgba(255,165,0,0.3)" stroke="#555" stroke-width="1.15"/><circle cx="612.4" cy="262.2" r="3.62" fill="rgba(255,165,0,0.3)" stroke="#555" stroke-width="1.15"/><circle cx="608.8" cy="167.2" r="3.62" fill="rgba(255,165,0,0.3)" stroke="#555" stroke-width="1.15"/><circle cx="610.6" cy="288.1" r="3.62" fill="rgba(255,165,0,0.3)" stroke="#555" stroke-width="1.15"/><circle cx="611.3" cy="223.7" r="3.62" fill="rgba(255,165,0,0.3)" stroke="#555" stroke-width="1.15"/><circle cx="610.6" cy="306.8" r="3.62" fill="rgba(255,165,0,0.3)" stroke="#555" stroke-width="1.15"/><circle cx="612.3" cy="173.7" r="3.62" fill="rgba(0,0,255,0.27)" stroke="#555" stroke-width="1.15"/><circle cx="611.0" cy="179.1" r="3.62" fill="rgba(255,165,0,0.3)" stroke="#555" stroke-width="1.15"/><circle cx="610.7" cy="242.5" r="3.62" fill="rgba(0,0,255,0.27)" stroke="#555" stroke-width="1.15"/><circle cx="611.6" cy="321.4" r="3.62" fill="rgba(255,165,0,0.3)" stroke="#555" stroke-width="1.15"/><circle cx="610.1" cy="218.7" r="3.62" fill="rgba(255,165,0,0.3)" stroke="#555" stroke-width="1.15"/><circle cx="562.0" cy="233.0" r="3.62" fill="rgba(255,165,0,0.3)" stroke="#555" stroke-width="1.15"/><circle cx="561.0" cy="240.0" r="3.62" fill="rgba(0,0,255,0.27)" stroke="#555" stroke-width="1.15"/><circle cx="561.3" cy="250.5" r="3.62" fill="rgba(255,165,0,0.3)" stroke="#555" stroke-width="1.15"/><circle cx="566.4" cy="253.0" r="3.62" fill="rgba(255,165,0,0.3)" stroke="#555" stroke-width="1.15"/><circle cx="560.0" cy="261.9" r="3.62" fill="rgba(255,165,0,0.3)" stroke="#555" stroke-width="1.15"/><circle cx="563.9" cy="272.0" r="3.62" fill="rgba(255,165,0,0.3)" stroke="#555" stroke-width="1.15"/><circle cx="560.0" cy="226.0" r="3.62" fill="rgba(255,165,0,0.3)" stroke="#555" stroke-width="1.15"/><circle cx="561.2" cy="311.6" r="3.62" fill="rgba(255,165,0,0.3)" stroke="#555" stroke-width="1.15"/><circle cx="566.0" cy="148.0" r="3.62" fill="rgba(0,0,255,0.27)" stroke="#555" stroke-width="1.15"/><circle cx="560.2" cy="153.9" r="3.62" fill="rgba(0,0,255,0.27)" stroke="#555" stroke-width="1.15"/><circle cx="563.9" cy="158.3" r="3.62" fill="rgba(255,165,0,0.3)" stroke="#555" stroke-width="1.15"/><circle cx="563.9" cy="158.8" r="3.62" fill="rgba(0,0,255,0.27)" stroke="#555" stroke-width="1.15"/><circle cx="579.4" cy="158.3" r="3.62" fill="rgba(0,0,255,0.27)" stroke="#555" stroke-width="1.15"/><circle cx="579.4" cy="165.0" r="3.62" fill="rgba(0,0,255,0.27)" stroke="#555" stroke-width="1.15"/><circle cx="611.0" cy="136.2" r="3.62" fill="rgba(255,165,0,0.3)" stroke="#555" stroke-width="1.15"/><circle cx="611.0" cy="143.6" r="3.62" fill="rgba(255,165,0,0.3)" stroke="#555" stroke-width="1.15"/><circle cx="591.2" cy="116.3" r="3.62" fill="rgba(255,165,0,0.3)" stroke="#555" stroke-width="1.15"/><circle cx="591.2" cy="116.9" r="3.62" fill="rgba(255,165,0,0.3)" stroke="#555" stroke-width="1.15"/><circle cx="591.2" cy="119.5" r="3.62" fill="rgba(255,165,0,0.3)" stroke="#555" stroke-width="1.15"/><circle cx="591.2" cy="123.0" r="3.62" fill="rgba(255,165,0,0.3)" stroke="#555" stroke-width="1.15"/><circle cx="591.2" cy="123.6" r="3.62" fill="rgba(255,165,0,0.3)" stroke="#555" stroke-width="1.15"/><circle cx="591.2" cy="127.7" r="3.62" fill="rgba(255,165,0,0.3)" stroke="#555" stroke-width="1.15"/><circle cx="591.2" cy="133.7" r="3.62" fill="rgba(0,0,255,0.27)" stroke="#555" stroke-width="1.15"/><circle cx="597.8" cy="138.5" r="3.62" fill="rgba(255,165,0,0.3)" stroke="#555" stroke-width="1.15"/><circle cx="597.8" cy="145.0" r="3.62" fill="rgba(255,165,0,0.3)" stroke="#555" stroke-width="1.15"/><line x1="91.3" y1="103.9" x2="608.4" y2="227.1" stroke="rgba(0,0,255,0.6)" stroke-width="2.8" stroke-linecap="round"/><line x1="91.3" y1="144.8" x2="609" y2="237.2" stroke="rgba(255,165,0,0.88)" stroke-width="2.8" stroke-linecap="round"/><line x1="345.3" y1="139" x2="619.4" y2="267.2" stroke="rgba(255,0,0,0.6)" stroke-width="2.8" stroke-linecap="round"/><rect x="85.1" y="319.9" width="181.6" height="66.6" fill="#e4e4e4" stroke="#333" stroke-width="1.2"/><line x1="98.5" y1="336.5" x2="129" y2="336.5" stroke="#6464ff" stroke-width="2.5" stroke-linecap="round"/><text x="142.7" y="342.9" font-size="15.65" font-family="Liberation Sans, sans-serif" stroke="#111" stroke-width="0.35" fill="#111">Bacteria (DNA)</text><line x1="98.5" y1="353.0" x2="129" y2="353.0" stroke="#ffa820" stroke-width="2.5" stroke-linecap="round"/><text x="142.7" y="359.3" font-size="15.65" font-family="Liberation Sans, sans-serif" stroke="#111" stroke-width="0.35" fill="#111">Bacteria (RNA)</text><line x1="98.5" y1="369.5" x2="129" y2="369.5" stroke="rgba(255,0,0,0.55)" stroke-width="2.5" stroke-linecap="round"/><text x="142.7" y="375.8" font-size="15.65" font-family="Liberation Sans, sans-serif" stroke="#111" stroke-width="0.35" fill="#111">Tree</text></svg></body></html>
